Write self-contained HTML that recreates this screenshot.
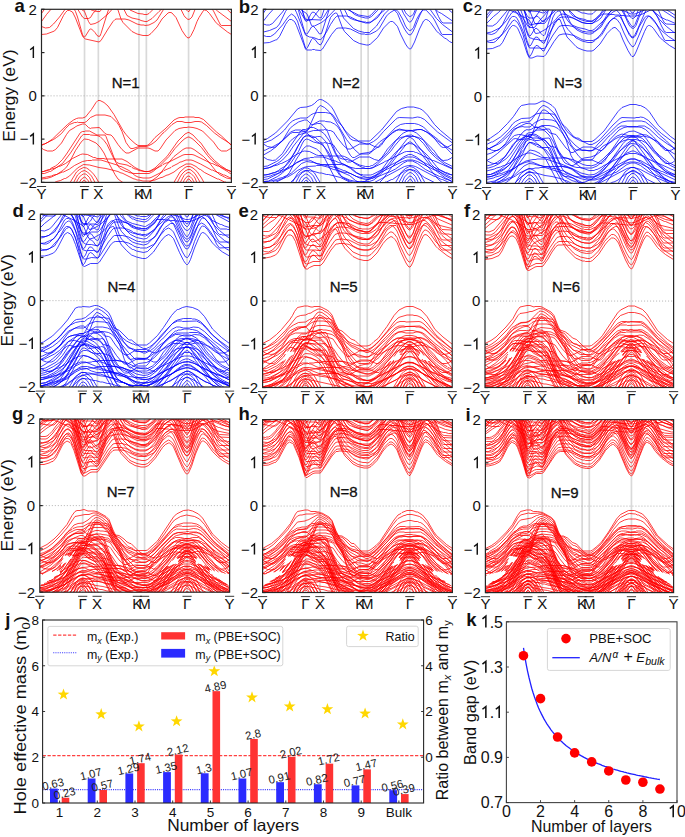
<!DOCTYPE html><html><head><meta charset="utf-8"><style>html,body{margin:0;padding:0;background:#fff;overflow:hidden;}svg{display:block;}</style></head><body><svg width="685" height="837" viewBox="0 0 685 837" font-family='"Liberation Sans", sans-serif' fill="#111">
<rect width="685" height="837" fill="#fff"/>
<clipPath id="clipa"><rect x="41.50" y="9.30" width="189.90" height="173.10"/></clipPath>
<line x1="84.53" y1="9.30" x2="84.53" y2="182.40" stroke="#d9d9d9" stroke-width="1.7"/>
<line x1="98.34" y1="9.30" x2="98.34" y2="182.40" stroke="#d9d9d9" stroke-width="1.7"/>
<line x1="138.96" y1="9.30" x2="138.96" y2="182.40" stroke="#d9d9d9" stroke-width="1.7"/>
<line x1="146.36" y1="9.30" x2="146.36" y2="182.40" stroke="#d9d9d9" stroke-width="1.7"/>
<line x1="188.58" y1="9.30" x2="188.58" y2="182.40" stroke="#d9d9d9" stroke-width="1.7"/>
<line x1="41.50" y1="95.85" x2="231.40" y2="95.85" stroke="#b0b0b0" stroke-width="0.9" stroke-dasharray="1.1,1.9"/>
<g clip-path="url(#clipa)"><path transform="scale(0.5)" fill="none" stroke="#ff0000" stroke-width="1.5" stroke-linejoin="round" d="M83 291l12-6 10-7 30-29 12-9 6-3 4-1 8 0 6-2 12-15 9-14 4-4 4 0 8 4 8 7 12 17 18 32 6 8 8 9 10 9 6 4 18 0 2-1 4-3 10-12 20-17 18-18 8-4 4-1 8 0 2-1 18 0 2 1 8 0 9 4 26 25 10 8 20 19M83 290l4-2 2 0 18-9 6-4 10-8 8-10 8-8 10-4 4 0 2-1 2 1 12 0 4-2 8-8 11-5 18 0 12 3 12 12 4 6 6 12 8 22 8 11 2 1 4 0 12-4 14 0 4-1 8-4 8-6 14-16 2-1 16-16 10-6 10 0 6 2 12 0 8-2 8 0 5 1 10 7 16 15 12 9 16 10 6 5M83 296l4 3 8 3 10 0 6-3 12-13 10-17 6-8 12-7 2-2 12-4 4 0 2 1 6 6 4 2 2-1 15-1 2 1 10 11 4 2 8 1 4 4 10 15 8 10 8 7 6 0 18-10 20 0 4 1 10 5 6 0 4-4 12-18 18-19 8-4 10-2 6 0 2-1 10 1 8 2 11 5 22 22 10 14 6 4 10 0 10-6M83 343l4 0 10-4 2 0 2-2 10-5 4-3 10-10 8-11 28-43 4-2 4 0 2-1 8 0 15 8 16 0 2 3 16 42 4 8 2 2 4 2 16 3 6 3 2 0 2 2 6 3 2 0 6 3 10 2 8 0 4-1 10-6 24-23 22-31 14-14 6-3 2 0 8 5 12 13 3 2 16 23 12 13 12 10 12 8 10 4M83 347l6 0 10-4 2 0 24-16 16-21 22-34 4-3 12 0 2 1 13 1 6 2 8 8 6 8 14 29 8 14 4 5 12 6 2 0 4 2 10 2 30 0 8-4 12-10 20-20 12-16 14-15 6-5 6-3 2 0 6 3 6 5 13 13 12 16 8 9 20 16 12 7 2 2 4 2 2 0M83 358l10-1 10-3 12-6 12-8 6-6 4-6 14-27 10-15 4-5 4-3 8 1 15 7 8 8 8 12 8 17 14 26 6 9 8 6 14 7 8 2 14 0 4-2 2 0 18-10 10-7 6-6 14-19 14-16 18-14 6-3 10 0 6 3 19 14 8 8 16 20 8 8 14 7 10 2M83 344l16-4 4-2 8-2 6-3 2 0 12-6 14-10 16-8 4-1 10 1 12 6 3 0 4 2 14 0 2 1 34 0 10 5 16 12 10 5 10 3 8 0 4-1 22-11 2-2 6-3 2 0 32-16 4-1 14 0 4 1 35 17 2 0 10 5 2 0 26 12M83 356l20-4 4-2 6-1 12-5 2 0 12-6 10-7 16-8 10-2 8 0 2-1 17 0 32 10 6 3 2 0 16 8 12 10 6 3 10 2 12 0 4-1 24-12 2-2 14-6 2-2 12-6 4-3 2 0 10-4 10 0 4 1 15 7 22 12 2 0 10 5 2 0 10 5 2 0 10 5 4 1M83 369l14-1 12-3 4-2 8-2 8-4 2 0 8-5 16-16 12-7 12 1 19 5 14 2 24 6 6 3 2 0 24 12 2 0 4 2 4 0 8 2 14 0 10-2 12-5 2 0 10-5 2 0 12-6 10-8 14-8 10 0 10 5 6 5 3 1 8 6 26 13 2 0 12 6 2 0 8 4 4 1M133 377l20-33 6-5 8-4 6 1 6 4 8 8 5 7 12 21M342 375l18-31 10-9 4-2 6 0 6 3 8 7 9 13 12 22M141 377l14-27 8-7 6-2 6 3 8 8 15 27M348 378l12-24 4-6 6-6 6-3 4 0 2 1 8 7 17 29M147 379l8-19 4-6 4-4 4-2 4 0 2 1 6 6 8 18 3 4M356 376l6-14 6-11 4-4 4-2 2 0 4 2 6 6 2 3 6 15 5 8M155 375l4-11 4-6 6-4 2 1 6 7 6 17M362 378l6-17 4-6 4-3 4 1 4 4 4 7 4 12M159 378l2-8 2-4 4-5 2 0 2 1 4 6 4 14M366 383l4-16 6-9 2 0 4 4 2 4 4 14M83 69l10-1 16-6 6-7 12-24 4-6 4-4 4 0 6 3 6 12 14 36 2 3 4 3 27 6 4-3 14-23 10-15 4-4 2-1 18 0 8 2 16 8 8 2 6 0 2 1 8-1 10-5 6-5 18-29 4-3M354 6l8 13 6 12 2 3 6 5 4-1 4-4 6-15 8-13M415 7l4 4 8 11 14 28 2 1 20 0M83 53l8 3 8-1 8-7 12-14 16-22 4-2 2 0 2 1 4 5 4 7 4 11 10 35 2 4 2 1 2-2 8-13 2-1 2 0 7 7 4 6 4 2 2-1 2-5 14-45 4-8 6-5 4-1 6 12 6 18 4 7 18 18 10 5 12 3 10 0 2-1 4-3 12-13 10-16 12-12 2-1 4 0 2 1 8 9 12 26 6 9 4 5 4 1 4-5 6-12 6-16 4-8 9-14 2-1 4 1 6 6 12 17 6 6 18 14 8 5M83 43l10-14 18-21M149 8l16 26 4 3 8 0 4-2 6-10 3-2 14-17M240 7l6 8 8 16 10 5 14 3 4 2 8 2 4 0 10-6 14-14 18-16M368 8l6 2 6 0 6-2M419 7l16 15 28 21M83 27l14-20M141 8l22 11 6 4 8 20 4 6 9-2 8-4 18-15 14-16 4-2 6 0 4 2 2 0 12 6 2 2 16 7 10 1 2 1 6 0 4-2 16-16 2-1 26 1 2 1 16 1 2 1 22 0 17-6M443 8l20 19M163 6l4 9 6 3 8 1 4 2 9 2 6 0 10-15M161 1l4 14 2 4 2 1 2-1 6-11 2-2M185 6l11 13 4-1 4-11M262 7l2 2 12 6 14 3 4 0 6-3 8-8M364 7l8 12 4 4 2 0 8-13 2-5"/></g>
<rect x="41.50" y="9.30" width="189.90" height="173.10" fill="none" stroke="#262626" stroke-width="1.2"/>
<line x1="41.50" y1="9.30" x2="44.50" y2="9.30" stroke="#262626" stroke-width="1.2"/>
<text x="36.90" y="14.60" font-size="15" text-anchor="end">2</text>
<line x1="41.50" y1="52.58" x2="44.50" y2="52.58" stroke="#262626" stroke-width="1.2"/>
<path d="M30.15,49.77 L33.35,47.27 L33.35,57.88" fill="none" stroke="#111" stroke-width="1.45" stroke-linejoin="miter"/>
<line x1="41.50" y1="95.85" x2="44.50" y2="95.85" stroke="#262626" stroke-width="1.2"/>
<text x="36.90" y="101.15" font-size="15" text-anchor="end">0</text>
<line x1="41.50" y1="139.12" x2="44.50" y2="139.12" stroke="#262626" stroke-width="1.2"/>
<path d="M30.15,136.33 L33.35,133.83 L33.35,144.43" fill="none" stroke="#111" stroke-width="1.45" stroke-linejoin="miter"/>
<text x="28.56" y="144.43" font-size="15" text-anchor="end">−</text>
<line x1="41.50" y1="182.40" x2="44.50" y2="182.40" stroke="#262626" stroke-width="1.2"/>
<text x="36.90" y="187.70" font-size="15" text-anchor="end">−2</text>
<text x="41.50" y="198.80" font-size="15" text-anchor="middle">Y</text>
<line x1="36.90" y1="186.50" x2="46.10" y2="186.50" stroke="#222" stroke-width="0.9"/>
<text x="84.53" y="198.80" font-size="15" text-anchor="middle">Γ</text>
<line x1="79.93" y1="186.50" x2="89.13" y2="186.50" stroke="#222" stroke-width="0.9"/>
<text x="98.34" y="198.80" font-size="15" text-anchor="middle">X</text>
<line x1="93.74" y1="186.50" x2="102.94" y2="186.50" stroke="#222" stroke-width="0.9"/>
<text x="138.96" y="198.80" font-size="15" text-anchor="middle">K</text>
<line x1="134.36" y1="186.50" x2="143.56" y2="186.50" stroke="#222" stroke-width="0.9"/>
<text x="146.36" y="198.80" font-size="15" text-anchor="middle">M</text>
<line x1="141.76" y1="186.50" x2="150.96" y2="186.50" stroke="#222" stroke-width="0.9"/>
<text x="188.58" y="198.80" font-size="15" text-anchor="middle">Γ</text>
<line x1="183.98" y1="186.50" x2="193.18" y2="186.50" stroke="#222" stroke-width="0.9"/>
<text x="231.40" y="198.80" font-size="15" text-anchor="middle">Y</text>
<line x1="226.80" y1="186.50" x2="236.00" y2="186.50" stroke="#222" stroke-width="0.9"/>
<text x="111.70" y="87.80" font-size="15" stroke="#111" stroke-width="0.3">N=1</text>
<text x="14.50" y="12.00" font-size="18.5" font-weight="bold">a</text>
<clipPath id="clipb"><rect x="263.30" y="9.30" width="189.30" height="173.30"/></clipPath>
<line x1="306.93" y1="9.30" x2="306.93" y2="182.60" stroke="#d9d9d9" stroke-width="1.7"/>
<line x1="320.90" y1="9.30" x2="320.90" y2="182.60" stroke="#d9d9d9" stroke-width="1.7"/>
<line x1="361.15" y1="9.30" x2="361.15" y2="182.60" stroke="#d9d9d9" stroke-width="1.7"/>
<line x1="368.13" y1="9.30" x2="368.13" y2="182.60" stroke="#d9d9d9" stroke-width="1.7"/>
<line x1="410.48" y1="9.30" x2="410.48" y2="182.60" stroke="#d9d9d9" stroke-width="1.7"/>
<line x1="263.30" y1="95.95" x2="452.60" y2="95.95" stroke="#b0b0b0" stroke-width="0.9" stroke-dasharray="1.1,1.9"/>
<g clip-path="url(#clipb)"><path transform="scale(0.5)" fill="none" stroke="#0000ff" stroke-width="1.5" stroke-linejoin="round" d="M527 280l2 0 6-3 16-11 24-24 20-24 6-3 12-1 10-3 6-4 6-6 4-2 2 0 4 1 10 6 8 8 4 6 12 24 10 16 12 12 16 10 22 0 2-1 22-21 30-37 10-6 12-3 12 0 12 3 6 3 10 10 14 19 12 12 24 20M527 310l14-8 8-6 32-29 4-2 12 0 2-1 12-1 2-1 4-5 18-40 2-3 4-3 8 4 10 9 8 11 26 44 16 20 10 9 18 0 4-2 10-14 8-8 10-7 6-3 10-8 8-5 4-1 28 1 2-1 14-1 4 1 16 8 10 7 6 5 28 29M527 286l16-6 16-11 10-9 10-13 6-5 6-3 10-3 12 0 4-2 4-4 6-3 8-2 16 0 10 2 4 2 8 11 12 13 8 14 8 11 6 3 8 1 4 2 14 4 4 0 10-5 8-6 12-14 24-24 4-3 4-1 26 1 10-2 6 1 8 4 26 25 30 22M527 301l4-1 8-4 2 0 16-9 8-6 16-17 10-4 10 0 6 2 6 0 2-1 10-11 4-3 10-5 10 0 2 1 10 1 8 4 6 5 6 9 6 12 8 27 6 10 4 4 4 0 14-8 14-2 8-3 12-9 6-7 22-21 4-3 10-4 16 4 10 0 10-3 8 0 10 5 22 18 30 19M527 288l8 5 10 2 6-1 14-13 14-23 6-6 12-8 12-4 4 0 2 1 8 8 4 0 8-2 6 0 2 1 10 11 4 2 4 0 6 3 8 12 12 15 8 7 6 0 18-10 20 0 10 5 8 2 6-5 12-18 16-17 10-6 10-2 18 0 8 2 10 5 16 16 2 3 2 1 8 11 8 9 4 1 8-1 8-4 2-2M527 314l8 5 10 2 6-1 14-13 14-23 6-6 12-8 12-4 4 0 2 1 8 8 4 0 8-2 6 0 2 1 10 11 4 2 4 0 6 3 8 12 12 15 8 7 6 0 18-10 20 0 10 5 8 2 6-5 12-18 16-17 10-6 10-2 18 0 8 2 10 5 16 16 2 3 2 1 8 11 8 9 4 1 8-1 8-4 2-2M527 333l8-1 18-9 6-4 12-13 30-43 4-4 6 0 10-4 6 0 10 5 10 0 2-1 4 1 2 3 16 42 6 10 8 3 10 1 4 2 2 0 18 9 12 3 8 0 4-2 2 0 10-7 20-19 20-28 8-8 4-3 10-5 6 0 10 5 10 9 20 28 6 6 20 16 16 8M527 359l8-1 18-9 6-4 8-8 24-34 10-20 6-9 6-2 4 0 6 2 10 9 6 3 8 0 2-1 4 1 2 3 16 42 6 10 8 3 10 1 4 2 2 0 18 9 12 3 8 0 4-2 2 0 10-7 20-19 10-13 12-18 18-23 4-2 2 0 6 4 6 9 10 12 20 29 6 6 20 16 16 8M527 337l10-1 18-9 10-7 12-13 10-15 20-25 6-3 4 0 10-3 10 0 4 1 8 6 10 14 12 26 12 19 16 7 12 3 28 0 8-3 8-6 26-25 8-11 12-14 12-7 10-1 14 7 10 10 12 16 12 12 20 15 14 7M527 363l10-1 18-9 10-7 12-13 20-30 8-17 4-6 4-2 4 1 10 5 12 3 6 3 8 9 6 9 12 26 12 19 16 7 12 3 28 0 8-3 8-6 24-23 34-43 2-2 4-2 2 0 6 4 32 41 12 12 20 15 14 7M527 350l10-1 10-4 2 0 8-4 2-2 12-7 6-6 4-6 14-27 12-18 6-5 8 1 10 4 14 13 6 10 22 43 6 9 8 6 14 7 8 2 14 0 4-2 2 0 18-10 10-7 6-6 14-19 14-16 16-13 8-4 4-1 6 1 6 3 18 14 8 8 16 20 8 8 14 7 10 2M527 371l8 0 8-2 20-10 10-7 6-7 14-27 14-21 6-5 6 0 14 6 6 5 6 7 4 6 26 50 2 3 8 7M743 377l12-8 10-10 18-24 10-10 14-11 10-5 6 0 10 5 14 11 12 12 16 20 8 7 14 6 8 1M527 338l16-4 4-2 8-2 6-3 2 0 12-6 16-11 14-7 4-1 10 1 14 7 4 1 10 0 2 1 36 0 4 1 8 4 16 12 12 6 2 0 4 2 10 0 4-1 24-12 2-2 2 0 36-18 4-1 14 0 4 2 2 0 32 16 2 0 38 17M527 355l14-3 4-2 14-4 20-10 14-10 10-5 4-1 10 0 4 1 14 7 4 0 2 1 42 0 2 1 4 0 12 7 10 8 16 8 8 2 8-1 4-2 2 0 10-5 2-2 44-22 10-3 10 0 10 3 34 17 2 0 32 15 2 0M527 350l4 0 20-5 4-2 14-4 16-8 8-6 16-8 10-1 2-1 6 0 2-1 16 0 8 2 12 5 6 1 6 3 10 3 14 7 12 10 8 4 4 0 2 1 14 0 4-1 66-34 4-1 10 0 4 1 36 19 2 0 12 6 2 0 10 5 2 0 8 4 4 1M527 368l6-2 4 0 8-2 4-2 6-1 4-2 8-2 6-3 2 0 12-7 8-6 12-6 8-2 16-1 2-1 10 0 12 3 12 5 6 1 26 11 12 10 10 5 10 1 2 1 10-1 4-2 2 0 60-32 8-2 6 0 8 2 38 20 2 0 12 6 2 0 20 9M527 363l10 0 16-4 4-2 8-2 6-3 2 0 10-6 20-19 10-4 14 2 18 5 4 0 26 6 12 5 2 0 24 12 14 3 18 0 14-4 16-7 2 0 14-7 16-12 8-4 10 0 10 5 16 12 28 14 2 0 12 6 2 0 8 4 2 0M553 376l10-3 6-3 2 0 10-5 20-19 8-5 10 0 2 1 4 0 14 4 4 0 10 3 4 0 24 6 24 12 2 0 8 4 10 2 14 1 2-1 10-1 4-2 8-2 8-4 2 0 10-5 2 0 24-17 8-3 10 1 6 3 16 12 34 17 2 0 8 4M577 378l18-31 6-6 8-5 6 0 6 3 8 7 18 30M785 376l18-32 8-7 8-4 2 0 6 2 8 6 4 5 18 32M585 377l14-26 6-6 6-3 4 0 6 4 6 6 14 27M791 378l16-30 4-4 8-5 2 0 6 3 6 5 4 6 12 24M591 379l10-22 4-5 6-4 2 0 4 2 6 6 10 22M799 377l10-23 8-8 4-1 4 2 6 6 12 26M599 376l4-12 6-8 4-1 2 1 6 7 6 16M805 379l6-18 8-9 4 1 6 7 6 17M603 378l2-7 4-8 2-2 2 0 2 1 4 7 4 14M809 383l4-15 4-7 4-3 6 8 4 14M527 64l12-3 14-6 6-7 12-25 4-6 4-4 4 0 6 4 4 8 18 45 8 4 8 1 10 4 4 0 4-3 8-12 8-15 8-12 4-4 2-1 18 0 8 2 16 8 8 2 6 0 2 1 8-1 12-7 4-4 16-27M801 5l10 20 2 3 6 5 4-1 4-4 6-15 4-7M863 6l6 9 8 18 6 11 4 2 18 0M527 86l12-1 12-5 2 0 6-7 12-24 4-6 4-4 4 0 6 4 4 8 18 47 2 2 10 0 2-1 4 0 2 1 10 1 4-3 18-29 10-12 4-1 14 0 10 2 18 9 4 1 6 0 2 1 10-1 12-6 6-6 14-24 6-6 10-6 4 0 4 4 8 14 6 14 4 6 4 3 4-1 4-5 6-16 8-14 4-4 2-1 4 0 2 1 12 13 4 6 14 28 2 1 20 0M527 48l6 2 6 0 6-3 20-23 12-17M589 6l4 6 4 9 12 42 2 4 2 1 2-1 8-13 2-1 2 0 4 4 8 11 4-1 16-50 2-5 4-5M675 5l12 31 20 21 10 5 12 3 10 0 14-13 16-24 10-10 2-1 4 0 2 1 8 9 6 15 8 16 4 6 4 5 4 1 4-5 4-8 10-25 8-16 2-2 4-1 6 4 14 20 12 12 20 15M527 71l6 2 8 0 8-5 16-18 12-17 6-5 6 4 6 10 16 54 2 1 2-2 8-16 2-2 4 1 8 10 4 2 4-6 16-49 6-7 4-2 2 0 2 3 10 27 4 7 18 18 12 6 14 3 4 0 4-2 14-13 12-19 12-12 2-1 4 0 2 1 8 9 6 15 10 20 4 6 4 4 2 0 2-2 6-12 10-26 8-16 4-3 2 0 4 2 4 4 12 17 4 4 12 10 4 2 6 5 6 3M527 42l10-13 20-22M589 6l6 8 14 24 2 2 12 0 10-14 16-19M679 6l8 9 8 16 4 5 10 4 14 3 8 3 8 0 4-2 16-16 6-4 12-12 6-4M803 8l6 3 12 3 8-2 8-4M857 7l8 6 12 11 6 3 22 15M527 26l8-12 6-7M575 8l10 3 18 9 10 7 2 3 8 21 2 1 4 0 14-7 4-3 6-5 22-23 8 0 4 1 30 15 18 3 4-1 4-3 12-13 4-2 20 0 2 1 8 0 10 2 24 1 10-2 18-8M883 8l8 5 14 13M609 5l4 6 16 4 8 3 6 0 8-12M543 8l6 0 2 1 4-1M599 5l10 29 2 3 4 3 4 0 2-1 20 1 2-1 4-4 18-29M733 8l4 0M607 2l4 12 2 1 6-8M633 7l4 5 4 3 2-2 4-11M717 8l10 3 10 1 4-2 4-4M811 7l4 6 4 4 2 0 6-10M601 8l8 29 2 5 2 1 4-5 4-9 4-5 4 1 10 11 4-1 10-31M687 6l6 8 16 15 10 4 12 3 6 0 6-3 12-12 10-15M797 4l10 23 10 16 2 1 2 0 4-5 14-34M891 8l6 2 8 1"/></g>
<rect x="263.30" y="9.30" width="189.30" height="173.30" fill="none" stroke="#262626" stroke-width="1.2"/>
<line x1="263.30" y1="9.30" x2="266.30" y2="9.30" stroke="#262626" stroke-width="1.2"/>
<text x="258.70" y="14.60" font-size="15" text-anchor="end">2</text>
<line x1="263.30" y1="52.62" x2="266.30" y2="52.62" stroke="#262626" stroke-width="1.2"/>
<path d="M251.95,49.82 L255.15,47.32 L255.15,57.92" fill="none" stroke="#111" stroke-width="1.45" stroke-linejoin="miter"/>
<line x1="263.30" y1="95.95" x2="266.30" y2="95.95" stroke="#262626" stroke-width="1.2"/>
<text x="258.70" y="101.25" font-size="15" text-anchor="end">0</text>
<line x1="263.30" y1="139.28" x2="266.30" y2="139.28" stroke="#262626" stroke-width="1.2"/>
<path d="M251.95,136.48 L255.15,133.98 L255.15,144.58" fill="none" stroke="#111" stroke-width="1.45" stroke-linejoin="miter"/>
<text x="250.36" y="144.58" font-size="15" text-anchor="end">−</text>
<line x1="263.30" y1="182.60" x2="266.30" y2="182.60" stroke="#262626" stroke-width="1.2"/>
<text x="258.70" y="187.90" font-size="15" text-anchor="end">−2</text>
<text x="263.30" y="199.00" font-size="15" text-anchor="middle">Y</text>
<line x1="258.70" y1="186.70" x2="267.90" y2="186.70" stroke="#222" stroke-width="0.9"/>
<text x="306.93" y="199.00" font-size="15" text-anchor="middle">Γ</text>
<line x1="302.33" y1="186.70" x2="311.53" y2="186.70" stroke="#222" stroke-width="0.9"/>
<text x="320.90" y="199.00" font-size="15" text-anchor="middle">X</text>
<line x1="316.30" y1="186.70" x2="325.50" y2="186.70" stroke="#222" stroke-width="0.9"/>
<text x="361.15" y="199.00" font-size="15" text-anchor="middle">K</text>
<line x1="356.55" y1="186.70" x2="365.75" y2="186.70" stroke="#222" stroke-width="0.9"/>
<text x="368.13" y="199.00" font-size="15" text-anchor="middle">M</text>
<line x1="363.53" y1="186.70" x2="372.73" y2="186.70" stroke="#222" stroke-width="0.9"/>
<text x="410.48" y="199.00" font-size="15" text-anchor="middle">Γ</text>
<line x1="405.88" y1="186.70" x2="415.08" y2="186.70" stroke="#222" stroke-width="0.9"/>
<text x="452.60" y="199.00" font-size="15" text-anchor="middle">Y</text>
<line x1="448.00" y1="186.70" x2="457.20" y2="186.70" stroke="#222" stroke-width="0.9"/>
<text x="331.90" y="88.20" font-size="15" stroke="#111" stroke-width="0.3">N=2</text>
<text x="238.70" y="13.40" font-size="18.5" font-weight="bold">b</text>
<clipPath id="clipc"><rect x="486.60" y="10.00" width="188.80" height="173.40"/></clipPath>
<line x1="529.27" y1="10.00" x2="529.27" y2="183.40" stroke="#d9d9d9" stroke-width="1.7"/>
<line x1="543.62" y1="10.00" x2="543.62" y2="183.40" stroke="#d9d9d9" stroke-width="1.7"/>
<line x1="583.64" y1="10.00" x2="583.64" y2="183.40" stroke="#d9d9d9" stroke-width="1.7"/>
<line x1="590.82" y1="10.00" x2="590.82" y2="183.40" stroke="#d9d9d9" stroke-width="1.7"/>
<line x1="633.11" y1="10.00" x2="633.11" y2="183.40" stroke="#d9d9d9" stroke-width="1.7"/>
<line x1="486.60" y1="96.70" x2="675.40" y2="96.70" stroke="#b0b0b0" stroke-width="0.9" stroke-dasharray="1.1,1.9"/>
<g clip-path="url(#clipc)"><path transform="scale(0.5)" fill="none" stroke="#0000ff" stroke-width="1.5" stroke-linejoin="round" d="M973 279l2 0 6-3 16-11 18-18 12-14 12-18 4-4 15-3 12 0 4-1 10-5 2 0 4 1 8 4 6 4 6 6 10 22 8 15 6 9 12 11 18 9 20 0 6-4 18-17 28-39 8-8 16-6 12 0 6 2 3 0 10 5 8 8 18 27 24 22 10 7M973 300l18-10 14-12 20-21 12-9 6-3 15-2 4-2 18-25 6-5 2 0 8 4 14 13 16 31 10 16 14 15 14 11 20 0 2-1 10-12 40-39 8-5 10-2 29 0 8 2 14 11 14 15 14 12 18 18M973 321l8-4 14-10 32-29 4-1 8 2 7 0 2-1 6 0 6-2 4-7 16-41 4-7 2-1 4 0 6 4 10 10 6 8 20 36 6 9 20 26 8 7 16 0 4-2 10-15 8-9 4-3 14-7 8-6 8-4 10-1 2 1 20 1 2-1 6 0 9-2 12 3 16 8 4 3 18 17 14 18M973 288l2 0 8-4 2 0 16-10 16-15 8-11 6-5 12-6 17-1 12-8 10-2 18 1 2 1 4 0 4 2 10 15 4 4 4 2 6 6 12 15 6 4 4 0 2 1 8 6 12 6 6 0 8-4 8-6 26-29 14-13 4-2 26 1 2-1 6 0 3-1 6 1 10 6 16 17 10 9 28 21M973 299l4-2 2 0 18-9 6-4 16-15 8-10 8-4 4-1 7-1 2 1 12 0 10-9 12-6 4 0 2-1 2 1 14 1 8 3 8 10 8 8 4 6 10 22 4 6 6 5 18 0 8 2 4 0 6-2 14-10 16-18 2-1 14-14 8-5 10 0 6 2 14 0 6-2 11 0 10 6 18 17 18 13 10 6 6 5M973 309l10-3 16-8 6-4 10-8 8-10 6-5 8-2 4 0 15 4 4 0 6-6 4-6 10-8 4-2 14 0 10 2 8 4 6 6 4 5 6 11 10 32 6 10 4 4 4-1 6-5 6-3 14-2 10-4 8-6 30-29 4-3 10-4 20 5 4 0 15-4 10 1 10 6 18 15 30 18M973 294l2 2 8 4 4 1 8 0 4-2 12-12 14-23 6-6 12-7 9-4 4 0 2-1 4 2 8 7 6 0 2-1 10-1 12 13 12 3 20 27 10 9 4 0 20-11 18 0 16 7 4 0 6-6 10-16 18-19 10-5 10-2 14 0 2 1 4 0 5 1 8 4 16 15 10 11 6 9 8 7 8 0 4-1 4-2 4-4M973 320l2 2 8 4 4 1 8 0 4-2 12-12 14-23 6-6 12-7 9-4 4 0 2-1 4 2 8 7 6 0 10-2 4 2 10 11 12 3 20 27 10 9 4 0 20-11 18 0 16 7 4 0 6-6 10-16 18-19 10-5 10-2 14 0 6 2 5 0 8 4 16 15 10 11 6 9 8 7 8 0 4-1 4-2 4-4M973 332l12-3 10-5 14-10 14-18 20-29 3-2 2-3 6-3 2 1 6-1 6-4 4-1 2 0 8 4 4 1 4 0 2-1 6 0 2 1 18 46 6 9 24 6 18 9 8 2 6 0 2 1 10-3 14-11 16-16 16-23 10-11 10-5 10-1 17 7 8 9 16 23 10 10 20 15 12 6M973 350l8-1 18-9 6-4 8-8 6-8 24-37 7-9 4-4 10-1 2-1 6 1 12 8 14-1 2 2 16 41 4 8 4 5 4 2 16 3 18 9 16 4 10-1 6-3 8-6 22-22 22-31 12-12 6-3 4 0 8 6 2 3 11 10 18 26 6 7 18 15 6 4 14 7M973 368l8-1 10-4 2-2 12-7 8-8 26-38 4-9 3-4 6-12 6-4 4 0 6 2 8 8 8 6 14 0 2 1 18 46 6 9 6 2 4 0 12 3 18 9 12 3 10 0 10-5 18-16 8-8 6-8 32-46 4-3 4 0 4 4 15 20 22 32 20 18 12 8 8 4 2 0M973 336l4 0 10-3 10-5 16-11 8-9 16-23 15-16 4-3 8-1 10-5 12 0 4 2 8 8 8 12 10 22 12 20 2 2 16 7 8 2 6 0 2 1 22 0 10-4 12-10 20-20 14-18 8-8 12-5 8 0 8 2 9 4 6 6 12 16 8 9 18 15 12 8 10 5M973 354l10-1 16-8 12-8 8-8 22-32 5-6 6-10 6-6 4 0 2 1 10 0 16 4 6 6 8 11 14 29 8 14 6 6 16 6 10 2 28 0 10-5 28-26 16-21 12-13 10-8 6 0 6 4 4 4 3 1 4 4 22 28 8 8 18 14 18 10M973 373l8-1 6-3 2 0 12-7 14-10 6-7 16-24 9-15 6-13 6-8 2 0 12 6 2 2 10 3 8 4 12 15 12 26 12 20 2 2 8 4 2 0 10 4 12 1 2 1 20 0 8-3 18-15 16-16 34-45 6-4 6 5 6 9 3 2 24 32 12 12 18 14 16 9M973 349l8 0 10-3 16-8 12-8 8-11 14-27 13-18 4-4 8 0 4 2 2 0 10 6 8 8 6 9 14 28 14 25 4 4 6 4 12 6 2 0 4 2 4 0 2 1 8 0 4-1 14-6 2-2 12-7 12-11 16-22 10-11 16-13 10-5 10 1 13 8 18 16 14 18 14 13 12 5 8 1M973 365l16-3 20-10 10-7 8-11 16-30 5-5 8-12 4-2 4 0 10 4 2 0 6 4 6 6 10 15 8 17 18 32 8 7 16 8M1174 378l14-7 12-8 10-10 24-31 20-16 10-4 4 0 10 5 9 6 12 10 24 29 6 5 10 5 12 3M987 378l16-7 2-2 12-7 6-6 16-30 15-21 6-5 10 2 10 5 12 12 26 50 6 9M1200 378l8-7 20-27 10-10 12-10 6-4 6-2 8 0 13 7 12 10 10 10 14 18 8 8 14 7M973 342l16-4 4-2 8-2 6-3 2 0 12-6 14-10 17-8 4-1 6 0 22 9 10 0 2 1 36 0 4 1 10 6 16 12 16 6 10 0 4-2 2 0 10-5 2-2 46-23 2 0 4-2 14 0 13 5 2 0 6 4 16 8 2 0 40 18M973 359l14-3 4-2 8-2 6-3 2 0 16-8 14-10 13-6 8-2 2 1 4 0 22 9 44 0 4 1 10 5 16 12 16 7 4 0 2 1 10-2 18-9 2-2 20-9 2-2 16-8 10-3 10 0 11 3 34 17 2 0 32 15 2 0M973 354l4 0 16-4 4-2 6-1 12-5 2 0 12-6 8-6 15-8 14-3 6 0 2-1 18 0 26 9 2 0 24 10 18 14 12 3 14 0 4-2 2 0 62-33 4-1 10 0 8 3 3 0 28 16 2 0 12 6 2 0 10 5 2 0 10 5 4 1M973 372l6-2 4 0 8-2 4-2 6-1 12-5 2 0 16-8 8-6 17-8 12-1 2-1 8 0 2-1 10 0 32 10 6 3 2 0 18 9 12 10 6 3 12 1 2 1 4 0 8-2 62-33 8-2 6 0 13 4 34 18 2 0 34 15M973 367l10 0 16-4 4-2 8-2 8-4 2 0 8-5 19-18 10-5 10 1 10 3 4 0 10 3 4 0 10 3 4 0 8 2 4 2 6 1 26 13 2 0 4 2 14 3 16 0 18-5 10-5 2 0 10-5 2 0 22-16 8-3 8 0 11 5 16 12 26 13 2 0 14 7 2 0 10 4M1007 377l10-3 10-5 16-16 13-8 10 0 2 1 4 0 18 5 14 2 20 5 6 3 2 0 24 12 10 3 10 1M1188 377l4 0 8-2 14-6 2 0 10-5 2 0 8-4 14-11 12-6 10 1 9 4 14 11 34 17 4 1M1023 379l18-31 9-7 8-4 2 0 8 4 8 7 18 31M1230 378l14-25 6-9 10-8 2-1 6 0 8 4 9 8 18 32M1031 378l12-23 9-9 6-3 2 0 4 2 8 7 14 26M1236 381l16-31 4-4 8-5 4 0 4 2 9 8 14 27M1037 380l6-14 5-8 8-8 6 0 8 8 10 22M1244 379l12-25 6-6 2-1 4 0 6 5 7 10 8 18M1043 382l7-17 2-3 6-5 4 1 6 7 6 17M1250 382l6-18 4-6 4-4 2 0 4 2 4 5 9 22M1050 378l4-11 4-4 2 0 2 2 4 6 2 7M1256 378l4-12 2-3 4-3 2 1 4 6 4 13M973 66l10-2 16-8 6-7 12-25 4-6 6-4 6 3 2 2 11 25 10 27 2 3 2 2 2 0 4 2 10 1 4 2 8 1 2-1 6-9 14-25 8-11 6-2 12 0 10 2 18 9 10 2 10 0 12-6 6-5 16-27M1246 6l10 21 4 6 4 4 4-1 4-4 6-16 5-7M1309 8l6 8 10 23 4 7 4 2 18 1M973 82l4 0 8-2 14-6 6-7 16-31 4-3 4 0 4 2 4 7 9 20 8 24 4 9 2 1 20 0 2 1 6 0 4-3 14-24 12-17 6-2 12 0 10 2 20 10 4 0 2 1 12 0 4-1 6-3 8-6 18-30 8-7 6-3 4 0 2 1 8 13 10 22 4 5 4 2 2-1 4-5 6-16 7-12 6-8 4-2 6 3 10 12 4 6 8 18 6 11 4 2 18 0M973 98l12-1 12-5 2 0 6-7 12-24 4-6 4-4 2 0 4 1 4 4 2 4 9 21 8 25 4 9 2 1 4 0 10-4 14 1 4-4 16-26 10-13 8-2 8 0 14 3 18 9 4 0 2 1 14 0 12-6 6-6 16-27 10-8 4-2 4 0 4 4 10 19 6 14 6 7 4-1 4-5 6-16 11-18 4-4 4 0 2 1 12 13 4 6 14 28 2 1 20 0M973 51l4 1 8 0 8-5 20-24 10-15M1035 8l6 11 5 13 8 30 4 10 2 0 2-2 6-10 4-4 6 5 4 6 4 4 2 0 2-2 14-46 4-10 4-5M1122 9l10 27 4 6 8 9 10 9 10 5 12 3 6 0 6-3 14-15 10-17 6-7 6-6 4-2 2 0 2 1 8 9 8 20 6 12 8 12 2 2 2 0 4-5 4-8 19-43 2-3 2-1 2 0 4 2 16 23 14 14 14 11 4 2M973 67l10 2 8-3 22-25 10-15 6-4 4 2 8 13 5 13 8 31 4 11 2 0 2-2 6-12 2-3 2-1 4 1 6 8 6 4 4-8 14-45 4-7 4-4 2-1 4 0 12 31 4 6 16 17 12 6 12 3 8 0 2-1 4-3 12-13 12-19 6-7 6-5 4 0 4 2 6 8 8 19 8 16 6 9 4 3 4-5 21-49 6-8 4 1 6 6 10 15 6 7 14 12 14 9M973 83l6 2 8 0 4-2 10-10 12-14 12-17 4-2 6 5 6 11 5 13 10 39 2 4 2 1 4-7 4-10 4-5 2 0 4 2 8 9 2 0 4-8 4-14 12-34 6-6 2-1 4 0 14 35 18 19 4 3 10 4 8 2 10 0 4-2 12-12 14-21 10-10 4-2 2 0 2 1 8 9 6 15 10 21 6 10 2 2 2 0 2-1 4-8 17-41 4-8 2-3 2-1 2 0 4 2 4 4 12 17 6 6 14 11 12 7M973 37l10-13 14-15M1039 7l4 7 7 9 4 8 4 5 10 0 2-1 10-14 12-14M1132 9l8 16 6 7 10 4 14 3 4 2 10 1 8-5 30-29M1311 8l6 6 8 6 26 17M973 47l14-14 10-8 10-11 8-5M1021 9l6 4 10 10 6 10 7 9 4 8 4 5 10 0 2-1 10-14 10-11 10-13 2-2 6-3 4 0 6 3 6 5 10 12 6 13 4 6 12 5 14 3 8 3 6 0 4-2 32-30 6-5 10-5 10 2 16 7 8 0 21-9 6-1 8 3 16 13 12 6 2 0 16 7M973 21l8-12M1035 9l17 8 8 6 8 20 2 4 2 1 6-1 16-10 16-15 8-10 4-2M1128 9l4 1 32 16 4 0 8 2 8 0 2-1 16-16 4-2M1220 10l10 0 2 1 16 1 2 1 22 0 13-4M1337 8l14 13M973 31l12-14 6-4 6 0 4 2 16 4 20 9 2 2 13 6 6 4 4 6 8 20 2 1 6-1 14-8 18-17 8-10 6-3 8 1 32 16 10 2 10 0 2-1 16-16 4-2 12 0 2 1 8 0 2 1 8 0 2 1 8 0 2 1 22 0 11-3 22-11 8-2 8 0 8 2 10 5 12 8M1052 5l6 15 4 2 14 1 10 3 4-1 10-16M973 11l4 2 8 2 16 0 6-6M1043 9l3 6 10 29 2 4 4 2 10-3 16 0 2-1 8-11 16-26M1156 10l6 3 8 2 12 1 4-1 12-6M1264 9l2 1 2-1M1052 6l2 8 4 10 2 0 2-2 8-13M1074 8l4 4 4 6 4 4 2 0 2-3 4-12M1150 8l2 2 14 7 10 2 8 0 2-1 4-3 6-7M1252 7l4 8 8 11 2 0 2-2 8-16M1043 2l3 8 10 39 2 4 2 0 2-2 6-14 4-5 4 1 8 9 4 2 4-8 10-33M1130 7l2 5 4 6 16 16 8 5 14 4 10 0 4-2 12-12 14-21M1240 6l14 32 8 13 4 3 4-5 17-41M1321 9l8 4 2 0 10 4 10 1"/></g>
<rect x="486.60" y="10.00" width="188.80" height="173.40" fill="none" stroke="#262626" stroke-width="1.2"/>
<line x1="486.60" y1="10.00" x2="489.60" y2="10.00" stroke="#262626" stroke-width="1.2"/>
<text x="482.00" y="15.30" font-size="15" text-anchor="end">2</text>
<line x1="486.60" y1="53.35" x2="489.60" y2="53.35" stroke="#262626" stroke-width="1.2"/>
<path d="M475.25,50.55 L478.45,48.05 L478.45,58.65" fill="none" stroke="#111" stroke-width="1.45" stroke-linejoin="miter"/>
<line x1="486.60" y1="96.70" x2="489.60" y2="96.70" stroke="#262626" stroke-width="1.2"/>
<text x="482.00" y="102.00" font-size="15" text-anchor="end">0</text>
<line x1="486.60" y1="140.05" x2="489.60" y2="140.05" stroke="#262626" stroke-width="1.2"/>
<path d="M475.25,137.25 L478.45,134.75 L478.45,145.35" fill="none" stroke="#111" stroke-width="1.45" stroke-linejoin="miter"/>
<text x="473.66" y="145.35" font-size="15" text-anchor="end">−</text>
<line x1="486.60" y1="183.40" x2="489.60" y2="183.40" stroke="#262626" stroke-width="1.2"/>
<text x="482.00" y="188.70" font-size="15" text-anchor="end">−2</text>
<text x="486.60" y="199.80" font-size="15" text-anchor="middle">Y</text>
<line x1="482.00" y1="187.50" x2="491.20" y2="187.50" stroke="#222" stroke-width="0.9"/>
<text x="529.27" y="199.80" font-size="15" text-anchor="middle">Γ</text>
<line x1="524.67" y1="187.50" x2="533.87" y2="187.50" stroke="#222" stroke-width="0.9"/>
<text x="543.62" y="199.80" font-size="15" text-anchor="middle">X</text>
<line x1="539.02" y1="187.50" x2="548.22" y2="187.50" stroke="#222" stroke-width="0.9"/>
<text x="583.64" y="199.80" font-size="15" text-anchor="middle">K</text>
<line x1="579.04" y1="187.50" x2="588.24" y2="187.50" stroke="#222" stroke-width="0.9"/>
<text x="590.82" y="199.80" font-size="15" text-anchor="middle">M</text>
<line x1="586.22" y1="187.50" x2="595.42" y2="187.50" stroke="#222" stroke-width="0.9"/>
<text x="633.11" y="199.80" font-size="15" text-anchor="middle">Γ</text>
<line x1="628.51" y1="187.50" x2="637.71" y2="187.50" stroke="#222" stroke-width="0.9"/>
<text x="675.40" y="199.80" font-size="15" text-anchor="middle">Y</text>
<line x1="670.80" y1="187.50" x2="680.00" y2="187.50" stroke="#222" stroke-width="0.9"/>
<text x="554.10" y="88.00" font-size="15" stroke="#111" stroke-width="0.3">N=3</text>
<text x="462.80" y="11.80" font-size="18.5" font-weight="bold">c</text>
<clipPath id="clipd"><rect x="40.40" y="214.30" width="189.20" height="172.70"/></clipPath>
<line x1="82.44" y1="214.30" x2="82.44" y2="387.00" stroke="#d9d9d9" stroke-width="1.7"/>
<line x1="97.46" y1="214.30" x2="97.46" y2="387.00" stroke="#d9d9d9" stroke-width="1.7"/>
<line x1="137.10" y1="214.30" x2="137.10" y2="387.00" stroke="#d9d9d9" stroke-width="1.7"/>
<line x1="144.10" y1="214.30" x2="144.10" y2="387.00" stroke="#d9d9d9" stroke-width="1.7"/>
<line x1="187.03" y1="214.30" x2="187.03" y2="387.00" stroke="#d9d9d9" stroke-width="1.7"/>
<line x1="40.40" y1="300.65" x2="229.60" y2="300.65" stroke="#b0b0b0" stroke-width="0.9" stroke-dasharray="1.1,1.9"/>
<g clip-path="url(#clipd)"><path transform="scale(0.5)" fill="none" stroke="#0000ff" stroke-width="1.5" stroke-linejoin="round" d="M81 686l6-2 18-12 18-18 12-14 16-24 6-2 6 0 2-1 14 1 10-3 4 0 4 1 10 5 10 8 4 7 6 15 6 12 10 15 10 8 12 6 2 0 4 2 22 0 6-4 16-15 12-16 16-24 8-9 4-3 2 0 8-4 8-2 12 2 12 5 12 13 16 25 18 17 16 12M81 701l16-9 16-13 36-38 4-2 10-1 8-3 20-17 6 0 6 3 8 6 6 6 6 11 4 10 14 24 14 14 16 11 22 0 4-3 24-25 20-24 8-8 6-3 12-3 16 0 2 1 4 0 4 1 8 4 12 12 10 13 36 33M81 719l8-4 12-8 16-14 18-18 6-3 16-4 10-1 4-5 16-30 6-7 2 0 8 4 14 13 10 20 14 24 16 19 12 12 4 2 18 0 4-2 10-13 12-12 10-7 16-14 10-5 24 0 2-1 16 0 10 4 16 12 18 16 10 10 10 12M81 734l12-7 12-9 28-25 4-2 4 0 10 3 2-1 14-2 4-7 6-18 10-25 4-7 4-3 10 6 12 13 16 29 12 19 22 29 6 5 18 0 2-1 4-4 8-13 10-10 32-17 12 0 10 2 10 0 12-3 8 0 10 3 6 3 2 0 10 6 18 17 14 18M81 696l8-2 10-5 14-10 8-7 12-16 8-6 10-5 10-2 8 0 6-5 4-2 10-1 2-1 16 1 10 2 4 5 8 14 10 5 18 18 2 1 4 0 16 13 8 4 6 0 6-3 8-6 8-8 6-8 24-25 10-5 8 0 2 1 28-1 8 4 4 3 20 21 16 13 18 13M81 704l4-2 2 0 18-9 12-9 20-22 14-6 16 0 4-2 6-6 14-5 18 1 2 1 4 0 4 2 8 12 14 13 6 11 10 13 10 2 8 4 2 0 10 4 4 0 10-5 8-6 14-16 2-1 12-13 8-7 8-4 6 0 8 2 12 0 8-2 10 1 12 8 18 18 32 23M81 713l4-1 8-4 2 0 14-8 12-9 14-16 6-3 8-2 10 1 2 1 6 0 4-2 8-9 12-7 14 0 10 2 6 3 16 18 4 7 8 21 8 12 4 2 12-3 16 1 4-1 8-4 8-6 10-11 20-19 12-7 6 0 12 3 10 0 10-3 10 1 10 6 14 13 8 6 12 7 16 11M81 720l8-2 20-10 10-7 12-13 6-5 8-2 4 0 14 4 4 0 2-1 12-14 6-5 8-3 4 1 8 0 10 2 6 3 8 8 8 12 10 32 8 14 4 2 16-9 16-2 6-3 10-7 14-15 14-12 12-7 8 0 12 4 10 0 12-4 6 0 4 2 2 0 8 5 4 4 16 12 10 5 2 2 16 9M81 699l2 2 8 4 4 1 8 0 4-2 14-14 8-14 8-11 10-7 10-5 4-1 6 0 10 8 20-1 12 13 8 1 4 2 10 15 8 10 8 8 4 2 6-1 16-10 20 0 12 6 6 1 4-2 14-21 18-18 4-3 2 0 4-2 4 0 8-2 10 0 2 1 4 0 8 2 4 2 10 8 16 17 8 11 8 7 8 0 4-1 4-2 4-4M81 717l4 4 8 3 10 0 4-2 4-3 10-11 10-17 6-8 12-8 6-3 8-2 4 0 2 1 6 6 4 2 2-1 14-1 2 1 10 11 12 3 4 4 10 15 10 12 6 5 6 0 20-11 16 0 4 1 12 6 6 0 4-4 10-16 20-21 8-4 8-2 6 0 2-1 12 1 12 3 6 4 22 22 10 14 6 4 10 0 6-3 4-4M81 736l10 6 4 0 2 1 8-1 14-13 14-23 6-6 6-4 14-7 4-1 4 0 2 1 4 5 4 3 18-2 2 1 10 11 14 5 10 15 10 12 8 7 6 0 18-10 20 0 10 5 8 2 6-5 12-18 16-17 8-5 12-3 16 0 2 1 4 0 4 1 8 4 16 15 10 11 8 11 6 5 10-1 8-4 2-2M81 738l10-2 22-12 12-13 12-18 12-16 8-9 2-1 8 0 12-6 6 1 6 3 10 0 2-1 4 1 2 3 14 37 4 9 4 6 10 3 4 0 8 2 20 10 8 2 10 1 4-1 10-5 24-22 20-28 6-6 4-3 8-3 12 0 4 1 10 5 8 9 10 15 8 10 10 9 16 12 14 7M81 751l10-2 14-7 10-7 10-11 30-44 4-4 4-2 6 0 4-2 8 0 10 6 10 0 2-1 4 1 2 3 14 37 4 9 4 6 10 3 4 0 8 2 20 10 14 3 8-1 10-5 28-27 16-23 6-7 10-8 6-3 6 0 6 3 10 8 6 7 12 18 10 12 18 15 6 4 14 7M81 767l10-2 14-7 10-7 10-11 20-29 14-25 2-2 6-2 8 1 18 11 8 0 2-1 4 1 2 3 14 37 4 9 4 6 10 3 4 0 8 2 20 10 14 3 8-1 10-5 6-5 22-22 18-26 16-19 2-2 4-2 2 0 4 2 14 16 18 26 10 12 18 15 6 4 14 7M81 780l10-2 14-7 10-7 6-6 26-38 10-22 4-6 6-3 2 0 8 4 12 12 4 2 8 0 2-1 4 1 2 3 6 17 12 29 4 6 10 3 4 0 8 2 18 9 2 0 4 2 4 0 8 2 6-1 10-5 28-27 36-52 2-2 4-1 4 3 32 47 8 10 10 9 16 12 14 7M81 742l4 0 8-2 14-7 12-8 12-13 14-20 16-17 4-2 4 0 12-6 4-1 10 1 8 6 10 14 10 22 12 20 4 4 14 6 14 3 26 0 4-1 12-8 14-14 2-1 8-8 14-18 10-10 14-4 4 0 12 3 6 3 8 8 12 16 10 10 18 14 18 10M81 755l4 0 8-2 14-7 12-8 12-13 12-18 20-26 2-1 8 0 10-2 12 2 4 2 4 4 10 14 10 22 12 20 4 4 6 3 2 0 10 4 10 1 2 1 24 0 4-2 2 0 12-9 22-21 18-23 6-6 4-3 12-6 2 0 16 9 6 6 16 21 10 10 18 14 18 10M81 771l4 0 8-2 14-7 12-8 12-13 22-33 6-12 4-6 2-1 10 1 4 2 14 3 6 3 8 9 6 9 10 22 12 20 4 4 6 3 2 0 10 4 10 2 26 0 4-2 2 0 10-7 24-23 16-21 20-22 4-2 2 0 4 2 6 6 8 9 20 26 10 10 18 14 18 10M81 784l4 0 8-2 12-6 2-2 12-7 8-8 18-26 6-10 10-22 4-5 4 0 6 3 8 6 10 3 6 3 8 9 6 9 10 22 12 20 4 4 6 3 2 0 10 4 4 0 8 2 24 0 12-6 28-26 36-48 2-2 4-1 6 5 10 15 18 24 14 15 18 14 18 10M81 756l10-1 10-3 12-6 12-8 6-6 4-6 18-33 10-14 6-3 8 2 12 6 8 8 8 12 10 21 12 22 6 9 8 6 14 7 8 2 14 0 4-2 2 0 18-10 10-7 6-6 14-19 14-16 18-14 8-3 10 1 12 8 18 16 10 13 14 15 14 7 10 2M81 767l10-1 12-5 2 0 20-12 6-6 4-6 14-27 10-15 4-5 4-3 8 1 14 7 10 10 6 10 20 39 8 13 10 7 16 7 4 1 12 0 10-3 26-16 10-11 16-22 20-18 12-7 10 0 6 3 18 14 8 8 16 20 6 6 4 3 10 5 12 3M81 780l6 0 14-4 12-6 2-2 12-7 8-11 16-30 12-17 4-2 6 0 4 1 10 5 10 9 6 9 24 46 6 9 6 5M297 785l10-6 10-9 18-24 8-9 16-13 6-4 6-2 6 0 12 6 10 9 6 4 10 11 10 13 10 10 14 7 10 2M105 785l20-12 6-6 4-6 14-27 10-15 4-5 4-3 10 2 12 6 8 8 8 12 8 17 16 29M313 785l8-9 18-24 12-11 12-9 6-3 8 0 4 1 12 8 4 4 6 4 8 8 16 20 8 8 6 3M81 747l10-2 4-2 6-1 12-5 2 0 16-8 16-11 10-5 10-2 8 2 14 7 4 0 2 1 44 0 4 1 12 7 10 8 14 7 2 0 4 2 10 0 10-3 6-4 50-25 8-2 10 0 10 3 34 17 2 0 12 6 2 0 14 7 2 0 4 2M81 760l32-10 6-3 2 0 12-7 16-11 12-5 10 0 22 9 40 0 2 1 10 1 10 6 16 12 10 4 8 2 8-1 4-2 2 0 10-5 2-2 44-22 2 0 4-2 12-1 12 3 36 18 2 0 12 6 2 0 18 9M81 772l12-3 4-2 14-4 6-3 2 0 8-4 24-16 12-4 10 1 10 5 10 3 30 0 2 1 16 0 12 6 16 12 6 3 2 0 10 4 6 0 8-2 16-8 2-2 24-11 2-2 10-5 16-5 6 0 16 5 22 12 2 0 10 5 2 0 30 14M81 759l4 0 20-5 4-2 14-4 18-9 8-6 14-7 20-2 2-1 12 0 2 1 4 0 12 5 6 1 4 2 8 2 22 10 12 10 8 4 4 0 2 1 14 0 10-3 6-3 2-2 50-26 8-2 6 0 8 2 36 19 2 0 12 6 2 0 10 5 2 0 8 4 2 0M81 772l22-5 4-2 14-4 6-3 2 0 20-12 2-2 10-5 14-2 2-1 10 0 2-1 8 0 8 2 4 2 26 8 18 8 18 14 8 2 6 0 2 1 10-1 4-2 2 0 60-32 12-2 12 3 38 20 2 0 32 14M81 784l26-6 4-2 8-2 16-7 2-2 22-13 2 0 4-2 12-1 2-1 22 0 16 6 12 3 6 3 2 0 20 10 4 4 12 8 4 0 8 2 8 0 8-2 60-32 2 0 4-2 14 0 4 2 2 0 10 5 2 2 28 14 2 0 10 5 2 0 18 8M81 772l10 0 2-1 4 0 8-3 6-1 6-3 10-3 8-4 22-21 6-3 12 0 18 5 4 0 6 2 4 0 10 3 8 1 4 2 6 1 32 15 8 2 4 0 2 1 18 0 12-3 16-7 2 0 18-9 16-12 8-3 10 1 12 7 10 8 32 16 2 0 10 5 2 0 8 4 2 0M85 784l8 0 12-3 4-2 8-2 6-3 2 0 10-5 4-3 16-16 8-5 10 0 2 1 4 0 18 5 14 2 20 5 4 2 2 0 22 11 2 0 8 4 10 2 14 1 2-1 10-1 4-2 8-2 8-4 2 0 10-5 4-1 18-13 12-6 6 0 8 3 24 17 4 2 2 0 22 11 2 0 20 9M127 785l10-5 22-21 6-2 12 1 10 3 4 0 10 3 4 0 10 3 4 0 8 2 4 2 6 1 26 13M315 785l28-12 16-12 10-5 4-1 6 1 12 6 16 12 16 8 2 0 6 3M131 787l18-31 6-6 8-5 6 0 6 3 8 7 18 30M339 784l18-31 8-7 8-4 4 0 4 2 10 8 20 35M139 786l10-20 4-6 6-6 6-3 4 0 4 2 8 8 14 27M345 787l16-30 6-6 6-3 2 0 6 3 6 5 4 6 12 24M145 788l10-22 6-7 4-2 4 0 6 5 6 10 6 15M353 785l10-22 8-8 4-1 4 2 8 9 10 23M153 784l4-11 4-6 2-2 4-1 4 2 4 6 6 16M359 787l6-17 8-9 4 1 4 4 4 7 4 12M157 787l2-8 2-4 4-5 2 0 2 1 4 6 4 15M363 792l4-16 4-6 4-3 6 8 4 14M81 476l6-1 8-4 2 0 12-7 6-9 10-21 6-9 2-1 4 0 4 2 4 6 8 20 10 29 2 3 6 4 4 1 8 0 12 3 4-3 10-16 8-15 6-9 4-4 2-1 16 0 10 2 18 9 4 1 4 0 2 1 8 0 4-1 14-9 8-12 10-18M355 417l10 21 4 6 4 3 4-1 4-4 6-17 4-7M417 417l6 9 12 27 6 5 12 0 2 1 4 0M81 487l8-1 18-8 6-7 16-31 4-3 4 0 4 2 4 6 20 54 8 3 2-1 12 0 8 2 4-3 16-27 8-12 4-4 4-1 14 0 12 3 8 4 2 2 2 0 6 3 6 0 2 1 8 0 4-1 12-7 4-4 12-21 8-11 10-7 6 0 6 8 12 26 6 8 4 1 2-1 4-5 6-16 6-12 4-6 4-3M405 418l6 4 10 13 14 30 4 4 4 0 2 1 14 0M81 501l4 0 12-3 12-6 6-9 14-27 4-3 4 0 4 2 4 6 20 55 2 2 6 0 10-3 12 1 4-3 18-29 10-12 2-1 16 0 12 3 16 8 4 1 4 0 2 1 8 0 4-1 14-8 4-5 16-27 12-9 6 0 2 2 4 6 14 30 2 3 4 3 2 0 4-3 4-7 4-13 6-12 4-6 6-4 6 3 10 12 4 6 10 22 6 8 20 0M81 512l8 0 8-2 10-4 4-4 4-6 14-27 6-4 6 3 4 6 6 15 14 42 4 2 12-6 14 0 4-3 22-34 6-6 4-1 14 0 12 3 8 4 2 2 8 3 4 0 2 1 12 0 14-7 4-4 18-29 12-9 6 0 2 2 4 6 8 16 4 11 6 9 2 1 4-1 4-6 6-17 6-12 4-6 6-4 6 3 10 12 6 9 8 18 6 8 20-1M81 461l8 1 10-4 6-6 16-20 10-15M143 417l8 16 12 45 2 4 2 1 2-1 10-15 4 1 8 11 4 2 2-1 16-50 4-9 4-4M229 417l10 27 4 7 18 18 12 6 14 3 6-1 4-3 12-13 14-22 10-10 4-2 4 2 6 6 14 32 10 16 4 1 4-5 4-8 10-27 8-17 2-3 4-1 2 1 8 9 10 16 12 12 12 10 8 5M81 472l2 1 10 0 6-3 8-8 14-17 10-15 2-2 4-2 2 0 4 4 8 16 10 39 4 11 2 1 2-1 6-12 4-5 4 1 4 4 4 6 4 2 4-6 6-21 10-29 6-7 4-2 2 0 2 2 10 27 4 7 14 15 8 6 8 3 14 3 8-2 16-17 10-17 8-9 8-5 4 2 6 6 16 36 8 13 4 1 2-2 6-12 14-36 4-8 2-3 2-1 4 1 6 6 12 18 10 10 12 10 10 6M81 486l6 2 6 0 6-3 10-10 6-8 6-6 10-15 2-2 4-2 2 0 4 4 8 16 12 47 2 5 2 1 4-5 4-10 4-6 4 0 10 11 4-1 18-54 4-5 4-3 4-1 2 3 10 27 4 7 14 15 8 6 2 0 6 3 14 3 8-2 14-14 12-19 8-9 2-2 6-3 4 2 6 6 18 40 6 10 4 1 2-2 6-12 6-18 8-19 4-8 2-3 2-1 4 1 6 6 8 12 12 13 18 14 6 3M81 497l4 2 8 1 8-4 20-22 10-15 2-2 4-2 2 0 4 4 8 16 12 48 2 5 2 1 2-2 8-18 2-3 2-1 4 2 6 7 4 2 2-1 16-49 4-7 4-4 4-2 2 0 2 3 10 27 4 7 10 11 10 9 10 4 12 3 6 0 4-2 12-11 14-21 6-7 4-4 6-3 4 2 6 6 12 28 8 16 4 6 2 2 2 0 2-2 4-8 8-23 8-19 4-8 2-3 2-1 4 1 6 6 10 14 10 10 10 8 14 8M81 444l26-27M147 418l10 15 6 11 4 3 8 0 6-5 4-7 16-19M237 417l4 4 6 13 6 8 12 5 24 6 2 0 10-6 14-14 18-16M365 418l2 0 4 2 6 0 6-2M417 417l16 13 26 14M81 455l8-8 18-14 12-12 4-2 4 0 6 3 12 11 12 19 4 8 2 3 4 3 8 0 2-1 4-4 4-7 10-11 10-13 6-6 4-2 6 0 4 2 8 7 8 9 6 13 6 8 12 5 24 6 2 0 6-3 36-33 4-3 8-3 10 2 16 7 6 0 4-1 16-8 10-1 8 4 10 8 16 8 2 0 6 3 10 3M81 429l8-11M139 417l14 7 2 2 12 7 8 20 4 6 8-2 12-7 6-5 22-23 4-2 10 1 16 8 2 2 14 6 4 0 8 2 6 0 4-2 16-16 2-1 16 0 2 1 8 0 2 1 8 0 2 1 8 0 2 1 18 0 8-2 10-4M445 417l14 12M81 439l12-13 4-3 4-1 26 8 26 13 2 2 12 7 8 20 4 6 8-2 12-7 6-5 22-23 4-2 10 1 18 9 2 2 6 3 2 0 4 2 4 0 8 2 6 0 4-2 16-16 2-1 16 0 2 1 8 0 2 1 8 0 2 1 8 0 2 1 18 0 8-2 24-12 10-3 10 0 8 2 14 7 6 4M161 418l4 9 2 2 8 2 8 0 12 3 4-3 8-13M153 413l10 30 4 6 8 0 2-1 12 0 2 1 4 0 2-1 10-14 10-17M81 428l4 2 8 2 16 0 4-3 8-12M147 416l2 4 14 43 4 6 4 0 8-4 4-1 12 0 2-1 4-4 18-29 8-9 4-1 14 0 12 3 6 4 12 5 4 0 2 1 12 0 14-7 4-4 4-6M363 413l4 9 6 7 4-1 6-10M439 418l6 0M159 412l4 15 2 5 2 1 10-15M183 417l6 8 6 5 4-6 2-7M261 418l12 6 8 2 6 0 2 1 4-1 10-9M361 416l10 16 2 2 2 0 4-6 6-13M155 416l8 31 2 5 2 1 2-2 8-16 2-2 2 0 4 2 6 8 4 2 2-1 10-31M243 417l14 15 8 6 2 0 6 3 16 3 6-2 14-14 8-13M353 416l12 26 4 7 4 4 2 0 2-2 6-12 8-23M451 418l8 1M81 420l10 5 4 0 8-2 12-6M149 414l2 5 12 48 2 5 2 1 2-2 8-18 2-3 2-1 2 1 10 10 4-1 14-43M235 415l6 16 16 18 6 5 4 2 18 5 6 0 8-5 12-13 10-16 8-9M343 416l6 8 12 29 8 15 4 5 2 0 4-6 20-51M419 417l8 8 10 5 2 0 10 4 10 1"/></g>
<rect x="40.40" y="214.30" width="189.20" height="172.70" fill="none" stroke="#262626" stroke-width="1.2"/>
<line x1="40.40" y1="214.30" x2="43.40" y2="214.30" stroke="#262626" stroke-width="1.2"/>
<text x="35.80" y="219.60" font-size="15" text-anchor="end">2</text>
<line x1="40.40" y1="257.48" x2="43.40" y2="257.48" stroke="#262626" stroke-width="1.2"/>
<path d="M29.05,254.68 L32.25,252.18 L32.25,262.78" fill="none" stroke="#111" stroke-width="1.45" stroke-linejoin="miter"/>
<line x1="40.40" y1="300.65" x2="43.40" y2="300.65" stroke="#262626" stroke-width="1.2"/>
<text x="35.80" y="305.95" font-size="15" text-anchor="end">0</text>
<line x1="40.40" y1="343.82" x2="43.40" y2="343.82" stroke="#262626" stroke-width="1.2"/>
<path d="M29.05,341.02 L32.25,338.52 L32.25,349.12" fill="none" stroke="#111" stroke-width="1.45" stroke-linejoin="miter"/>
<text x="27.46" y="349.12" font-size="15" text-anchor="end">−</text>
<line x1="40.40" y1="387.00" x2="43.40" y2="387.00" stroke="#262626" stroke-width="1.2"/>
<text x="35.80" y="392.30" font-size="15" text-anchor="end">−2</text>
<text x="40.40" y="403.40" font-size="15" text-anchor="middle">Y</text>
<line x1="35.80" y1="391.10" x2="45.00" y2="391.10" stroke="#222" stroke-width="0.9"/>
<text x="82.44" y="403.40" font-size="15" text-anchor="middle">Γ</text>
<line x1="77.84" y1="391.10" x2="87.04" y2="391.10" stroke="#222" stroke-width="0.9"/>
<text x="97.46" y="403.40" font-size="15" text-anchor="middle">X</text>
<line x1="92.86" y1="391.10" x2="102.06" y2="391.10" stroke="#222" stroke-width="0.9"/>
<text x="137.10" y="403.40" font-size="15" text-anchor="middle">K</text>
<line x1="132.50" y1="391.10" x2="141.70" y2="391.10" stroke="#222" stroke-width="0.9"/>
<text x="144.10" y="403.40" font-size="15" text-anchor="middle">M</text>
<line x1="139.50" y1="391.10" x2="148.70" y2="391.10" stroke="#222" stroke-width="0.9"/>
<text x="187.03" y="403.40" font-size="15" text-anchor="middle">Γ</text>
<line x1="182.43" y1="391.10" x2="191.63" y2="391.10" stroke="#222" stroke-width="0.9"/>
<text x="229.60" y="403.40" font-size="15" text-anchor="middle">Y</text>
<line x1="225.00" y1="391.10" x2="234.20" y2="391.10" stroke="#222" stroke-width="0.9"/>
<text x="107.50" y="292.00" font-size="15" stroke="#111" stroke-width="0.3">N=4</text>
<text x="12.60" y="216.90" font-size="18.5" font-weight="bold">d</text>
<clipPath id="clipe"><rect x="262.60" y="214.60" width="189.60" height="172.90"/></clipPath>
<line x1="305.45" y1="214.60" x2="305.45" y2="387.50" stroke="#d9d9d9" stroke-width="1.7"/>
<line x1="319.86" y1="214.60" x2="319.86" y2="387.50" stroke="#d9d9d9" stroke-width="1.7"/>
<line x1="360.05" y1="214.60" x2="360.05" y2="387.50" stroke="#d9d9d9" stroke-width="1.7"/>
<line x1="367.26" y1="214.60" x2="367.26" y2="387.50" stroke="#d9d9d9" stroke-width="1.7"/>
<line x1="409.73" y1="214.60" x2="409.73" y2="387.50" stroke="#d9d9d9" stroke-width="1.7"/>
<line x1="262.60" y1="301.05" x2="452.20" y2="301.05" stroke="#b0b0b0" stroke-width="0.9" stroke-dasharray="1.1,1.9"/>
<g clip-path="url(#clipe)"><path transform="scale(0.5)" fill="none" stroke="#ff0000" stroke-width="1.5" stroke-linejoin="round" d="M525 687l14-7 14-11 10-10 16-19 6-9 4-8 6-8 14-3 6 0 7 2 4 0 2-1 10 0 4 1 12 6 4 3 6 7 6 15 10 20 6 9 12 10 14 6 8 2 14 0 4-1 4-2 6-6 8-6 18-24 14-22 10-11 12-6 4-1 12 0 16 7 12 13 16 26 16 15 18 14M525 698l10-5 14-10 22-22 22-27 8-3 10-1 6-3 5-1 4-3 10-5 4 0 6 2 2 2 6 3 8 7 4 7 4 11 8 16 10 15 14 12 16 8 18 0 4-2 20-19 14-17 14-19 8-8 4-2 14-4 12 0 2 1 4 0 4 1 8 4 10 10 18 24 32 28M525 712l12-6 10-7 34-33 8-6 8-4 14-2 11-12 12-16 4-2 6 1 10 7 8 8 6 11 6 14 12 20 16 17 12 10 4 2 18 0 4-2 8-10 20-20 2-1 20-21 6-4 8-2 6 0 2-1 18 0 2 1 6 0 8 3 8 6 50 49M525 727l14-8 8-6 30-28 10-4 8 0 2-1 14-2 2-2 17-35 4-7 4-4 2 0 8 4 12 11 6 9 8 17 14 23 22 26 8 7 18 0 2-1 4-4 8-12 10-10 14-9 12-10 8-4 4-1 34 0 2-1 6 0 8 2 18 11 12 10 16 16 10 13M525 738l24-16 30-27 6 0 6 3 8 0 2-1 10-1 2-3 19-49 6-9 4 0 4 2 10 9 8 10 10 20 14 23 24 32 6 5 18 0 2-1 4-4 8-13 8-9 32-17 10-1 10 2 18 0 6-2 8-1 2 1 4 0 4 2 8 2 10 5 4 3 18 18 12 16M525 698l4-1 18-9 8-6 12-11 8-11 6-6 6-4 10-5 14-1 8-5 9-3 22 0 10 2 4 2 10 18 10 4 18 16 8 3 8 8 12 9 4 1 10-4 8-6 30-33 12-11 6-2 10 0 2 1 26-1 4 1 6 4 24 25 32 25M525 703l10-3 8-4 12-8 14-13 10-13 16-8 18-1 9-7 4-2 8-2 14 0 2 1 10 1 4 2 10 16 12 8 8 12 6 7 6 3 2 0 24 13 4 0 10-5 8-6 12-14 24-24 8-4 10 0 2 1 30-1 10 6 26 25 28 20M525 711l4-2 2 0 20-10 14-11 8-10 8-8 10-4 22 0 11-10 8-4 4-1 14 0 10 2 4 2 8 10 10 9 4 6 8 17 4 6 6 6 14 1 14 4 6-1 8-4 8-6 32-33 10-6 8 0 8 2 14 0 6-2 8 0 4 1 6 4 20 18 12 9 16 10 6 5M525 718l10-4 2 0 18-10 8-6 16-17 10-4 8 0 8 2 6 0 4-2 2-3 11-10 10-5 6 0 2 1 6 0 10 2 2 1 16 16 6 10 8 23 6 10 4 4 4 0 8-3 4 0 2-1 16 0 6-3 10-7 8-9 22-21 10-6 10 0 10 3 10 0 10-3 8 0 10 5 20 17 32 20M525 723l8-2 22-11 12-9 12-13 6-3 10 0 12 4 4 0 2-1 17-18 6-4 14 0 14 3 6 4 6 6 8 12 10 32 4 8 6 8 2 0 14-8 8-2 10-1 8-4 12-9 2-3 20-19 8-6 8-3 4 0 16 5 6 0 8-2 4-2 10 0 10 5 20 16 30 17M525 702l2 2 8 4 4 0 2 1 8-1 14-13 16-25 4-4 6-4 14-7 4 0 2-1 4 1 6 7 3 1 6 0 2-1 10-1 2 1 10 11 14 5 10 15 10 12 6 6 4 2 2 0 16-8 4-3 20 0 12 6 6 1 6-5 12-18 16-17 8-5 14-3 14 0 12 3 6 3 14 13 12 13 6 9 8 7 10-1 8-4 2-2M525 720l2 2 8 4 4 1 8 0 4-2 14-14 8-14 8-11 10-7 10-5 4-1 6 0 8 7 3 1 18-1 4 2 6 8 4 3 10 2 4 4 8 12 14 17 6 3 6-1 4-3 14-7 16 0 4 1 12 6 4 0 4-2 16-23 16-16 4-3 2 0 4-2 4 0 8-2 10 0 2 1 4 0 8 2 4 2 4 3 22 22 8 11 8 7 8 0 4-1 4-2 4-4M525 739l8 5 4 1 10 0 6-3 6-6 6-7 6-10M585 702l10-7 12-4 4 0 2 1 6 6 5 2 2-1 14-1 2 1 10 11 4 2 8 1 4 4 10 15 8 10 8 7 6 0 18-10 20 0 4 1 10 5 6 0 4-4 12-18 18-19 8-4 10-2 6 0 2-1 10 1 8 2 10 5 22 22 10 14 6 4 10 0 10-6M525 738l8-1 20-10 14-13 4-6M575 703l12-18 4-4 4-6 8-7 8 0 13-6 8 1 6 3 4-1 10 0 2 3 16 42 4 8 2 2 4 2 8 1 14 4 6 3 2 2 10 4 4 0 6 2 8 0 8-3 18-15 12-12 16-23 8-9 8-4 4-1 12 0 8 2 8 5 8 10 10 15 12 13 18 14 6 3 2 2 8 3M525 748l10-2 14-7 10-7 8-9M581 703l18-25 6-5 8 0 6-3 7 0 8 4 4 1 12-1 2 1 2 3 6 17 12 29 4 6 10 3 4 0 8 2 18 9 20 4 4-1 8-4 8-6 22-22 16-23 6-7 12-8 10-1 10 5 12 11 16 23 14 14 16 12 14 7M525 761l12-3 10-5 12-8 12-14 14-21M589 705l8-14 4-6 4-4 17-2 16 9 12-1 2 1 2 3 6 17 12 29 6 7 20 4 18 9 18 4 6-1 8-4 8-6 22-22 4-6M788 713l8-11 18-18 2-1 6 0 4 3 16 16 6 9M856 722l4 6 18 17 12 9 14 7M525 774l12-3 10-5 2-2 6-3 8-7 8-10 20-30 12-23 6-4 6 0 7 2 8 7 8 5 6 0 2-1 4 0 2 1 2 3 6 17 12 29 6 7 20 4 18 9 12 3 4 0 2 1 2-1 4 0 8-4 8-6 22-22 14-20M800 710l12-16 6-4 2 0 4 2 14 18M844 718l16 23 12 12 20 15 12 6M525 783l8-1 18-9 6-4 8-8 20-28 6-10 10-22 4-6 4-3 4 0 9 4 10 11 6 3 14 0 2 3 16 42 4 8 2 2 8 3 10 1 4 2 2 0 18 9 12 3 8 0 8-3 8-6 10-10 2-1 10-10 6-8 32-47 2-2 4-1 6 5 14 22 22 31 14 13 12 9 16 8M525 742l10-1 18-9 14-10M581 704l8-12 16-16 4-2 4 0 15-7 6-1 8 2 12 13 16 32 8 14 4 5 12 6 10 3 4 0 2 1 30 0 8-4 14-12 18-18 14-18 6-6 6-3 14-2 16 4 8 7 14 18 12 12 20 15 8 4 2 2 4 1M525 752l4 0 8-2 20-11 8-6 6-6 10-14M587 704l20-24 8-1 11-3 12 0 6 3 8 9 6 9 8 18 10 18 4 6 4 4 6 3 2 0 10 4 4 0 8 2 24 0 12-6 20-19 2-1 6-6 18-23 6-6 12-6 4-1 8 2 12 7 22 27 8 8 18 14 18 10M525 765l4 0 8-2 12-6 16-11 10-11 30-45 4-4 8 0 2 1 15 1 10 4 8 9 6 9 10 22 12 20 4 4 6 3 2 0 10 4 4 0 8 2 24 0 12-6 6-5 22-21 10-13M800 705l14-12 4-2 2 0 8 5 8 7 4 5M850 720l10 13 6 6 20 16 18 10M525 778l4 0 8-2 12-6 16-11 6-6 22-32 10-20 6-8 4 0 11 5 14 4 6 3 8 9 6 9 10 22 12 20 4 4 12 5 18 4 24 0 12-6 26-24 36-45 4-4 4-1 8 7 32 41 6 6 16 13 12 8 10 5M535 786l18-9 14-10 6-7 18-27 16-33 4-2 21 12 10 3 8 8 6 8 14 29 12 19 10 5 12 3M742 786l10-6 28-27 20-26 12-18 4-4 4-2 4 3 14 21 20 26 18 17 14 10 10 5M525 757l2-1 6 0 8-2 20-10 10-7 6-7 16-30 12-18 6-5 8 1 11 4 14 13 4 6 14 28 14 25 6 6 6 3 2 2 12 5 8 2 10 0 4-1 20-10 14-10 22-28M798 705l8-6 8-4 6-1 4 1 8 4 8 7M858 722l10 13 10 11 12 7 14 4M525 764l8 0 8-2 20-10 10-7 6-7 16-30 12-18 6-5 8 1 7 2 6 3 12 12 4 6 26 50 8 9 12 7 16 5 10 0 4-1 18-9 2-2 6-3 14-13 14-19 10-11M802 710l12-7 6-1 4 1 8 4 6 5M848 720l10 10 18 22 6 5 14 6 8 1M525 775l8 0 10-3 16-8 12-8 10-14 10-20 14-21 6-5 6 0 7 2 8 4 8 7 8 11 12 24 16 29 6 6 14 7M732 786l10-5 12-8 10-10 16-22 12-12 12-10 12-6 6 0 10 5 8 6 12 10 18 22 14 13 12 5 8 1M531 786l14-4 14-7 12-8 8-11 16-30 12-17 4-2 11 1 10 5 10 9 6 9 12 24 12 22 6 9M750 786l6-4 6-6 18-24 8-9 16-13 6-4 6-2 10 1 8 5 20 17 16 20 10 10 14 7 6 1M553 786l12-7 8-6 6-9 18-33 10-14 6-3 6 2 3 0 12 6 8 8 10 16 8 17 14 25M760 786l24-31 6-6 18-14 8-3 10 1 12 8 18 16 16 20 10 9M525 749l10-2 4-2 20-6 16-8 14-10 14-7 4 0 2-1 10 2 17 7 6 0 2 1 40 0 4 1 8 4 16 12 12 6 2 0 4 2 10 0 4-1 62-31 8-2 10 0 8 2 34 17 2 0 12 6 2 0 22 10M525 761l14-3 4-2 14-4 20-10 14-10 10-5 4-1 10 0 4 2 3 0 12 6 4 1 44 0 2 1 4 0 12 7 10 8 16 8 8 2 8-1 4-2 2 0 8-4 2-2 46-23 10-3 10 0 10 3 34 17 2 0 32 15 2 0M525 774l8-2 4-2 6-1 20-8 2 0 12-7 16-11 12-5 10 0 23 9 38 0 2 1 8 0 4 2 2 0 22 16 18 7 6 0 8-2 14-7 2-2 40-20 2 0 6-3 12-1 14 4 16 8 6 4 2 0 12 6 2 0 12 6 2 0 16 8M525 761l4 0 20-5 4-2 14-4 16-8 8-6 16-8 10-1 2-1 9 0 2-1 14 0 32 11 2 0 22 10 12 10 8 4 4 0 2 1 14 0 4-1 6-3 2 0 2-2 56-29 4-1 10 0 4 1 38 20 2 0 10 5 2 0 10 5 2 0 8 4 4 1M525 774l6-2 4 0 8-2 4-2 6-1 4-2 8-2 8-4 2 0 18-12 12-6 8-2 17-1 2-1 10 0 30 9 26 11 12 10 10 5 4 1 8 0 2 1 8-1 4-2 2 0 60-32 8-2 6 0 8 2 38 20 2 0 34 15M527 785l4 0 16-4 4-2 6-1 6-3 8-2 8-4 16-11 10-5 10-2 25-2 10 2 4 2 20 6 6 3 2 0 10 5 4 1 10 7 8 7 4 2 4 0 8 2M738 786l8-2 60-32 12-3 8 1 4 2 2 0 10 5 2 2 28 14 2 0 10 5 2 0 18 8M525 774l10 0 20-5 6-3 10-3 8-4 16-16 6-5 6-3 12 0 55 12 14 6 2 0 22 11 8 2 4 0 2 1 18 0 20-6 10-5 2 0 16-8 14-11 10-4 10 1 12 7 10 8 30 15 2 0 12 6 2 0 8 4 2 0M537 785l4 0 8-2 4-2 8-2 6-3 2 0 10-5 22-21 6-3 17 1 14 4 14 2 28 7 22 11 2 0 8 4 12 3 8 0 4 1 2-1 6 0 18-5 30-14 10-8 8-5 2 0 4-2 6 0 10 4 16 12 34 17 2 0 18 8M575 785l8-5 20-19 6-2 8 0 59 13 4 2 2 0 24 12M762 786l26-11 16-12 10-5 4-1 6 1 12 6 16 12 22 10M573 786l22-37 6-5 10-4 11 5 6 6 22 37M579 786l14-24 10-9 4-2 6 0 11 6 4 4 16 27M780 787l22-38 6-6 8-5 6 0 6 3 8 7 22 38M786 787l16-28 8-7 8-4 6 1 10 7 4 5 14 25M579 788l8-13 6-13 6-9 6-5 6-2 6 3 9 8 16 30M585 789l12-23 6-6 6-3 4 0 2 1 9 7 4 6 8 16M788 786l8-14 6-13 4-6 6-6 6-3 4 0 6 4 4 4 4 6 16 31M794 786l12-23 8-7 4-2 2 0 6 3 6 5 4 6 10 20M587 787l12-25 6-7 4-2 4 0 2 1 7 7 12 25M593 786l6-14 4-5 4-3 4-1 4 2 7 6 8 17M794 789l14-30 6-7 4-2 2 0 4 2 6 6 2 3 6 15 6 11M800 788l8-19 10-9 2 0 4 2 6 6 8 18M595 786l6-17 4-6 6-4 4 3 7 10 6 17M597 791l4-12 6-8 2-1 4 1 4 4 5 7 2 6M802 788l8-22 4-6 4-3 4 1 6 7 8 21M806 787l4-11 8-9 4 1 6 7 4 10M599 791l4-16 6-9 4 1 4 6 5 14M603 786l4-8 2-2 2 0 2 1 2 3 4 9M808 788l4-16 4-7 2-2 2 0 4 4 2 4 6 21M810 790l4-11 2-3 4-3 6 8 2 6M525 478l10-3 16-8 4-4 14-28 6-9 2-1 4 0 4 2 6 11 18 49 10 4 11 0 4 2 8 0 4-5 14-25 10-15 4-2 14-1 6 2 4 0 20 10 4 0 2 1 14 0 8-4 10-8 16-28M800 418l10 22 6 8 4 1 6-5 6-17 6-11M862 419l6 8 8 19 6 11 2 2 18 1 2 1M525 486l6-1 6-3 2 0 12-6 6-7 14-28 4-5 4-2 6 3 4 6 6 15 10 30 4 9 4 3 19 0 2 1 8 0 12-18 8-15 10-13 4 0 2-1 10 0 2 1 4 0 4 1 18 9 8 2 14 0 8-4 6-4 4-4 18-30 8-7M794 418l4 6 12 26 4 6 4 4 2 0 6-7 6-16 6-12 6-8M854 418l12 15 16 33 4 2 12 0 2 1 4 0M525 497l4 0 10-3 14-7 6-9 10-21 4-6 6-4 4 1 4 4 2 4 6 15 10 31 4 9 4 3 4 0 9-3 16 1 4-5 14-24 10-14 8-3 10 0 10 2 20 10 4 0 2 1 14 0 12-6 4-3 4-5 14-25 6-6 10-6 2 0 4 3 4 6 14 30 2 3 4 3 4-1 4-5 6-17 10-18 4-4 4 0 8 7 10 14 8 18 6 11 4 2 18 0M525 509l14-3 12-5 6-7 12-24 4-6 4-4 2 0 4 1 4 4 2 4 6 15 10 32 4 10 4 2 2 0 11-5 14 0 6-5 10-17 14-20 4-2 12-1 2 1 10 1 20 10 12 1 2 1 10-2 10-6 4-4 16-27 6-6 10-6 4 1 6 8 8 16 4 11 6 9 2 1 4-1 4-5 6-18 10-18 4-4 4 0 8 7 8 10 16 32 2 1 20 0M525 517l16-3 10-4 4-4 4-6 12-24 4-5 2-1 4 0 4 2 6 11 16 49 4 6 4 0 4-3 9-4 12 0 2-1 4-4 16-26 10-12 4 0 2-1 10 0 2 1 4 0 4 1 18 9 8 2 14 0 8-3 6-4 6-6 16-27 12-9 6 0 2 2 10 18 8 19 4 6 2 1 4-1 4-5 6-18 4-9 8-12 4-2 6 3 10 12 4 6 12 25 4 4 18 0 2-1M525 462l2 1 10 0 4-2 10-10 24-32M587 419l8 16 12 45 2 5 2 1 8-12 5-5 4 1 10 12 2 1 2-2 2-4 14-46 2-5 6-7M674 419l4 9 6 18 6 9 16 16 10 5 12 3 8 0 4-2 14-15 14-22 10-10 2-1 4 0 6 5 4 6 8 20 8 16 8 11 2-1 4-5 18-45 4-8 2-3 2-1 6 3 2 2 14 21 16 16 16 12M525 470l6 2 4 0 6-2 10-10 14-17 10-15 4-4 4 0 6 7 6 13 10 39 4 12 2 1 2-2 6-11 5-5 4 1 6 7 6 5 4-6 14-46 4-8 4-4 4-2 2 0 4 7 8 22 4 7 16 17 12 7 12 3 8 0 4-2 16-17 8-14 8-10 4-4 6-3 2 0 4 3 6 8 8 21 8 16 6 9 2 2 2 0 6-10 18-46 4-6 4-1 8 7 12 18 12 12 12 10 8 5M525 482l4 1 10 0 6-4 22-26 8-12 4-4 4 0 6 7 6 13 10 40 4 12 2 1 2-2 6-12 3-4 4-3 2 1 6 7 6 5 2-2 2-5 16-49 6-7 4-2 2 0 4 7 8 22 6 10 16 16 10 5 12 3 8 0 6-3 12-13 16-24 10-9 4 0 4 3 6 8 10 25 10 19 4 5 4-3 6-12 6-18 10-24 4-6 2-1 2 0 4 2 14 20 6 7 14 12 14 9M525 493l6 2 8 0 6-4 18-20 12-17 6-5 6 5 6 11 2 5 12 48 2 5 2 1 4-5 4-10 5-7 2-1 4 2 8 9 4-1 16-49 4-7 4-4 4-2 2 0 4 7 8 23 6 9 16 16 16 7 14 1 6-3 14-15 14-21 10-9 4 0 4 3 6 8 6 16 12 25 4 6 2 2 2 0 2-2 4-8 8-23 10-24 4-6 2-1 2 0 6 4 14 20 4 4 8 7 20 14M525 501l4 2 8 1 8-4 20-22 10-15 2-2 4-2 2 0 6 8 6 13 12 49 2 5 2 1 4-6 4-11 5-7 4-1 10 10 4-1 18-53 2-3 6-5 4 0 4 7 8 22 6 10 16 16 10 5 12 3 8 0 6-3 12-12 12-19 8-9 8-5 4 2 4 4 4 6 8 20 10 21 4 6 2 2 2 0 2-2 4-8 10-29 6-14 4-8 2-3 2-1 4 1 6 6 12 17 4 4 18 14 10 6M525 442l22-23M593 419l14 23 4 3 8 0 3-1 4-4 4-7 14-16M684 417l2 2 6 13 6 8 12 5 14 3 8 3 4 0 10-6 14-14 14-12M866 418l4 4 10 7 24 13M525 450l34-32M581 418l6 5 22 35 13 0 10-14 22-26M672 418l12 12 12 22 12 6 18 4 4 2 8 0 2-1 18-17 8-6 10-10 8-6 4-1 8 0 18 8 10 0 20-9 4-1 4 1 10 5 14 11 28 12M525 457l12-10 12-8 14-13 4-2 4 0 6 3 12 12 18 30 4 3 8 0 3-1 4-4 4-7 20-24 6-6 6-3 8 3 8 7 8 9 8 16 4 5 12 5 24 6 8-3 6-5 8-9 8-6 10-10 6-5 8-4 6 0 16 7 8 2 4 0 4-1 18-9 10 0 6 3 10 8 10 5 24 6M525 427l6-8M589 418l8 4 2 2 12 7 8 20 5 6 6-1 14-8 16-14 8-10 6-5M682 418l4 1 26 14 2 0 4 2 4 0 8 2 6 0 4-2 16-16 2-1M778 419l16 1 2 1 8 0 2 1 18 0 8-2 4-2M894 418l10 9M525 434l10-12 4-3M557 419l6 1 16 7 2 0 28 16 4 5 6 16 5 6 4 0 14-7 14-12 14-16 6-4 4 0 10 4 2 0 4 3 20 10 10 2 10 0 6-3 12-13 6-3 20 1 2 1 8 0 10 2 22 1 12-3 24-12 2 0 4-2 12 0 4 2 2 0 12 6 10 7M525 442l10-11 8-5 6 1 6 3 10 3 34 17 12 8 8 20 5 6 8-2 12-7 6-5 22-23 4-2 10 1 18 9 2 2 12 5 4 0 8 2 6 0 4-2 12-13 6-4 16 0 2 1 10 0 2 1 16 1 2 1 18 0 8-2 30-15 4-1 12 0 8 2 6 3 2 0 8 4 2 2M603 415l4 12 4 6 4 1 13 0 6 2 8 0 4-5 8-14M597 416l10 31 4 6 8 0 5-2 12 0 2 1 4-1 10-14 12-20M728 419l8 0M525 431l4 2 10 2 14 0 6-6 8-13M591 419l2 4 14 44 4 6 4 0 13-6 12 0 2-1 4-4 20-32 8-7 16 0 12 3 6 3 2 2 10 4 4 0 2 1 10 0 4-1 10-5 4-3 8-12M808 417l2 5 6 9 4 1 2-1 4-5 4-12M880 418l4 3 8 0 6-2M603 415l4 16 2 4 2 1 2-1 6-11 5-5 4 1 6 8 6 5 2-2 6-18M702 417l4 4 12 6 8 2 10 0 6-3 8-9M804 415l8 15 4 6 2 1 2 0 2-2 8-17M597 411l10 40 2 5 2 1 2-2 6-13 5-6 2 0 4 2 6 8 4 2 4-6 8-26M686 417l2 3 18 18 12 6 14 3 6-1 4-3 10-10 10-15M796 413l6 16 10 20 6 8 2 0 2-2 4-8 12-32M888 418l4 2 8 2 4 0M525 422l2 2 10 4 12-3 14-7M593 417l2 5 12 49 2 5 2 1 2-2 6-14 5-8 4 0 10 10 4-1 16-49M680 418l6 16 16 18 10 7 14 4 8 1 6-2 8-7 6-7 10-16 14-15M786 417l4 4 4 6 10 25 12 23 2 1 2 0 2-2 4-8 8-23 10-24M862 418l10 10 10 5 18 5 4 0"/></g>
<rect x="262.60" y="214.60" width="189.60" height="172.90" fill="none" stroke="#262626" stroke-width="1.2"/>
<line x1="262.60" y1="214.60" x2="265.60" y2="214.60" stroke="#262626" stroke-width="1.2"/>
<text x="258.00" y="219.90" font-size="15" text-anchor="end">2</text>
<line x1="262.60" y1="257.82" x2="265.60" y2="257.82" stroke="#262626" stroke-width="1.2"/>
<path d="M251.25,255.03 L254.45,252.53 L254.45,263.12" fill="none" stroke="#111" stroke-width="1.45" stroke-linejoin="miter"/>
<line x1="262.60" y1="301.05" x2="265.60" y2="301.05" stroke="#262626" stroke-width="1.2"/>
<text x="258.00" y="306.35" font-size="15" text-anchor="end">0</text>
<line x1="262.60" y1="344.27" x2="265.60" y2="344.27" stroke="#262626" stroke-width="1.2"/>
<path d="M251.25,341.47 L254.45,338.97 L254.45,349.57" fill="none" stroke="#111" stroke-width="1.45" stroke-linejoin="miter"/>
<text x="249.66" y="349.57" font-size="15" text-anchor="end">−</text>
<line x1="262.60" y1="387.50" x2="265.60" y2="387.50" stroke="#262626" stroke-width="1.2"/>
<text x="258.00" y="392.80" font-size="15" text-anchor="end">−2</text>
<text x="262.60" y="403.90" font-size="15" text-anchor="middle">Y</text>
<line x1="258.00" y1="391.60" x2="267.20" y2="391.60" stroke="#222" stroke-width="0.9"/>
<text x="305.45" y="403.90" font-size="15" text-anchor="middle">Γ</text>
<line x1="300.85" y1="391.60" x2="310.05" y2="391.60" stroke="#222" stroke-width="0.9"/>
<text x="319.86" y="403.90" font-size="15" text-anchor="middle">X</text>
<line x1="315.26" y1="391.60" x2="324.46" y2="391.60" stroke="#222" stroke-width="0.9"/>
<text x="360.05" y="403.90" font-size="15" text-anchor="middle">K</text>
<line x1="355.45" y1="391.60" x2="364.65" y2="391.60" stroke="#222" stroke-width="0.9"/>
<text x="367.26" y="403.90" font-size="15" text-anchor="middle">M</text>
<line x1="362.66" y1="391.60" x2="371.86" y2="391.60" stroke="#222" stroke-width="0.9"/>
<text x="409.73" y="403.90" font-size="15" text-anchor="middle">Γ</text>
<line x1="405.13" y1="391.60" x2="414.33" y2="391.60" stroke="#222" stroke-width="0.9"/>
<text x="452.20" y="403.90" font-size="15" text-anchor="middle">Y</text>
<line x1="447.60" y1="391.60" x2="456.80" y2="391.60" stroke="#222" stroke-width="0.9"/>
<text x="329.70" y="292.30" font-size="15" stroke="#111" stroke-width="0.3">N=5</text>
<text x="238.40" y="216.50" font-size="18.5" font-weight="bold">e</text>
<clipPath id="clipf"><rect x="485.00" y="214.60" width="188.60" height="172.90"/></clipPath>
<line x1="527.62" y1="214.60" x2="527.62" y2="387.50" stroke="#d9d9d9" stroke-width="1.7"/>
<line x1="541.96" y1="214.60" x2="541.96" y2="387.50" stroke="#d9d9d9" stroke-width="1.7"/>
<line x1="581.94" y1="214.60" x2="581.94" y2="387.50" stroke="#d9d9d9" stroke-width="1.7"/>
<line x1="589.11" y1="214.60" x2="589.11" y2="387.50" stroke="#d9d9d9" stroke-width="1.7"/>
<line x1="631.35" y1="214.60" x2="631.35" y2="387.50" stroke="#d9d9d9" stroke-width="1.7"/>
<line x1="485.00" y1="301.05" x2="673.60" y2="301.05" stroke="#b0b0b0" stroke-width="0.9" stroke-dasharray="1.1,1.9"/>
<g clip-path="url(#clipf)"><path transform="scale(0.5)" fill="none" stroke="#ff0000" stroke-width="1.5" stroke-linejoin="round" d="M970 687l12-6 10-7 20-20 14-17 8-15 6-8 14-3 6 0 8 3 2-1 10 0 4 1 18 10 6 7 8 21 6 12 9 12 10 8 14 6 8 2 16 0 4-1 4-3 12-10 6-7 30-45 6-6 16-8 12 0 16 7 8 8 22 34 20 18 12 8M970 695l12-6 10-7 22-22 12-14 10-15 4-4 14-2 6-2 4 0 14-6 8 1 6 3 10 7 4 4 4 8 6 16 10 18 17 16 18 9 20 0 2-1 22-21 16-21 10-15 10-10 16-6 12 0 12 3 8 5 8 9 16 23 22 21 12 9M970 707l8-4 18-13 40-41 6-3 10-1 8-4 18-18 2-1 6 1 4 2 14 11 4 6 6 15 12 22 7 8 12 11 12 9 4 2 20 0 2-1 28-29 16-19 10-10 8-4 8-2 6 0 2-1 20 2 8 4 10 9 14 17 34 32M970 720l14-8 8-6 32-31 12-6 20-4 4-5 6-12 14-20 4 0 8 4 12 11 4 6 8 18 10 17 17 20 12 12 8 5 16 0 4-2 4-4 8-11 10-10 14-11 12-12 8-5 4-1 8 0 2-1 30 0 4 2 2 0 14 10 20 18 16 16 8 10M970 731l10-5 10-7 34-31 2-1 8 0 4 1 2-1 10-1 6-2 4-7 6-16 12-25 4-3 2 0 6 3 14 13 4 6 8 17 10 17 29 36 4 4 4 2 18 0 4-4 12-17 6-6 12-7 12-9 12-6 30 1 10-2 10 1 20 10 8 6 20 20 10 13M970 740l20-13 26-23M1020 700l4-3 6 0 8 4 4 0 14-3 4-9 8-25 8-20 2-4 4-4 2 0 6 3 14 14 4 6 6 13 12 20 31 42 6 4 18 0 4-4 10-16 8-8 22-11 4-3 10-3 10 1 2 1 6 0 2 1 8 0 12-3 12 0 4 2 6 1 6 3 2 0 6 4 16 15 10 12 6 9M970 698l2 0 8-4 2 0 16-10 14-13 12-16 6-3 2-2 10-5 14-1 4-2 6-5 4 0 2-1 20 0 14 3 4 6 4 9 4 5 13 5 8 6 6 6 8 3 14 14 10 6 6-1 12-8 40-43 8-4 10 0 2 1 26-1 4 1 6 4 26 27 30 23M970 702l10-3 8-4 14-10 10-9 8-11 6-6 14-7 4 0 2-1 10 0 4-2 4-4 4-2 8-2 18 0 12 3 4 5 6 11 4 4 2 0 7 3 8 10 10 10 2 1 4 0 14 11 10 5 6-1 12-8 10-10 8-10 2-1 18-19 8-5 12 0 2 1 28-1 10 6 24 24 30 22M970 708l10-3 16-9 16-13 8-11 4-4 12-6 4-1 12 0 2 1 6-3 6-6 8-4 4-1 16 0 12 3 10 14 6 5 7 4 6 11 8 12 4 4 8 1 8 4 2 0 8 4 4 1 8-2 14-10 10-12 22-22 4-3 8-3 10 1 8 2 14-2 2-1 8 1 10 6 22 21 30 21M970 715l4-2 2 0 20-10 6-4 6-5 8-8 6-8 4-3 8-3 14 0 2 1 6 0 2-1 8-9 6-4 10-4 20 2 6 3 8 10 13 12 10 23 6 9 4 3 14-1 8 2 10 0 10-5 8-6 12-14 18-17 10-6 8 0 10 3 10 0 12-3 8 1 12 8 14 13 8 6 12 7 14 10M970 721l14-6 2 0 14-8 8-6 16-17 6-3 12 0 6 2 8 0 2-1 12-13 12-7 20 2 8 4 8 8 11 13 8 24 4 8 6 9 2 1 2 0 12-5 12 0 2-1 4 0 10-5 8-6 6-7 22-21 4-3 10-4 16 4 12 0 8-3 8 0 4 1 4 2 12 9 10 9 12 7 2 2 8 4 10 7M970 725l12-5 2 0 12-6 14-10 14-15 4-2 8-1 20 5 18-20 8-4 8 0 2 1 6 0 8 2 4 2 6 5 13 17 10 32 6 11 4 3 2 0 14-8 10-2 6 0 8-4 10-7 8-9 16-15 8-6 6-3 8 0 4 2 12 3 4 0 8-2 4-2 4 0 2-1 8 2 8 5 16 13 30 17 2 2M970 700l4 4 8 3 10 0 4-2 14-14 8-14 8-11 10-7 10-5 4-1 6 0 2 1 6 7 10 0 2-1 8 0 2 1 10 11 4 2 4 0 6 3 14 20 9 10 6 4 4 0 14-7 6-4 16 0 4 1 12 6 6 0 4-3 14-21 10-11 8-7 6-3 8-2 6 0 2-1 6 0 2 1 10 1 8 3 12 10 14 15 12 16 4 2 10 0 6-3 4-4M970 713l6 5 6 2 10 0 4-2 14-14 8-14 8-11 10-7 10-5 4-1 6 0 2 1 6 7 10 0 2-1 8 0 2 1 10 11 4 2 4 0 6 3 14 20 9 10 6 4 4 0 14-7 6-4 16 0 4 1 10 5 8 1 4-3 14-21 14-15 10-6 8-2 6 0 2-1 14 1 8 2 4 2 12 10 14 15 12 16 4 2 8 0 4-1 4-2 4-4M970 729l4 4 4 2 4 1 10 0 4-2 14-14 4-7M1020 703l4-6 6-5 6-4 10-5 4-1 6 0 2 1 6 7 20-1 2 1 10 11 4 2 4 0 6 3 10 15 13 15 6 4 4 0 14-7 6-4 16 0 4 1 12 6 6 0 4-3 14-21 10-11 8-7 6-3 8-2 14-1 2 1 14 2 8 5 6 5 16 17 12 16 4 2 10 0 6-3 4-4M970 742l6 5 2 0 4 2 10 0 4-2 14-14 10-17M1034 703l2-2 10-5 4-1 6 0 2 1 6 7 20-1 2 1 10 11 4 2 4 0 6 3 14 20 9 10 6 4 4 0 14-7 6-4 16 0 4 1 10 5 8 1 4-3 14-21 14-15 6-4M1243 704l8-2 14-1 2 1 6 0 10 3M1293 712l18 19 12 16 4 2 8 0 8-3 4-4M970 738l10-2 14-7 10-7 12-14M1020 702l10-15 14-17 4-2 8 0 10-6 6 0 8 3 10 0 4-1 4 6 16 41 6 9 4 2 15 2 20 10 16 4 6 0 10-4 10-8 20-20 16-23 8-8 10-4 12 0 2 1 4 0 8 4 6 6 16 23 14 14 16 12 14 7M970 745l8-1 18-9 6-4 10-11M1024 703l18-25 4-4 4-2 6 0 8-4 8 0 8 4 12 0 2-1 4 6 14 37 6 12 6 3 17 3 20 10 14 3 6 0 10-4 8-6 22-22 16-23 6-7 4-3 10-5 10 0 12 6 8 8 10 15 12 15 22 18 16 8M970 755l6 0 4-2 2 0 8-4 12-8 10-10 12-17M1032 702l14-21 4-3 4 0 8-2 6 0 14 7 12-1 2 1 2 4 6 18 10 24 6 9 6 2 17 3 20 10 10 2 10 0 10-5 4-3 22-21 16-23 10-12 8-7 8-4 2 0 4 1 8 6 10 10 16 23 12 13 22 17 10 5 2 0M970 767l8-1 18-9 6-4 8-8 28-41 8-15 6-5 4 0 2-1 6 1 6 3 6 5 4 2 12 0 2-1 4 6 14 37 6 12 6 3 17 3 18 9 10 3 12 1 10-4 8-6 22-22 10-14M1243 704l16-17 4-1 4 2 16 18M1293 720l14 19 10 9 14 11 16 8M970 777l8-1 12-5 12-8 10-10 24-36 12-24 2-2 6-2 8 2 12 11 6 3 4-1 8 0 2 1 18 46 6 9 6 2 17 3 18 9 12 3 10 0 10-5 4-3 22-21 20-28M1245 712l12-17 2-2 4-1 6 4 12 17M1285 718l16 24 12 13 16 13 6 3 2 2 8 4 2 0M970 785l12-3 10-5 14-10 12-15 12-18 6-10 12-26 6-5 4 0 6 3 10 11 8 5 4 0 2-1 6 0 2 1 18 46 6 9 25 6 18 9 8 2 6 0 2 1 8-2 8-5 24-23 28-39 10-16 4-4 2 0 4 2 16 25 22 31 10 10 14 11 18 10M970 742l4 0 8-2 14-7 12-8 4-4M1026 703l6-9 10-11 8-7 4-2 4 0 12-7 10-1 4 1 4 3 8 9 4 6 14 29 12 18 13 6 12 3 4 0 2 1 26 0 8-4 8-6 14-14 2-1 6-6 22-27 6-3 10-1 2-1 2 1 12 1 6 3 8 8 14 18 8 8 18 14 18 10M970 749l10-1 16-8 12-8 8-8 6-8M1030 704l20-24 4-2 8-1 10-4 10 1 6 3 8 9 4 6 10 22 12 21 4 4 5 3 2 0 6 3 10 3 4 0 2 1 28 0 10-5 20-18 8-8 22-27 8-5 12-3 10 3 6 3 10 10 12 16 10 10 22 17 14 7M970 760l8-1 4-2 2 0 8-4 18-12 8-9 30-43 6-5 6 0 2-1 16 0 8 3 12 13 14 29 12 20 2 2 9 4 2 0 10 4 4 0 8 2 22 0 4-1 10-6 10-9 18-18 2-3M1241 703l6-6 14-8 4 0 4 2 14 11M1299 722l8 10 8 7 16 12 16 9M970 771l10-1 16-8 12-8 12-13 20-30 8-15 2-3 4-3 6 0 24 6 4 3 4 4 8 11 10 22 12 21 4 4 5 3 2 0 12 5 10 2 28 0 10-5 28-26 16-21M1245 710l14-14 4-1 4 2 14 14M1287 718l16 21 8 8 18 14 18 10M970 782l8-1 6-3 2 0 14-8 12-9 6-7 20-30 10-21 4-6 4-2 18 9 6 1 6 3 8 8 6 8 12 26 12 20 2 2 9 4 2 0 10 4 12 1 2 1 18 0 10-3 16-13 18-18 32-42 4-4 2-1 4 0 8 9 28 37 12 12 18 14 16 9M984 786l10-5 12-8 8-7 22-32 14-30 4-5 2 0 6 3 6 5 12 6 2 0 4 2 8 8 8 12 10 22 12 20 2 2 17 7M1189 786l14-11 22-22 24-32 8-13 6-4 4 3 14 21 24 31 20 17 16 10M970 756l8 0 10-3 16-8 12-8 8-11 14-27 14-20 4-2 8 1 10 4 12 11 6 9 24 47 4 6 4 4 5 2 2 2 12 6 2 0 4 2 4 0 2 1 8 0 4-1 4-2 2 0 16-9 10-7 8-8 16-22M1243 704l6-5 8-4 8-1 12 6 6 5M1303 724l10 13 14 13 12 5 8 1M970 762l8 0 10-3 16-8 12-8 8-11 14-27 14-20 4-2 8 1 10 4 12 11 6 9 24 47 4 6 4 4 5 2 2 2 12 6 2 0 4 2 4 0 2 1 8 0 4-1 14-6 2-2 12-7 12-11 22-29M1245 709l4-4 8-4 8-1 12 6 4 4M1295 721l18 22 10 10 8 5 2 0 6 3 8 1M970 771l6 0 14-4 12-6 12-8 8-9 14-27 14-21 4-4 8 0 14 6 10 10 6 9 22 43 8 12 2 2 9 4 6 4 2 0 10 4M1167 785l2 0 18-9 12-8 6-6 22-29 8-8 14-11 10-5 6 0 8 3 18 14 8 8 16 20 8 8 14 7 10 2M970 781l16-3 20-10 10-7 8-11 16-30 10-14 4-4 2-1 4 0 4 1 12 6 4 3 8 9 6 10 10 21 12 22 4 6 4 4 5 3M1185 786l12-7 10-10 18-24 12-12 14-11 10-4 6 1 8 4 14 11 12 12 16 20 8 7 10 5 12 3M988 786l16-8 14-10 6-9 14-27 10-15 4-5 4-2 4 0 14 5 12 11 6 9 14 28 14 25M1199 786l8-8 16-22 10-11 16-13 10-5 6 0 12 6 10 9 6 4 6 6 14 18 10 10 4 3 4 2 2 0M1000 786l18-12 6-9 14-27 10-15 4-5 4-2 4 0 14 5 12 11 6 9 24 46M1205 786l18-24 10-11 16-13 10-5 6 0 12 6 10 9 6 4 6 6 14 18 10 10M970 748l16-4 4-2 8-2 6-3 2 0 12-6 14-10 16-8 4-1 6 0 22 9 12 0 2 1 35 0 4 1 6 3 20 15 16 6 8 0 10-3 8-4 2-2 38-19M1247 716l8-3 14 0 10 4M1283 718l6 4 16 8 2 0 40 18M970 757l8-2 4-2 6-1 20-8 2 0 12-7 14-10 10-5 4-1 8 0 4 1 12 6 2 0 4 2 38 0 2 1 11 0 10 5 14 11 12 6 10 3 10-1 24-12 2-2 4-2 2 0 32-16 8-2 6 0 12 3 36 18 2 0 14 7 2 0 16 8M970 767l14-3 4-2 8-2 6-3 2 0 16-8 14-10 12-6 8-2 2 1 4 0 22 9 44 0 5 1 10 5 16 12 16 7 12 0 4-1 16-8 2-2 16-8 2 0 4-3 18-9 10-3 10 0 8 2 34 17 2 0 32 15 4 1M970 776l16-4 12-5 8-2 10-5 24-16 12-4 6 0 22 9 12 0 2 1 35 0 4 1 6 3 14 11 6 3 2 2 2 0 8 4 4 1 8 0 10-3 6-3 2-2 48-24 2 0 4-2 14 0 10 4 2 0 24 13 2 0 40 18M970 760l20-4 4-2 20-6 12-6 8-6 14-8 14-3 6 0 2-1 18 0 32 11 2 0 21 9 16 13 12 3 12 0 10-3 60-32 4-1 10 0 10 3 28 16 2 0 12 6 2 0 10 5 2 0 14 6M970 769l22-5 4-2 14-4 6-3 2 0 12-7 8-6 12-6 10-2 6 0 2-1 10 0 2-1 10 1 4 2 26 8 6 3 3 0 16 8 12 10 6 3 10 1 2 1 12-1 24-12 2-2 14-6 2-2 18-10 2 0 6-3 6 0 2-1 10 2 40 21 2 0 12 6 2 0 18 8M970 779l14-2 4-2 6-1 4-2 14-4 16-8 8-6 16-8 4 0 8-2 8 0 2-1 12 0 8 2 4 2 20 6 6 3 5 1 16 8 12 10 6 3 4 0 2 1 16 0 4-1 62-33 8-2 6 0 8 2 36 19 2 0 12 6 2 0 10 5 2 0 8 4 2 0M982 786l32-10 12-6 8-6 14-8 14-3 6 0 2-1 18 0 32 11 2 0 9 4 2 0 10 5 12 10 6 3M1191 785l2 0 8-4 2-2 50-26 4-1 10 0 10 3 28 16 2 0 34 15M970 773l8 0 18-4 12-5 2 0 8-4 2 0 6-4 18-18 6-4 4-1 16 2 18 5 4 0 10 3 4 0 12 3 11 4 20 10 16 5 4 0 2 1 16 0 12-3 16-7 2 0 18-9 16-12 8-3 8 0 12 6 14 11 24 12 2 0 14 7 2 0 8 4 4 1M970 782l12-1 16-4 12-5 2 0 12-6 22-21 6-3 14 1 14 4 14 2 28 7 4 2 5 1 24 12 2 0 4 2 12 1 2 1 8 0 18-4 20-9 2 0 10-5 16-12 8-4 4-1 4 0 4 2 2 0 10 6 16 12 6 3 2 0 22 11 2 0 18 8M1002 786l20-8 20-19 10-6 10 0 2 1 4 0 14 4 4 0 10 3 4 0 20 5 4 2 5 1 24 12 10 3 14 1M1181 785l12-1 4-2 8-2 6-3 2 0 12-6 2 0 4-2 16-12 12-6 6 0 4 1 8 4 16 12 30 15 2 0 6 3M1022 786l4-2 18-18 4-3 6-2 16 2 18 5 4 0 26 6 11 4 16 8M1211 786l6-3 2 0 16-8 16-12 8-3 8 0 12 6 16 12 16 8M1016 789l22-38 8-7 8-4 2 0 8 4 8 7 20 34M1024 786l16-27 12-8 6 0 12 8 16 27M1223 789l18-33 6-9 6-5 8-4 4 0 8 4 8 8 20 36M1229 788l16-28 6-6 10-6 4 0 6 3 8 7 16 27M1024 788l18-33 4-4 6-4 6 0 6 4 4 4 18 33M1030 788l12-23 10-8 4 0 6 3 6 5 12 23M1231 787l6-10 12-24 8-7 4-2 4 0 4 2 8 8 18 34M1237 787l12-23 8-8 4-2 2 0 4 1 10 9 12 24M1032 787l12-26 8-8 6 0 8 8 12 26M1036 790l8-19 6-6 4-2 2 0 4 2 4 4 4 6 6 15M1239 786l14-29 6-6 2-1 4 0 6 5 4 6 12 26M1243 789l6-15 4-7 4-4 6-3 4 2 6 6 4 7 6 15M1038 790l8-22 2-3 6-5 4 1 6 7 8 22M1042 789l4-11 6-7 4-1 2 1 6 7 4 12M1245 789l8-22 4-6 4-4 2 0 4 2 4 5 8 22M1249 789l4-12 4-6 6-4 6 5 4 6 4 12M1044 789l4-15 2-4 4-4 2 0 6 8 4 16M1046 791l2-7 6-8 2 0 2 2 4 7 2 6M1251 789l6-20 2-3 4-3 2 1 4 6 6 21M1253 792l2-8 4-8 4-3 2 1 4 6 2 6M970 478l6-1 20-10 6-7 12-25 4-6 4-4 2 0 6 3 4 7 6 15 10 30 4 9 8 3 12 0 6 2 4 0 4-3 20-35 6-8 6-2 13 0 10 2 20 10 4 0 2 1 12 0 10-5 8-7 18-30M1243 418l12 26 4 5 4 2 2-1 4-5 6-16 6-12M1305 419l4 5 6 12 6 15 4 6 4 3 18 1M970 485l10-3 16-8 6-7 12-25 4-6 6-4 6 3 4 7 6 15 12 36 2 3 2 2 4 1 12-1 6 2 6 0 4-3 8-13 6-12 12-17 4-2 17 0 8 2 18 9 10 2 8 0 4-1 12-7 4-4 6-9 6-12 6-9 6-6M1239 418l10 19 6 14 6 7 4-1 4-4 6-17 10-18M1299 418l10 13 16 33 2 2 4 0 2 1 14 0M970 494l14-4 12-6 6-7 10-21 6-10 4-3 4 0 6 5 4 9 14 42 4 9 4 2 4 0 6-2 10 0 2 1 4 0 2-1 10-15 8-15 6-9 6-6 4 0 2-1 15 1 8 2 14 8 8 2 6 0 2 1 8-1 12-7 6-6 16-28 8-7 6-3 4 0 4 4 16 34 6 7 4-1 6-8 4-13 4-9 6-10 6-5 6 3 12 15 16 33 4 2 18 0M970 504l16-4 12-6 4-6 12-24 4-6 4-4 2 0 6 3 4 7 6 15 8 26 6 16 2 1 4 0 10-4 14 0 4-3 12-20 14-20 6-2 13 0 12 3 18 9 4 0 2 1 12 0 4-1 10-6 6-6 14-25 12-11 6-2 4 2 4 6 8 16 6 15 4 6 4 2 2-1 4-5 2-4 4-14 6-12 6-9 4-2 2 0 2 1 10 11 6 9 10 22 6 8 20 0M970 513l12-2 16-7 6-9 10-21 4-6 4-3 4 0 6 5 4 9 16 49 2 4 2 1 4 0 12-6 12 0 4-3 12-20 10-15 4-4 4-2 17 0 8 2 18 9 10 2 10 0 4-2 2 0 2-2 6-3 6-6 16-27 8-7 6-3 4 0 4 4 8 15 8 20 4 6 4 2 2-1 4-6 8-22 6-11 2-3 6-5 6 3 10 12 4 6 14 28 4 2 16 0 2-1M970 519l14-2 14-6 6-9 8-17 6-10 4-3 4 0 6 5 6 14 14 45 2 4 4 1 12-7 4-1 10 0 2-1 10-14 8-14 8-11 4-3 8 0 5-1 2 1 10 1 20 10 10 1 2 1 10-1 12-6 6-6 16-27 8-7 6-3 4 0 6 8 8 16 6 15 6 8 4-1 4-5 2-4 4-14 10-19 4-4 4 0 4 2 10 12 6 9 10 22 4 4 20 0M970 463l8 1 10-4 20-24 12-17M1030 417l8 14 14 51 2 4 4-1 6-11 2-3 2-1 4 1 8 11 4 1 2-2 16-51 2-5 6-6M1116 417l10 26 7 11 14 15 4 3 10 5 12 3 6 0 6-3 12-13 12-20 4-5 8-8 4-2 2 0 2 1 8 9 6 16 10 21 6 9 4 3 2-2 6-12 8-22 10-23 2-3 4-1 6 4 16 24 18 17 12 8M970 469l2 1 10 0 8-5 22-27 6-10 6-6 4 0 6 8 4 8 12 45 4 11 2 0 2-2 6-11 4-5 2 0 10 12 4 1 2-2 16-51 4-7 4-4 4-2 2 1 10 26 7 11 18 18 14 6 14 2 8-5 10-11 18-27 6-6 4-2 2 0 6 5 4 6 8 20 8 16 6 10 2 2 2 0 2-1 6-12 8-23 8-19 4-7 2-1 2 0 4 2 18 26 4 4 16 14 10 7M970 478l6 2 10-2 10-10 14-17 10-15 6-4 6 5 6 12 12 45 4 12 2 0 2-2 6-13 4-5 4 1 10 11 2 0 2-2 16-51 4-7 2-2 6-3 2 1 2 3 8 23 9 13 14 14 4 3 10 4 8 2 10 0 2-1 4-3 10-11 14-22 6-7 6-5 4 0 4 2 6 8 16 37 6 10 2 2 2 0 2-1 6-12 14-38 4-8 4-5 4 1 6 6 12 18 12 12 20 15M970 488l6 2 6 0 6-3 20-22 10-15 6-6 4 0 6 8 4 8 14 54 2 4 2 0 2-2 8-17 2-2 4 0 10 11 2 0 4-8 12-39 4-10 6-6 2-1 4 0 10 26 7 11 16 17 14 7 10 2 10-1 6-5 8-9 16-24 8-8 4-2 2 0 2 1 8 9 8 21 8 17 6 10 4 3 2-2 4-8 10-28 8-19 4-7 2-1 2 0 6 4 14 20 10 10 14 11 8 5M970 497l4 2 10 0 4-2 20-22 12-17 4-4 2 0 4 2 8 15 14 54 2 5 2 0 12-24 2 0 4 2 2 3 6 5 2 0 2-2 16-49 4-7 2-2 6-3 2 1 10 26 7 11 14 15 4 3 10 5 14 3 4 0 6-3 12-12 12-19 6-7 8-7 4 0 4 2 6 8 8 20 12 25 2 3 4 3 2-2 4-8 16-43 4-8 4-5 4 1 6 6 12 17 6 6 12 10 14 9M970 503l6 3 10-1 10-9 14-16 10-15 6-4 6 5 6 12 14 55 2 5 2 0 12-25 4 0 10 9 2 0 2-2 16-49 2-4 6-6 4-1 2 1 6 13 4 13 7 11 18 18 14 6 4 0 2 1 10 0 4-2 12-12 14-21 6-7 6-5 4 0 4 2 6 8 14 34 8 15 4 3 2-2 6-13 8-24 8-19 6-9 4 1 6 6 12 17 4 4 12 10 16 10M970 442l24-25M1036 417l16 26 4 3 8 0 2-1 8-12 14-16M1126 417l3 2 2 3 8 16 2 2 10 5 14 3 4 2 8 2 2 0 8-4 14-14 8-6 10-10M1309 419l10 8 28 15M970 450l34-32M1024 417l10 10 12 19 4 8 4 5 10 0 2-1 10-14 22-25M1114 418l15 14 8 16 4 6 12 5 14 3 8 3 6 0 4-2 38-35 8-4 8 0 16 7 4 1 8 0 4-2 2 0 14-7 6-1 10 4 14 11 12 6 2 0 16 7M970 457l8-7 20-14 8-8 6-3 4 0 6 3 10 10 18 29 4 5 12 0 8-12 10-11 10-13 6-6 4-2 8 2 17 16 10 19 2 2 10 5 14 3 8 3 8 0 6-3 16-16 6-4 12-12 10-6 10 1 16 7 6 1 2-1 4 0 18-9 6-1 4 1 8 4 14 10 28 7M970 427l6-9M1032 418l18 10 6 5 8 20 4 5 4-1 14-7 4-3 10-10 2-1 10-12 6-5 8 0 7 2 26 14 8 2 12 1 6-3 12-13 6-3 16 0 2 1 8 0 10 2 28 1 8-2 6-3M1337 418l10 9M970 434l10-12 4-3M1000 418l4 2 8 2 10 5 2 0 30 17 4 6 8 20 2 1 6-1 14-8 8-7 20-21 4-2 9 1 32 16 10 2 10 0 2-1 16-16 4-2 10 0 2 1 10 0 10 2 24 1 4 1 14-3 26-13 8-2 14 2 12 6 10 7M970 441l10-10 6-4 6 0 14 6 2 0 10 5 2 0 22 12 12 8 4 6 6 16 4 5 4-1 14-7 16-14 8-10 8-7 8 0 7 2 26 14 20 3 6-3 8-9 8-7 18 0 2 1 8 0 2 1 8 0 2 1 8 0 2 1 16 0 8-2 32-16 4 0 2-1 6 0 10 2 18 8M1048 416l6 15 4 2 4 0 2 1 6-1 14 3 4-4 10-17M1044 417l6 19 4 9 4 2 4 0 8-2 4 0 2 1 8 0 2-1 4-5 14-24M970 424l8 2 16 1 4-1 6-6 2-4M1038 415l14 44 4 5 4 0 8-4 4 0 2-1 2 1 8 0 2-1 10-15 6-11 10-14M1147 419l14 7 10 2 10 0 12-6 6-5M1257 419l6 5 6-7M970 435l16 4 10 0 6-4 12-19M1034 419l4 9 14 45 2 4 4 1 14-7 12 0 2-1 24-37 4-4 4-2 17 0 8 2 18 9 10 2 10 0 4-2 2 0 10-6 10-15M1249 414l6 15 4 6 2 2 2 0 2-1 4-5 2-4 4-14M1319 417l4 5 4 3 8 0 10-5 2-2M1048 416l4 15 2 4 2 0 2-2 10-15 2 0 4 4 4 6 4 4 2 0 2-3 4-12M1147 417l4 4 8 4 12 3 10 0 6-4 6-7M1249 417l4 8 6 9 4 3 2-2 8-17M1044 414l8 31 2 4 2 1 2-2 6-13 4-5 4 1 6 8 6 4 4-8 6-21M1135 417l16 16 14 6 14 2 6-3 6-6 12-16M1243 416l4 10 10 19 4 5 2 0 2-1 6-12 8-23M976 418l2 1 8 0 2-1M1040 415l10 41 4 11 2 0 2-2 6-14 4-6 4 1 10 10 2 0 4-8 10-32M1126 419l7 11 18 18 14 6 10 1 2 1 8-3 10-10 18-26M1237 417l10 25 10 20 2 3 4 3 2-2 4-8 16-43M1313 417l4 4 14 6 10 3 6 0M970 426l2 2 6 3 8 0 8-2 14-7 4-4M1036 417l4 11 12 49 2 4 2 1 12-25 4 0 10 10 2 0 4-8 14-44M1122 419l4 12 7 11 18 18 10 5 14 3 4 0 6-3 12-12 14-21 6-7 6-5 4 0 4 2 6 8 16 38 6 11 2 2 2 0 4-5 4-9 8-24 8-20 4-7M1301 418l16 15 14 6 16 3"/></g>
<rect x="485.00" y="214.60" width="188.60" height="172.90" fill="none" stroke="#262626" stroke-width="1.2"/>
<line x1="485.00" y1="214.60" x2="488.00" y2="214.60" stroke="#262626" stroke-width="1.2"/>
<text x="480.40" y="219.90" font-size="15" text-anchor="end">2</text>
<line x1="485.00" y1="257.82" x2="488.00" y2="257.82" stroke="#262626" stroke-width="1.2"/>
<path d="M473.65,255.03 L476.85,252.53 L476.85,263.12" fill="none" stroke="#111" stroke-width="1.45" stroke-linejoin="miter"/>
<line x1="485.00" y1="301.05" x2="488.00" y2="301.05" stroke="#262626" stroke-width="1.2"/>
<text x="480.40" y="306.35" font-size="15" text-anchor="end">0</text>
<line x1="485.00" y1="344.27" x2="488.00" y2="344.27" stroke="#262626" stroke-width="1.2"/>
<path d="M473.65,341.47 L476.85,338.97 L476.85,349.57" fill="none" stroke="#111" stroke-width="1.45" stroke-linejoin="miter"/>
<text x="472.06" y="349.57" font-size="15" text-anchor="end">−</text>
<line x1="485.00" y1="387.50" x2="488.00" y2="387.50" stroke="#262626" stroke-width="1.2"/>
<text x="480.40" y="392.80" font-size="15" text-anchor="end">−2</text>
<text x="485.00" y="403.90" font-size="15" text-anchor="middle">Y</text>
<line x1="480.40" y1="391.60" x2="489.60" y2="391.60" stroke="#222" stroke-width="0.9"/>
<text x="527.62" y="403.90" font-size="15" text-anchor="middle">Γ</text>
<line x1="523.02" y1="391.60" x2="532.22" y2="391.60" stroke="#222" stroke-width="0.9"/>
<text x="541.96" y="403.90" font-size="15" text-anchor="middle">X</text>
<line x1="537.36" y1="391.60" x2="546.56" y2="391.60" stroke="#222" stroke-width="0.9"/>
<text x="581.94" y="403.90" font-size="15" text-anchor="middle">K</text>
<line x1="577.34" y1="391.60" x2="586.54" y2="391.60" stroke="#222" stroke-width="0.9"/>
<text x="589.11" y="403.90" font-size="15" text-anchor="middle">M</text>
<line x1="584.51" y1="391.60" x2="593.71" y2="391.60" stroke="#222" stroke-width="0.9"/>
<text x="631.35" y="403.90" font-size="15" text-anchor="middle">Γ</text>
<line x1="626.75" y1="391.60" x2="635.95" y2="391.60" stroke="#222" stroke-width="0.9"/>
<text x="673.60" y="403.90" font-size="15" text-anchor="middle">Y</text>
<line x1="669.00" y1="391.60" x2="678.20" y2="391.60" stroke="#222" stroke-width="0.9"/>
<text x="552.10" y="292.30" font-size="15" stroke="#111" stroke-width="0.3">N=6</text>
<text x="463.90" y="217.00" font-size="18.5" font-weight="bold">f</text>
<clipPath id="clipg"><rect x="39.80" y="419.00" width="189.80" height="173.20"/></clipPath>
<line x1="82.69" y1="419.00" x2="82.69" y2="592.20" stroke="#d9d9d9" stroke-width="1.7"/>
<line x1="97.12" y1="419.00" x2="97.12" y2="592.20" stroke="#d9d9d9" stroke-width="1.7"/>
<line x1="137.36" y1="419.00" x2="137.36" y2="592.20" stroke="#d9d9d9" stroke-width="1.7"/>
<line x1="144.57" y1="419.00" x2="144.57" y2="592.20" stroke="#d9d9d9" stroke-width="1.7"/>
<line x1="187.08" y1="419.00" x2="187.08" y2="592.20" stroke="#d9d9d9" stroke-width="1.7"/>
<line x1="39.80" y1="505.60" x2="229.60" y2="505.60" stroke="#b0b0b0" stroke-width="0.9" stroke-dasharray="1.1,1.9"/>
<g clip-path="url(#clipg)"><path transform="scale(0.5)" fill="none" stroke="#ff0000" stroke-width="1.5" stroke-linejoin="round" d="M80 1096l14-7 14-11 8-8 18-21 10-18 6-8 4-2 6 0 8-2 8 3 12 0 8 2 16 9 6 6 8 21 8 16 6 9 10 8 8 4 2 0 10 4 22 0 3-1 20-18 32-48 6-6 14-7 10-1 8 2 12 6 8 8 20 32 18 17 16 12M80 1102l14-7 12-9 16-16 12-14 16-23 20-4 8 0 8-3 8 0 12 6 6 4 4 4 4 7 6 16 6 12 10 15 6 4 4 4 20 9 18 0 5-2 4-3 14-13 16-21 14-21 6-7 12-7 12-3 16 3 10 5 10 11 16 24 20 19 14 11M80 1112l10-5 14-10 24-24 20-23 8-3 10-1 10-6 8-7 6-3 4 0 10 5 12 10 4 7 4 11 8 16 8 13 16 14 16 9 18 0 5-2 22-22 12-14 12-16 8-8 4-3 14-4 16 0 10 2 6 3 8 7 18 23 34 31M80 1123l10-5 14-10 12-12 2-1 16-17 12-9 4-2 14-2 4-2 16-22 4-4 4-2 6 1 10 7 8 8 4 7 6 15 12 21 20 21 10 8 4 2 18 0 5-2 8-10 44-44 10-4 14-1 2-1 4 0 2 1 14 0 4 2 2 0 6 4 54 53M80 1134l10-5 14-10 32-30 10-3 20-3 2-2 16-32 4-6 4-3 4 0 4 2 12 10 6 8 8 18 16 26 12 14 16 16 2 1 18 0 2-1 5-4 14-18 16-12 16-14 8-4 6 0 2-1 38 0 4 2 2 0 2 2 6 3 20 16 20 20 8 10M80 1144l22-14 32-29 2-1 18 1 12-3 4-6 4-12 10-24 4-8 2-3 2-1 4 0 4 2 14 13 4 6 8 17 8 14 10 15 20 25 8 7 18 0 2-1 5-4 10-15 8-8 10-5 14-10 8-4 10-1 2 1 14 0 2 1 2-1 8 0 8-2 4 0 10 3 14 7 6 4 22 22 10 13M84 1148l18-12 24-21M130 1111l6-4 2 0 8 4 4 1 2-1 14-2 4-8 8-25 8-20 4-8 4-2 6 3 6 5 10 11 10 20 10 17 26 36 10 11 18 0 2-1 3-2 10-16 8-9 34-17 8 0 8 2 14 1 16-4 6 0 12 3 14 6 22 21 12 16M80 1108l4-2 2 0 14-7 6-4 14-12 12-16 4-4 8-4 2-2 8-3 12-1 12-7 6 0 2-1 12 0 2 1 6 0 10 2 4 5 6 13 4 4 8 1 10 7 6 6 6 3 2 0 16 16 8 5 6 0 3-1 12-8 26-29 14-14 10-4 6 0 2 1 28-1 8 4 6 5 24 25 28 22M80 1111l4-1 18-9 6-4 16-15 8-11 6-5 12-6 4-1 12 0 12-8 10-2 12 0 2 1 6 0 8 2 4 5 8 14 10 4 4 3 14 15 10 4 6 6 8 6 6 3 9-1 14-10 28-31 10-9 6-3 24 1 10-2 8 1 6 3 4 3 16 17 10 9 28 21M80 1116l4-2 2 0 18-9 8-6 10-9 12-15 14-7 4-1 14 0 4-2 6-6 12-4 16 0 10 2 4 2 8 13 4 4 8 4 10 15 8 9 8 2 6 4 16 8 4 0 5-2 6-3 8-6 12-14 22-22 4-3 8-3 10 1 2 1 12 0 8-2 10 1 8 5 24 23 30 22M80 1121l8-2 16-8 12-9 10-10 8-10 8-4 8-2 16 1 4-2 6-7 12-6 4-1 6 0 2 1 6 0 10 2 4 4 8 11 6 4 4 4 4 6 6 13 8 11 6 2 10 1 10 4 10 0 7-3 12-9 10-12 22-21 8-4 10 0 8 2 10 0 6-2 12 0 10 6 18 17 8 6 26 17M80 1127l10-4 2 0 18-10 8-6 8-8 6-8 4-3 10-3 8 0 6 2 6 0 2-1 8-9 8-6 8-3 10 0 2 1 10 1 4 2 20 21 10 25 8 12 4 2 10-2 20 1 7-2 14-10 12-14 2-1 12-12 12-8 10 0 10 3 10 0 10-3 8 0 8 4 24 20 30 19M80 1132l4-1 8-4 2 0 10-5 12-8 6-5 10-12 4-3 8-2 6 0 10 3 8 0 6-8 8-8 8-5 16 0 6 2 4 0 10 8 8 9 4 6 4 9 6 19 4 8 6 8 4 0 10-5 4-1 12 0 4-1 9-4 6-4 32-31 6-4 6-2 4 0 8 2 4 2 12 0 10-3 10 0 8 4 22 18 8 4 2 2 8 4 12 8M80 1135l10-3 18-9 10-7 12-13 6-5 4-1 10 0 12 4 4 0 2-1 4-4 4-6 8-8 4-3 6-2 12 1 10 2 8 5 6 6 8 11 10 32 6 12 4 4 4 0 14-8 16-2 9-4 8-6 28-27 6-4 8-3 14 3 4 2 10 0 4-2 8-2 8 0 10 5 22 17 10 5 2 2 16 9M80 1109l2 2 8 4 4 1 8 0 4-2 12-12 16-25 4-4 6-4 14-7 4 0 2-1 4 1 4 5 4 3 6 0 2-1 10-1 2 1 10 11 14 5 10 15 4 4 4 6 8 8 4 2 2 0 16-8 4-3 20 0 13 6 6 1 4-2 14-21 14-15 6-5 4-2 14-3 14 0 12 3 6 3 12 11 14 15 6 9 8 7 8 0 4-1 8-6M80 1118l4 4 8 3 10 0 6-3 12-13 10-17 6-8 12-8 12-5 6 0 10 8 18-1 2 1 10 11 12 3 4 4 10 15 8 10 8 7 6 0 20-11 14 0 9 2 10 5 6 0 4-4 12-18 18-19 8-4 8-2 6 0 2-1 6 0 18 4 6 4 22 22 10 14 6 4 10 0 6-3 4-4M80 1131l4 4 8 3 10 0 6-3 12-13 10-17 6-8 12-8 12-5 6 0 10 8 18-1 2 1 10 11 12 3 4 4 10 15 8 10 8 7 6 0 20-11 14 0 2 1 5 0 12 6 6 0 4-4 12-18 18-19 8-4 8-2 6 0 2-1 6 0 18 4 6 4 22 22 10 14 6 4 10 0 6-3 4-4M80 1144l6 5M114 1142l8-10M136 1110l12-8 12-5 6 0 10 8 18-1 2 1 10 11 12 3 4 4 10 15 10 12 6 5 6 0 20-11 16 0 5 1 12 6 6 0 4-4 10-16 20-21 8-4 8-2 6 0 2-1 12 1 14 4 4 3 22 22 6 8M455 1148l4-4M98 1161l4 0 4-2 8-8M120 1144l12-19M146 1113l12-6 4 0 2-1 4 1 4 5 4 3 6 0 2-1 10-1 2 1 10 11 14 5 10 15 4 4 4 6 8 8 4 2 2 0 16-8 4-3 20 0 13 6 6 1 4-2 14-21 6-6M355 1116l12-3 14 0 12 3M413 1133l6 6M431 1154l6 6 4 1M80 1147l8-1 18-9 6-4 8-8 6-8M130 1111l12-17 14-16 2-1 4 0 2 1 4-1 10-6 6 0 6 3 10 0 4-1 2 1 2 3 16 42 6 10 4 2 14 2 4 2 2 0 18 9 12 3 8 0 7-2 6-4 20-18 8-9 14-20 8-9 8-4 4-1 10 0 10 2 8 5 6 7 16 23 6 6 20 16 16 8M104 1143l10-6 10-12M134 1111l18-25 4-4 4-2 2 1 6-1 10-5 2 0 8 4 4 1 12-1 2 1 2 3 6 17 12 29 6 7 20 4 18 9 20 4 5-1 8-4 8-6 22-22 20-28 4-3 10-5 8-1 8 2 8 4 8 8 16 23 12 12 14 11 4 2M118 1141l10-13M138 1114l14-21 6-7 20-4 12 6 10 0 4-1 2 1 2 3 16 42 6 10 4 2 14 2 4 2 2 0 18 9 12 3 8 0 5-1 4-2 8-6 12-12 2-1 14-16 12-18 10-10 12-7 6 0 8 4 12 11 20 28 12 11M82 1171l2-1 4 0 18-9 6-4 12-13 18-26M146 1112l10-17 6-4 4-1 12 0 4 3 10 5 8 0 4-1 2 1 2 3 16 42 6 10 8 3 10 1 4 2 2 0 18 9 12 3 8 0 7-2 6-4 24-22 8-11M345 1121l8-11 14-14 6-3 2 0 6 3 14 14 6 8M409 1130l10 13M437 1158l6 5 10 5M80 1181l10-2 16-8 6-4 12-13 20-29 12-23 4-4 8-3 2 1 4 0 4 2 8 7 6 3 8 0 2-1 4 1 2 3 14 37 4 9 4 6 4 2 14 2 4 2 2 0 18 9 8 2 12 1 13-6 4-3 20-19 18-25M355 1117l10-12 8-7 4 1 8 8 4 6 4 4M401 1128l10 15 12 14 20 16 16 8M80 1189l4 0 10-3 14-8 8-6 12-15 16-24 14-28 6-5 6 0 4 2 16 14 16 0 2 3 16 42 4 8 2 2 6 3 14 2 18 9 14 4 13 0 12-7 24-23 22-31M357 1123l10-15 6-5 4 1 4 4 10 15M395 1128l18 26 12 13 16 13 6 3 2 2 8 4 2 0M80 1195l8-1 18-9 6-4 8-8 26-38 12-26 2-3 6-3 2 0 6 3 14 14 4 2 8 0 2-1 4 1 2 3 16 42 6 10 8 3 10 1 4 2 2 0 18 9 12 3 8 0 7-2 10-7 14-14 2-1 14-17 30-45 2-2 4-1 4 3 12 19 26 37 6 6 20 16 16 8M104 1143l10-6 8-7M136 1112l8-11 18-17 8-1 2-2 10-5 8-1 6 2 4 3 6 7 6 9 12 26 12 19 10 5 18 5 28 0 5-1 4-2 8-6 10-10 2-1 14-14 12-16 8-8 10-4 14 0 10 2 4 2 6 6 14 18 12 12 20 15 6 3M118 1139l8-7 4-6M140 1112l6-8 14-15 4-2 6-1 8-4 4-1 10 0 6 3 6 6 6 8 12 26 8 14 4 6 4 4 6 3 2 0 10 4 4 0 8 2 24 0 13-6 6-5 20-19 14-18 10-11 10-5 4-1 8 0 10 3 8 5 20 25 6 6 16 13M120 1146l8-8 14-20M146 1112l12-16 6-5 6 0 8-2 12 0 4 1 6 4 12 16 12 26 12 19 10 5 18 5 31 0 6-3 18-15 16-16 8-11 12-14 10-7 8-3 2 0 14 7 10 10 14 18 10 10M80 1175l10-1 18-9 10-7 12-13 30-45 6-4 20 2 8 2 6 4 12 16 12 26 12 19 10 5 18 5 28 0 5-1 4-2 8-6 10-10 2-1 14-14 8-11M355 1116l8-8 8-6 6 0 8 6 8 8M405 1131l8 10 12 12 20 15 14 7M80 1185l10-1 16-8 12-8 12-13 20-30 8-16 6-7 6 0 6 3 16 4 6 3 8 9 6 9 10 22 12 20 4 4 8 4 20 5 26 0 5-1 4-2 8-6 24-23 20-25M357 1123l10-12 6-4 2 0 4 2 12 14M395 1128l18 23 10 10 18 14 18 10M80 1194l8-1 14-6 2-2 12-7 8-7 10-13 14-22 12-25 2-3 4-2 4 1 4 3 14 7 8 2 8 8 6 8 14 29 10 17 4 4 16 6 8 2 6 0 2 1 20 0 5-1 8-4 10-8 22-22 32-42 4-4 4-1 4 2 28 38 12 14 24 19 16 9M96 1195l18-10 12-11 18-26 8-15 8-18 2-3 4-3 6 3 6 5 12 6 2 0 4 2 6 5 10 14 12 26 12 19 10 5 4 1M301 1196l8-6 26-25 22-29 12-18 4-3 4 1 4 4 8 13 24 32 12 12 6 4 4 4 4 2 6 5 6 3M94 1163l2 0 10-4 2-2 16-9 6-6 4-6 14-27 12-18 6-5 8 1 10 4 14 13 4 6 22 43 8 13 10 7 16 7 4 1 12 0 10-3 6-3 2-2 7-3 16-12 20-26M353 1115l8-7 8-4 4-1 6 1 8 4 8 7M415 1134l4 5M82 1170l6 0 10-3 18-9 10-7 6-7 14-27 14-21 6-5 6 0 4 2 2 0 8 4 8 7 8 11 26 50 8 9 20 10 8 2 14-1 19-9 12-8 10-10 10-14 10-12M355 1118l4-4 12-6 6 0 10 5 6 5M409 1132l10 11M423 1148l2 3 14 13 16 6M80 1177l8 0 10-3 18-9 10-7 6-7 14-27 14-21 6-5 6 0 4 2 2 0 8 4 8 7 8 11 26 50 8 9 20 10 8 2 14-1 19-9 12-8 10-10 18-24 14-13M357 1123l2-2 12-6 6 0 10 5 4 3M397 1128l10 8 18 22 12 12 14 6 8 1M80 1186l8-1 16-5 20-12 6-6 4-6 14-27 12-18 4-4 2-1 4 0 14 5 14 13 4 6 22 43 8 13 2 2 14 8M288 1196l4-3 7-3 14-10 24-31 10-10 14-11 8-4 4-1 6 1 8 4 16 13 10 10 16 20 8 7 10 5 12 3M80 1194l6 0 14-4 12-6 12-8 6-6 4-6 14-27 10-15 6-7 4-1 2 1 4 0 14 7 8 8 8 12 8 17 14 26 8 11M303 1195l8-5 6-6 14-19 14-16 18-14 6-3 10 0 6 3 18 14 8 8 10 13 14 15 14 7 10 2M104 1195l16-9 10-9 4-6 14-27 10-15 4-5 4-3 8 1 14 7 8 8 8 12 8 17 16 29M313 1195l8-9 18-24 12-11 12-9 6-3 10 0 6 3 8 6 4 4 6 4 8 8 10 13 14 15 6 3M112 1195l12-7 6-6 4-6 14-27 12-18 4-4 2-1 4 0 14 5 14 13 4 6 24 46M317 1195l20-26 10-10 14-11 8-4 6-1 4 1 8 4 16 13 10 10 16 20 6 5M120 1144l6-3 2-2 26-16 2 0 4-2 10 0 10 5 2 0 10 4 32 0 2 1 14 0 12 6 10 8 12 7 2 0 10 4 6 0 9-2 16-8 2-2 22-10 2-2 6-3M359 1125l4-2 8-2 6 0 14 4M397 1128l6 3 2 2 10 5 4 1M108 1155l22-10 14-10 14-7 4-1 10 1 14 7 4 1 10 0 2 1 36 0 4 1 8 4 16 12 18 8 11 0 4-1 62-31 2 0 4-2 14 0 4 2 2 0 32 16M80 1172l12-3 4-2 14-4 6-3 2 0 8-4 24-16 10-4 10 0 10 5 2 0 10 4 32 0 2 1 14 0 12 6 16 12 6 3 2 0 10 4 6 0 9-2 16-8 2-2 22-10 2-2 14-7 14-4 6 0 14 4 24 13 2 0 40 18M80 1180l14-3 4-2 14-4 20-10 14-10 10-5 4-1 10 0 4 1 14 7 4 0 2 1 42 0 2 1 4 0 12 7 10 8 16 8 8 2 9-1 4-2 2 0 8-4 2-2 46-23 10-3 10 0 10 3 34 17 2 0 32 15 2 0M80 1187l12-3 4-2 14-4 6-3 2 0 8-4 24-16 10-4 10 0 10 5 2 0 10 4 32 0 2 1 14 0 12 6 16 12 6 3 2 0 10 4 6 0 9-2 16-8 2-2 22-10 2-2 14-7 14-4 6 0 14 4 24 13 2 0 12 6 2 0 12 6 2 0 14 7M88 1167l18-4 4-2 8-2 6-3 2 0 8-4 2-2 22-13 2 0 4-2 12-1 2-1 22 0 16 6 6 1 6 3 8 2 20 10 4 4 12 8 10 1 2 1 8 0 9-2 48-25 2-2 16-7 14 0 4 2 2 0 10 5 2 2 12 6 4 3 2 0 12 6 2 0 10 5 4 1M80 1175l4 0 20-5 4-2 8-2 6-3 2 0 14-7 8-6 16-8 10-1 2-1 6 0 2-1 16 0 8 2 12 5 6 1 6 3 10 3 14 7 12 10 8 4 4 0 2 1 15 0 4-1 66-34 4-1 10 0 4 1 36 19 2 0 12 6 2 0 10 5 2 0 8 4 4 1M80 1184l26-6 4-2 8-2 16-7 2-2 22-13 2 0 4-2 12-1 2-1 22 0 16 6 6 1 6 3 8 2 20 10 4 4 12 8 10 1 2 1 8 0 9-2 60-32 2 0 4-2 14 0 16 7 2 2 12 6 2 2 2 0 14 7 2 0 10 5 2 0 16 7M80 1193l6-2 4 0 8-2 4-2 6-1 4-2 8-2 8-4 2 0 18-12 12-6 8-2 16-1 2-1 10 0 30 9 26 11 12 10 10 5 4 1 8 0 2 1 9-1 4-2 2 0 60-32 8-2 6 0 8 2 38 20 2 0 12 6 2 0 8 4 2 0 10 5M98 1195l20-6 6-3 2 0 8-4 18-12 12-5 12-1 2-1 22 0 10 4 12 3 6 3 8 2 20 10 4 4 10 7M305 1195l44-23 2-2 16-7 14 0 4 2 2 0 24 13 2 2 2 0 14 7 2 0 18 8M80 1182l6 0 2-1 14-2 4-2 14-4 8-4 2 0 6-4 18-18 4-3 6-2 12 1 14 4 4 0 6 2 4 0 10 3 4 0 8 2 4 2 8 2 24 12 2 0 4 2 8 2 6 0 2 1 11 0 14-3 12-5 2 0 12-6 2 0 12-7 10-8 10-5 4-1 6 1 12 6 16 12 18 9 2 0 16 8 2 0 14 6M80 1188l14-1 12-3 4-2 8-2 6-3 2 0 10-6 20-19 10-4 14 2 18 5 4 0 26 6 12 5 2 0 24 12 8 2 4 0 2 1 19 0 14-4 16-7 2 0 14-7 16-12 8-4 10 0 10 5 16 12 28 14 2 0 12 6 2 0 10 4M96 1195l6-1 4-2 14-4 8-4 2 0 6-4 18-18 4-3 6-2 12 1 14 4 4 0 6 2 4 0 10 3 4 0 8 2 4 2 8 2 24 12 2 0 4 2 8 2 6 0 2 1 11 0 14-3 12-5 2 0 12-6 2 0 12-7 10-8 10-5 4-1 6 1 12 6 16 12 18 9 2 0 16 8 2 0 8 4 2 0M122 1195l2 0 10-5 22-21 6-3 10 0 2 1 4 0 14 4 14 2 28 7 24 12 2 0 6 3M309 1195l8-2 20-9 2 0 24-17 8-3 10 1 6 3 16 12 30 15M134 1196l2-1 18-18 4-3 6-2 12 1 14 4 4 0 6 2 4 0 10 3 4 0 8 2 4 2 8 2 14 7M327 1195l16-7 16-12 10-5 6-1 4 1 12 6 16 12 14 7M128 1195l20-34 10-9 4-2 6 0 6 3 8 7 22 37M134 1196l16-27 6-5 8-4 2 0 6 2 10 8 16 27M335 1197l22-39 8-7 8-4 6 1 10 7 4 5 20 36M341 1196l18-30 12-8 6 0 6 3 8 7 16 27M134 1198l18-33 6-6 6-3 4 0 2 1 10 9 12 24 4 6M140 1198l12-23 4-4 8-5 2 0 6 3 6 5 4 6 8 17M343 1196l18-34 8-7 4-2 2 0 6 3 6 5 4 6 8 17 8 14M349 1195l10-20 12-11 6 0 4 2 8 8 12 24M142 1197l12-26 4-5 6-4 2 0 4 2 6 6 12 25M148 1195l6-14 8-8 4-1 4 2 6 6 2 3 6 15M349 1198l6-11 8-19 10-9 2 0 4 2 6 6 14 30M355 1197l6-15 4-6 4-4 4-2 4 0 4 3 6 8 6 14M150 1196l6-18 6-8 4-1 2 1 6 7 8 21M152 1200l4-11 4-6 6-4 6 5 4 7 2 6M357 1197l8-22 8-9 4 1 6 7 8 22M361 1197l4-11 4-6 4-3 4 1 4 4 4 7 2 6M154 1200l4-15 4-8 2-2 4 1 2 3 4 9 2 9M158 1195l4-7 4-3 6 8 2 6M363 1197l4-15 4-7 4-3 6 8 6 21M365 1199l2-7 6-9 4 1 4 7 2 6M80 888l10-4 2 0 12-6 4-3 4-6 14-28 4-5 4-2 6 3 4 6 20 55 6 3 12 0 12 3 2-1 4-5 14-25 10-15 8-3 10 0 10 2 20 10 4 0 2 1 14 0 9-4 8-6 8-12 10-18M353 824l14 30 4 5 2 1 4-1 4-5 6-17 6-11M415 825l8 12 8 19 6 11 2 2 18 1 2 1M80 893l10-3 16-8 4-4 14-28 4-6 4-4 4 0 6 5 2 4 20 55 2 2 4 1 8 0 4-1 6 2 8 0 4-5 14-25 10-15 4-2 12-1 14 3 18 9 10 2 8 0 13-6 8-7 14-25 8-9M351 826l16 34 4 5 4 1 2-1 4-5 6-17 10-18M411 826l10 13 16 33 2 2 20 1M80 900l6-1 6-3 2 0 12-6 6-7 14-28 4-5 4-2 6 3 4 6 20 56 2 2 4 1 8-2 18 1 4-5 12-21 12-18 4-2 14-1 6 2 4 0 20 10 4 1 12 1 7-2 8-4 8-7 18-30 8-7 8-3 4 3 4 6 6 12 6 15 6 9 2 1 4-1 4-5 6-18 10-18 4-4 4 0 6 5 10 13 16 33 4 2 12 0 2 1 4 0M80 909l12-3 16-8 6-9 12-24 4-5 4-2 6 3 4 6 20 57 2 2 6 0 8-3 10 0 4 1 4-3 12-19 4-8 10-14 4-2 18 0 8 2 20 10 6 0 2 1 8 0 5-1 10-6 6-5 16-28 6-6 10-6 4 1 6 8 14 31 6 7 2 0 6-7 8-22 8-14 4-4 4 0 8 7 10 14 12 26 4 5 20 0M80 917l4 0 8-2 14-6 4-4 4-6 10-21 4-6 4-4 2 0 4 1 4 4 2 4 20 58 2 2 4 0 10-5 14 0 4-3 18-29 10-12 4-1 14 0 14 4 12 7 10 2 12 0 11-5 6-4 4-5 14-25 6-6 10-6 4 1 6 8 14 31 4 6 2 1 4-1 4-6 8-22 8-14 4-4 4 0 2 1 10 11 6 9 10 22 6 8 20 0M80 925l14-3 14-6 6-9 14-27 4-3 4 0 4 2 8 16 14 45 4 6 4 0 12-7 12 0 2-1 24-36 4-5 4-2 16 0 2 1 4 0 4 2 2 0 12 7 12 3 10 0 5-1 8-4 8-6 18-30 12-9 6 0 2 2 12 23 6 15 4 6 2 1 4-1 4-6 2-4 4-14 6-12 6-9 4-2 6 3 10 12 4 6 10 22 4 6 4 2 18-1M80 929l8 0 10-3 6-3 2 0 6-7 12-24 4-6 6-4 6 3 2 2 6 14 14 45 4 6 4 0 10-7 4-1 10 0 2-1 24-36 6-6 4-1 14 0 8 2 18 9 8 2 14 0 15-7 4-4 6-9 10-18 6-6 10-6 4 1 6 8 6 12 8 20 4 6 2 1 4-1 4-6 6-18 8-16 6-7 4 0 8 7 8 10 6 11 6 14 6 8 20-1M80 872l2 1 8 0 4-1 4-3 6-6 8-11 8-9 12-17M140 826l2 2 6 11 14 52 2 4 2 1 2-1 6-11 4-5 4 1 10 12 2 1 2-2 2-4 16-51 8-9M226 826l4 7 8 22 6 10 16 16 10 5 12 3 8 0 5-2 14-15 18-27 4-4 6-3 2 0 4 3 4 5 4 8 6 16 12 23 4 4 2 0 2-2 6-12 8-23 10-22 2-3 4-1 8 7 12 19 14 14 8 7 10 7M80 877l2 1 10 0 4-2 10-10 4-6 8-9 14-20 4-2 4 2 8 14 14 52 2 4 2 2 2-2 8-14 4-3 2 1 6 8 6 5 2-2 2-5 16-50 8-9 4-1 4 7 8 23 6 9 16 16 12 6 8 2 10 0 7-3 14-16 6-11 8-11 8-8 2-1 4 0 6 5 4 6 8 21 8 16 6 9 2 2 2 0 2-2 6-12 8-23 8-19 2-4 4-4 6 3 2 2 18 26 18 16 10 7M80 884l6 2 10-2 10-10 14-17 10-15 4-4 4 0 4 4 8 17 10 40 4 12 2 1 2-2 10-18 4 1 6 7 6 5 2-2 2-5 14-45 4-8 4-4 4-2 2 0 4 7 8 23 6 9 16 16 12 6 8 2 10 0 7-3 12-13 10-17 8-10 4-4 6-3 2 0 8 8 18 41 6 9 2 2 2 0 2-2 4-8 10-28 6-14 4-8 2-3 2-1 4 1 6 6 12 18 14 14 10 8 8 5M80 893l6 2 4 0 4-1 6-4 22-26 8-12 4-4 4 0 4 4 6 11 14 54 2 5 2 1 2-2 8-17 4-3 2 1 8 9 4 2 2-2 2-4 16-50 6-7 4-2 2 0 6 12 8 22 20 21 4 3 8 3 16 3 4-1 5-3 12-13 12-19 6-7 4-4 6-3 2 0 4 3 4 5 18 41 6 10 2 2 2 0 8-15 8-24 6-14 4-8 2-3 2-1 4 1 6 6 10 15 8 9 8 7 18 13M80 902l10 2 8-3 20-22 12-17 6-5 6 5 6 11 14 55 2 5 2 1 2-2 8-18 2-3 2-1 4 2 8 9 4-1 18-54 4-5 4-3 4-1 2 3 10 27 4 7 16 17 4 3 12 5 10 2 6 0 5-2 4-3 10-11 16-24 10-9 4 0 4 3 4 5 4 8 6 16 10 21 4 6 2 2 2 0 2-2 4-8 10-29 6-14 4-8 2-3 2-1 2 0 6 4 14 20 8 8 18 14 6 3M80 909l4 2 10 0 4-2 22-24 10-15 2-2 4-2 2 0 6 8 6 13 12 50 2 5 2 1 2-2 6-15 4-7 4-1 10 10 4-1 16-49 4-7 4-4 4-2 2 0 6 12 6 18 4 7 16 17 4 3 12 5 10 2 6 0 5-2 6-5 8-9 12-19 8-9 8-5 4 2 4 4 4 6 6 16 10 22 6 10 2 2 2 0 2-2 6-13 8-24 8-19 4-7 2-1 4 1 6 6 12 17 6 6 18 14 6 3 2 2M80 914l6 2 8 0 4-2 4-3 16-18 12-17 4-4 4 0 4 4 6 11 14 56 2 5 2 1 4-6 6-16 2-3 2-1 4 2 6 6 4 2 2-2 2-4 14-44 4-7 4-4 4-2 2 0 2 3 10 27 4 7 16 17 12 7 12 3 8 0 7-3 14-15 14-21 6-6 6-3 2 0 4 3 4 5 18 42 6 10 2 2 2 0 2-2 6-13 8-25 6-14 4-8 2-3 2-1 2 0 6 4 12 17 10 10 10 8 14 8M80 850l10-12 12-12M148 827l14 23 4 3 10 0 10-14 10-11M238 825l4 6 8 16 10 5 20 5 4 2 11-1 34-31M421 826l8 7 30 17M80 855l30-29M140 826l4 4 4 6 14 24 4 3 8 0 2-1 4-4 4-7 20-24M230 826l10 11 8 16 4 5 12 5 24 6 2 0 7-3 6-5 8-9 8-6 10-10 6-5 8-4M349 827l4 1 12 6 8 2 10-2 14-7M409 827l6 3 12 10 24 12 2 0 6 3M80 861l24-19 14-13 4-2M126 827l6 3 10 9 16 25 4 8 2 2 12 0 10-14 22-26 6-4 4 0 6 3 12 11 4 5 8 16 4 5 10 4 14 3 8 3 8 0 5-2 16-16 6-4 12-12 12-7 10 1 16 7 10 0 4-1 16-8 6-1 10 4 10 8 12 6 2 0 10 4 10 2M80 867l14-11 10-6 12-11 6-3 4 0 6 3 12 12 16 27 2 3 4 3 8 0 4-2 10-15 6-6 10-13 6-6 4-2 6 0 2 1 16 15 4 6 8 16 10 5 14 3 4 2 8 2 4 0 9-4 16-16 18-16 4-3 8-3 12 3 10 5 10 1 4-1 18-9 10 0 8 4 6 5 12 6 24 5M80 834l6-8M146 828l12 6 8 6 2 3 8 20 2 2 4 0 14-7 4-3 10-9 14-16 4-3M238 827l4 2 2 0 24 13 14 3 8 0 5-2 4-3 10-11 4-2M337 828l8 0 2 1 8 0 2 1 14 0 4 1 10-2 4-2M451 827l8 7M80 839l10-12M126 828l2 0 26 13 12 8 10 24 2 2 2 0 4-2 2 0 12-7 6-5 22-23 4-2 10 1 20 10 2 2 10 4 4 0 8 2 6 0 5-2 12-13 6-4 18 0 2 1 8 0 10 2 28 1 8-2 22-11M441 828l8 4 10 7M80 846l12-13 6-3 6 0 6 3 10 3 8 4 2 0 12 6 2 2 20 11 4 5 8 21 2 1 4 0 14-7 4-3 6-5 22-23 10 0 32 16 10 2 6 0 2 1 4-1 5-3 12-13 6-3 4 1 14 0 2 1 8 0 2 1 18 1 2 1 12 0 12-3 28-14 4-1 12 0 4 1 4 2 2 0 12 6 4 3M80 851l8-8 10-6 4 0 12 6 2 0 12 6 2 0 4 3 16 8 2 2 12 7 4 5 6 16 4 6 6-1 10-5 18-15 14-16 4-2 4 0 8 2 26 14 14 3 8 0 5-2 16-16 2-1 14 0 2 1 8 0 2 1 8 0 2 1 8 0 2 1 22 0 4-1 34-17 4 0 2-1 8 0 10 2 16 7M158 823l6 16 6 3 14 0 6 2 6 0 2-2 10-17M156 827l6 18 4 6 4 1 4 0 2-1 18 1 6-5 12-21M84 828l4 0 2 1 14 0 4-1 2-2M150 822l12 37 2 4 4 3 6-1 8-3 4 0 2 1 6 0 2-1 10-14 14-23M268 827l10 3 14 0 7-3M80 838l12 3 14 0 6-4 8-12M146 824l16 49 2 5 4 2 4-1 6-4 4-1 12 0 2-1 12-17 8-14 10-12 4 0 2-1 10 0 2 1 4 0 4 1 18 9 8 2 14 0 13-6 6-5 4-6M363 823l4 9 6 7 2 0 4-4 4-8M80 846l8 3 4 0 2 1 14 0 6-6 12-19M142 825l8 19 12 40 4 6 2 0 12-7 4-1 10 0 2-1 24-36 6-6 4-1 14 0 8 2 18 9 8 2 14 0 15-7 4-4 8-13M361 827l4 11 4 7 4 4 2 0 2-1 4-6 6-18M429 825l4 6 6 5 8 0 4-1 8-6M158 823l4 15 2 5 2 1 2-1 6-11 4-5 4 1 6 8 6 5 2-2 6-18M258 827l10 6 16 4 6 0 5-2 8-8M361 826l4 8 6 9 2 2 2 0 2-2 6-12 2-6M156 825l6 24 2 5 2 1 4-5 6-12 2-2 4 0 10 12 4-1 8-25M250 827l8 9 10 6 10 3 12 1 5-2 8-8 8-10M357 827l8 17 6 9 2 2 2 0 2-2 4-8 8-22M152 823l10 40 2 5 2 1 4-5 4-10 4-6 4 0 10 11 4-1 10-31M238 824l8 12 16 15 12 5 10 2 6 0 5-2 14-14 10-16M351 825l8 20 8 16 6 8 2 0 4-6 14-37M437 827l10 4 8 2 4 0M80 829l6 4 8 1 10-3 8-4M148 823l2 5 12 49 2 5 2 1 2-2 8-18 2-3 2-1 4 2 6 7 4 2 2-1 14-43M234 825l4 11 4 7 16 17 12 7 12 3 8 0 5-2 4-3 10-11 12-19 8-9M345 827l4 6 6 16 14 29 4 5 2 0 4-6 20-53M419 826l8 8 12 6 20 5M80 837l2 2 6 3 10 0 4-2 2 0 14-7 6-6M144 824l6 14 12 50 2 5 2 1 2-2 8-20 2-3 4-1 8 8 4 2 2-2 18-52M230 823l8 22 8 12 16 15 12 5 10 2 6 0 5-2 4-3 12-13 12-19 10-10 2-1 4 0 4 3 6 8 12 30 8 16 4 5 2 0 4-6 12-34 8-19 4-7M409 827l4 2 14 14 16 7 12 3 4 0"/></g>
<rect x="39.80" y="419.00" width="189.80" height="173.20" fill="none" stroke="#262626" stroke-width="1.2"/>
<line x1="39.80" y1="419.00" x2="42.80" y2="419.00" stroke="#262626" stroke-width="1.2"/>
<text x="35.20" y="424.30" font-size="15" text-anchor="end">2</text>
<line x1="39.80" y1="462.30" x2="42.80" y2="462.30" stroke="#262626" stroke-width="1.2"/>
<path d="M28.45,459.50 L31.65,457.00 L31.65,467.60" fill="none" stroke="#111" stroke-width="1.45" stroke-linejoin="miter"/>
<line x1="39.80" y1="505.60" x2="42.80" y2="505.60" stroke="#262626" stroke-width="1.2"/>
<text x="35.20" y="510.90" font-size="15" text-anchor="end">0</text>
<line x1="39.80" y1="548.90" x2="42.80" y2="548.90" stroke="#262626" stroke-width="1.2"/>
<path d="M28.45,546.10 L31.65,543.60 L31.65,554.20" fill="none" stroke="#111" stroke-width="1.45" stroke-linejoin="miter"/>
<text x="26.86" y="554.20" font-size="15" text-anchor="end">−</text>
<line x1="39.80" y1="592.20" x2="42.80" y2="592.20" stroke="#262626" stroke-width="1.2"/>
<text x="35.20" y="597.50" font-size="15" text-anchor="end">−2</text>
<text x="39.80" y="608.60" font-size="15" text-anchor="middle">Y</text>
<line x1="35.20" y1="596.30" x2="44.40" y2="596.30" stroke="#222" stroke-width="0.9"/>
<text x="82.69" y="608.60" font-size="15" text-anchor="middle">Γ</text>
<line x1="78.09" y1="596.30" x2="87.29" y2="596.30" stroke="#222" stroke-width="0.9"/>
<text x="97.12" y="608.60" font-size="15" text-anchor="middle">X</text>
<line x1="92.52" y1="596.30" x2="101.72" y2="596.30" stroke="#222" stroke-width="0.9"/>
<text x="137.36" y="608.60" font-size="15" text-anchor="middle">K</text>
<line x1="132.76" y1="596.30" x2="141.96" y2="596.30" stroke="#222" stroke-width="0.9"/>
<text x="144.57" y="608.60" font-size="15" text-anchor="middle">M</text>
<line x1="139.97" y1="596.30" x2="149.17" y2="596.30" stroke="#222" stroke-width="0.9"/>
<text x="187.08" y="608.60" font-size="15" text-anchor="middle">Γ</text>
<line x1="182.48" y1="596.30" x2="191.68" y2="596.30" stroke="#222" stroke-width="0.9"/>
<text x="229.60" y="608.60" font-size="15" text-anchor="middle">Y</text>
<line x1="225.00" y1="596.30" x2="234.20" y2="596.30" stroke="#222" stroke-width="0.9"/>
<text x="106.70" y="497.00" font-size="15" stroke="#111" stroke-width="0.3">N=7</text>
<text x="11.90" y="420.00" font-size="18.5" font-weight="bold">g</text>
<clipPath id="cliph"><rect x="262.60" y="419.60" width="189.80" height="172.90"/></clipPath>
<line x1="305.49" y1="419.60" x2="305.49" y2="592.50" stroke="#d9d9d9" stroke-width="1.7"/>
<line x1="319.92" y1="419.60" x2="319.92" y2="592.50" stroke="#d9d9d9" stroke-width="1.7"/>
<line x1="360.16" y1="419.60" x2="360.16" y2="592.50" stroke="#d9d9d9" stroke-width="1.7"/>
<line x1="367.37" y1="419.60" x2="367.37" y2="592.50" stroke="#d9d9d9" stroke-width="1.7"/>
<line x1="409.88" y1="419.60" x2="409.88" y2="592.50" stroke="#d9d9d9" stroke-width="1.7"/>
<line x1="262.60" y1="506.05" x2="452.40" y2="506.05" stroke="#b0b0b0" stroke-width="0.9" stroke-dasharray="1.1,1.9"/>
<g clip-path="url(#cliph)"><path transform="scale(0.5)" fill="none" stroke="#ff0000" stroke-width="1.5" stroke-linejoin="round" d="M525 1097l18-10 14-12 12-13 12-15 10-19 4-5 15-3 6 0 6 3 10 0 2 1 4 0 4 2 2 0 14 8 6 7 8 21 8 15 6 9 4 4 6 4 8 4 14 4 18 0 6-3 10-8 8-8 28-43 8-10 6-3 2-2 10-4 10 0 4 1 4 2 3 0 10 6 10 12 12 21 6 8 20 18 12 8M525 1102l12-6 10-7 28-29 16-24 4-4 5-2 4 0 8-2 14 0 6-2 4 0 8 2 16 10 4 5 8 21 12 22 6 6 8 6 18 8 22 0 6-4 10-9 8-9 24-35 8-10 2-2 12-6 2 0 4-2 10 0 8 2 7 2 6 4 10 11 16 25 18 17 16 12M525 1109l2 0 6-3 16-11 20-20 26-31 15-2 4-2 2 0 18-10 6 0 16 9 8 8 6 16 8 16 10 15 12 10 16 9 22 0 22-21 14-17 14-19 8-8 8-4 12-3 6 0 8 2 5 0 4 2 2 0 6 4 10 11 12 17 12 12 24 21M525 1119l12-6 12-9 10-9 30-31 4-3 5-2 10-1 6-2 8-9 14-13 4 0 10 5 10 8 4 5 8 20 14 24 12 12 16 12 4 2 18 0 4-2 10-12 8-7 16-17 8-10 12-12 4-2 20-4 4 1 17 1 8 4 12 11 18 20 2 1 26 25M525 1129l10-5 14-10 34-32 10-5 19-3 6-8 14-23 6-5 2 0 6 3 8 6 8 8 14 29 12 19 24 24 4 3 4 1 16 0 2-1 6-6 10-13 22-19 12-12 10-6 6 0 2-1 35 0 12 6 26 23 26 27M525 1139l14-8 8-6 34-31 19-2 12-3 4-5 6-15 10-20 4-5 4-2 10 6 12 12 6 11 4 10 16 26 18 21 10 10 2 1 18 0 2-1 4-4 10-14 8-8 14-9 12-10 10-5 32 0 2-1 13 0 4 1 10 5 12 8 26 25 10 12M525 1147l24-16 30-27 2-1 4 0 6 2 9 0 12-3 2-2 10-28 8-18 2-4 4-4 4 0 2 1 14 12 6 8 8 17 14 24 26 33 6 5 18 0 2-1 6-7 6-10 8-9 32-19 4-1 34 1 9-2 8 0 4 1 4 2 2 0 16 8 20 19 14 18M531 1148l18-12 22-20M577 1111l4-2 2 0 8 4M595 1114l17-3 4-8 8-26 8-20 6-9 4 0 6 4 12 12 6 9 8 17 14 23 24 32 4 4 4 2 14 0 4-2 4-4 10-16 8-8 6-3 2 0 18-10 2 0 4-2 10 0 8 2 16 0 13-3 8 0 22 7 10 8 12 12 14 19M525 1109l4-2 2 0 14-7 6-4 18-17 4-6 8-9 8-4 2-2 4-2 3 0 6-2 8 0 12-7 6 0 2-1 12 0 2 1 6 0 10 2 4 5 6 13 4 4 8 1 12 8 6 6 2 1 4 0 14 15 6 5 4 2 6 0 10-6 6-5 10-12 28-29 8-4 10 0 2 1 27-1 12 7 26 27 28 22M525 1111l2 0 14-6 16-11 12-12 8-11 8-6 10-5 19-2 6-5 4-2 10-2 10 0 2 1 6 0 10 2 4 5 6 12 4 4 2 1 4 0 4 2 14 14 4 3 4 0 18 16 6 3 6 0 14-9 36-39 4-3 10-4 4 0 2 1 20 0 2-1 9 0 8 4 4 3 20 21 16 13 18 13M525 1115l2 0 8-4 2 0 18-11 14-13 10-13 16-8 5 0 2-1 12 0 8-7 4-2 8-2 14 0 2 1 6 0 8 3 8 14 4 4 4 2 2 0 4 3 4 6 12 14 8 2 14 10 8 4 4 0 10-5 8-6 12-14 24-24 8-4 10 0 2 1 31-1 10 6 18 18 36 27M525 1120l4-1 8-4 2 0 12-7 14-11 14-17 10-5 9-2 14 1 6-4 2-3 4-3 10-4 18 0 6 2 4 0 4 4 6 10 4 4 6 3 4 4 8 15 8 10 12 3 10 5 10 3 4-1 12-7 8-7 8-10 18-18 6-5 6-3 12 0 8 2 6 0 8-2 11 0 4 1 10 7 16 16 34 24M525 1125l10-3 18-10 14-11 6-8 8-8 2 0 6-3 4 0 2-1 3 1 14 1 2-1 10-10 12-6 16 0 6 2 4 0 6 6 4 6 12 11 4 7 6 14 6 9 4 4 18 1 10 3 6-1 8-4 8-6 28-29 6-5 8-4 8 0 12 3 6 0 13-3 10 1 12 8 16 15 32 21M525 1130l10-4 2 0 18-10 8-6 16-17 10-4 11 0 6 2 6 0 4-2 8-10 4-3 10-5 16 1 10 3 20 21 12 30 6 9 4 2 10-3 20 0 8-3 6-5 4-2 8-9 22-21 10-6 10 0 10 3 10 0 11-3 8 0 10 5 20 17 6 3 8 6 18 11M525 1134l4-1 8-4 2 0 12-6 14-10 14-15 6-3 13 0 8 3 6 0 2-1 10-12 6-5 8-4 12 0 10 2 6 3 6 5 8 9 4 6 10 29 8 14 4 2 4-1 4-3 6-2 4 0 2-1 10 0 12-6 8-6 4-5 22-21 12-7 8 0 12 4 10 0 8-3 5 0 2-1 6 1 10 5 20 16 30 18M525 1136l8-2 10-5 2 0 10-6 10-7 14-15 4-2 10-1 17 5 4-1 14-17 10-6 12 0 10 2 12 7 10 12 4 8 8 27 8 15 4 2 14-8 10-2 6 0 12-6 8-6 14-15 14-12 10-5 6 0 8 2 4 2 4 0 2 1 8-1 4-2 9-2 10 2 8 5 16 13 32 18M525 1110l6 5 2 0 4 2 10 0 4-2 14-14 8-14 8-11 10-7 15-6 6 0 10 8 18-1 4 2 8 10 12 3 4 4 8 12 12 15 2 2 6 3 4 0 20-11 16 0 4 1 12 6 4 0 6-4 14-21 16-16 8-4 14-3 10 0 2 1 4 0 9 2 4 2 4 3 22 22 12 16 4 2 8 0 4-1 4-2 4-4M525 1120l10 6 4 0 2 1 8-1 14-13 14-23 6-6 12-7 13-5 4 0 2 1 4 5 4 3 18-2 2 1 10 11 14 5 10 15 10 12 8 7 6 0 18-10 20 0 10 5 8 2 6-5 12-18 16-17 8-5 12-3 16 0 2 1 4 0 5 1 8 4 16 15 10 11 8 11 6 5 10-1 8-4 2-2M525 1133l10 6 4 0 2 1 8-1 14-13 14-23 6-6 12-7 13-5 4 0 2 1 4 5 4 3 18-2 2 1 10 11 14 5 8 12 12 15 8 7 6 0 18-10 20 0 10 5 8 2 6-5 12-18 16-17 8-5 12-3 16 0 2 1 4 0 5 1 8 4 16 15 22 26 4 1 8-1 8-4 2-2M525 1146l4 3M561 1141l8-11M581 1112l6-5 17-8 4-1 4 0 2 1 8 8 4 0 8-2 6 0 2 1 10 11 4 2 4 0 6 3 8 12 12 15 6 6 2 1 6 0 18-10 20 0 10 5 8 2 6-5 12-18 8-9 12-11 6-3 4 0 6-2 16 0 2 1 9 1 12 7 22 23 4 6M901 1149l4-3M541 1162l6 0 4-2 10-10M565 1146l12-20M593 1113l9-4 10-1 10 8 18-1 4 2 6 8 4 3 10 2 4 4 8 12 14 17 6 3 6-1 4-3 14-7 16 0 4 1 12 6 4 0 4-2 12-18 8-9M800 1117l14-3 10 0 15 3M859 1134l6 6M877 1155l6 6 2 1 4 0M525 1147l6 0 4-2 2 0 18-10 8-7 8-10M575 1112l10-15 8-10 7-7 4-2 4 0 2 1 4-1 8-6 4-1 12 4 12-1 2 1 2 3 16 41 4 8 2 2 6 3 14 2 20 10 12 3 12 0 12-7 24-23 18-25 6-6 10-5 14 0 8 2 7 3 6 6 16 23 12 12 20 15 10 5 2 0M547 1144l10-6 12-13M577 1114l10-15 8-10 9-8 8 0 12-6 6 1 6 3 12 0 2-1 2 1 2 3 16 42 6 10 4 2 14 2 4 2 2 0 18 9 12 3 8 0 8-3 8-6 12-12 2-1 6-6 8-10 10-15 8-9 8-5 8-2 4 0 8 2 11 5 8 9 16 23 14 13 12 9 6 3M561 1141l8-9M583 1112l17-23 6-4 4 0 12-4 4 0 10 5 12 0 2-1 2 1 2 3 16 42 6 10 4 2 14 2 4 2 2 0 18 9 14 3 6 0 12-6 20-18 8-9 16-23 8-8 4-3 10-5 4 0 4 1 13 7 10 11 16 23 16 14M543 1162l12-7 4-4M565 1145l16-22M587 1114l15-21 4-3 16-3 4 1 2 2 10 5 14-1 18 45 4 8 2 2 6 3 14 2 18 9 2 0 4 2 8 2 12 0 12-7 24-23 20-28 12-12 8-5 6 0 4 2 4 4 5 3 8 8 18 26 6 6M525 1176l4 0 8-2 8-4 2-2 12-7 12-14 33-50 2-2 8-2 8 1 4 2 6 5 6 3 14-1 18 45 4 8 2 2 6 3 14 2 18 9 14 4 12 0 12-7 24-23 10-14M798 1116l10-12 8-7 6 0 2 1 8 9 7 6 2 3M851 1129l10 15 12 12 20 15 10 5 2 0M525 1185l10-2 22-12 12-13 20-29 11-20 6-9 6-2 4 0 4 2 2 0 10 9 6 3 8 0 2-1 4 1 2 3 14 37 4 9 4 6 4 2 4 0 6 2 8 1 20 10 8 2 12 1 12-6 4-3 20-19 20-28M800 1121l10-13 8-7 2 0 4 2 8 11 3 2 4 5M845 1129l12 18 10 12 18 15 6 4 14 7M525 1192l10-2 14-7 2-2 6-3 8-8 26-38 13-25 6-5 6 0 4 2 4 3 4 5 6 5 4 2 8 0 2-1 4 1 2 3 14 37 4 9 4 6 10 3 4 0 8 2 20 10 14 3 8-1 10-5 6-5 22-22 34-49 4-4 4-1 4 2 8 12 9 11 16 24 8 10 20 17 6 4 14 7M529 1196l10-3 14-8 14-13 22-32 15-30 2-3 6-3 2 0 6 3 12 13 6 3 14 0 2 3 16 42 4 8 2 2 4 2 16 3 18 9 2 0 4 2 8 1M740 1195l2 0 10-6 24-23 22-31 16-25 4-3 2 0 4 3 8 13 3 3 28 40 20 18 12 8 6 3 2 0M549 1144l18-13M581 1113l6-9 19-18 8-2 16-8 8 0 6 3 6 6 6 8 12 26 8 14 4 6 4 4 12 5 12 3 4 0 2 1 22 0 4-1 10-5 6-5 20-19 20-25 6-5 6-2 18 0 2 1 4 0 7 3 8 8 14 18 6 6 16 13 14 9M559 1142l14-13M585 1112l4-6 17-17 4-2 4 0 12-6 4-1 10 1 2 1 10 10 4 6 14 29 12 19 10 5 18 5 28 0 8-3 18-15 16-16 12-16 10-10 12-4 8 0 8 2 9 4 6 6 14 18 12 12 14 11M565 1144l10-11 8-12M589 1113l15-18 6-4 8-1 8-3 10 0 4 1 6 4 6 7 6 9 8 18 8 15 6 9 4 4 8 4 14 4 4 0 2 1 26 0 8-3 8-6 12-12 2-1 10-10 22-27 12-7 10-1 15 7 8 8 14 18 14 13M527 1172l12-3 8-4 18-12 14-17 12-18 7-8 8-12 4-3 24 0 10 4 6 6 6 8 14 29 10 17 6 5 2 0 6 3 14 4 6 0 2 1 20 0 4-1 8-4 10-8 14-14 2-1 10-12M798 1115l2-3 6-5 12-7 2 0 6 3 6 5 3 1 6 6M855 1132l10 12M525 1181l8-1 4-2 2 0 8-4 18-12 14-17 16-24 3-3 8-14 4-4 6 0 6 2 4 0 12 3 6 3 6 6 6 8 14 29 10 17 6 5 2 0 8 4 12 3 6 0 2 1 20 0 4-1 8-4 10-8 18-17 16-20M800 1121l14-14 4-2 2 0 4 2 15 14M845 1128l12 16 10 11 22 17 16 9M525 1189l4 0 8-2 14-7 12-8 12-13 23-34 6-13 4-6 4-2 4 1 10 5 12 3 8 5 12 16 10 22 12 20 4 4 14 6 14 3 26 0 8-3 8-6 24-23 34-43 2-2 4-2 2 0 4 2 8 10 5 4 22 29 10 10 18 14 18 10M531 1195l6-1 14-7 12-8 8-8 27-40 4-10 6-11 2-2 4 0 12 8 4 2 8 2 6 3 4 4 10 14 8 18 10 18 4 6 4 4 14 6 14 3M738 1196l6-2 10-7 24-23 28-36 8-12 4-3 2 0 4 3 35 46 10 10 18 14 18 10M543 1196l22-14 8-9 18-27 7-12 8-18 4-5 4 0 4 2 8 7 6 3 10 3 8 8 6 8 14 29 8 14 4 5 12 6M748 1196l12-10 20-20 20-26 14-21 4-3 2 0 4 3 8 12 31 40 26 21 8 4M539 1164l4-1 16-8 14-10 8-12 10-20 4-6 3-3 8-12 6-5 6 0 4 2 2 0 12 7 4 4 8 11 20 39 10 16 6 5 18 9 4 1 12 1 8-2 16-8 12-8 10-10 16-22 6-7 2-1M798 1115l6-5 12-6 6 0 10 5 9 6M861 1134l6 8M529 1170l16-4 12-6 16-11 10-16 12-23 5-5 8-12 6-3 8 2 12 6 8 8 10 16 8 17 12 22 6 9 8 6 14 7 8 2 8 1 12-3 12-6 12-8 10-9 22-29M800 1117l8-6 8-3 10 1 13 8M855 1131l10 12M871 1150l10 11 14 7 4 1M525 1176l10-1 10-4 2 0 22-13 6-6 4-6 16-30 3-3 8-12 6-5 8 1 10 4 14 13 6 10 22 43 8 11 18 10 10 3 12 0 10-3 22-13 8-7 22-29 8-8M802 1121l12-7 10 0 11 6 2 2M847 1130l10 9 16 20 6 6 4 3 10 5 12 3M525 1183l10-1 10-4 2 0 8-4 2-2 12-7 6-6 4-6 14-27 11-15 6-7 2-1 4 0 4 1 14 7 8 8 8 12 22 43 6 9 8 6 12 6 2 0M728 1196l18-10 10-7 10-11 18-24 18-16 12-7 10 0 11 6 14 11 8 8 16 20 6 6 4 3 10 5 12 3M525 1190l8 0 10-3 18-9 10-7 10-14 10-20 15-21 6-5 6 0 14 6 8 7 8 11 12 24 16 29 6 6 4 2M742 1196l12-8 10-10 18-24 10-10 12-10 12-6 6 0 10 5 9 6 12 10 18 22 14 13 12 5 8 1M537 1196l4-2 2 0 18-9 10-7 6-7 14-27 15-21 6-5 6 0 14 6 6 5 6 7 4 6 26 50 4 5M752 1196l2-1 10-10 18-24 10-10 14-11 10-5 6 0 10 5 9 6 18 17 12 15 12 12 14 6M551 1196l8-4 14-10 10-16 12-23 3-2 10-15 4-2 6 0 4 1 10 5 10 9 6 9 12 24 14 25M758 1197l30-37 16-13 6-4 6-2 6 0 13 6 10 9 6 4 10 11 10 13 10 10 4 2M557 1196l12-7 6-6 20-36 13-17 2-2 4-1 2 1 4 0 14 7 8 8 8 12 8 17 14 26M762 1197l22-29 12-11 12-9 6-3 10 0 15 9 4 4 6 4 8 8 16 20 6 6M565 1145l14-8 6-5 10-6 11-4 10 0 10 5 2 0 10 4 34 0 2 1 12 0 12 6 10 8 12 7 2 0 10 4 6 0 8-2 16-8 2-2 22-10 2-2 8-4M804 1126l4-2 8-2 6 0 15 4M843 1129l8 4 2 2 8 4 4 1M551 1156l10-3 12-6 16-11 15-7 4-1 10 1 14 7 4 1 10 0 2 1 36 0 4 1 8 4 16 12 10 5 10 3 8 0 4-1 22-11 6-4 2 0 34-17 4-1 14 0 4 2 5 1 30 15M525 1173l8-2 4-2 6-1 4-2 8-2 6-3 2 0 8-4 22-15 13-5 10 0 8 4 2 0 8 4 4 1 36 0 2 1 10 0 12 6 16 12 6 3 2 0 10 4 6 0 8-2 14-7 2-2 16-8 2 0 6-4 16-8 14-4 6 0 15 4 22 12 2 0 12 6 2 0 28 13M525 1181l14-3 4-2 8-2 6-3 2 0 16-8 8-6 12-7 7-3 10-2 8 2 14 7 4 0 2 1 44 0 4 1 12 7 10 8 14 7 2 0 4 2 12 0 6-3 2 0 6-3 2-2 48-24 8-2 10 0 11 3 34 17 2 0 30 14 4 1M525 1188l8-2 4-2 6-1 20-8 2 0 6-3 22-15 13-5 10 0 8 4 2 0 8 4 4 1 36 0 2 1 10 0 4 2 2 0 22 16 6 3 2 0 10 4 6 0 8-2 14-7 2-2 18-9 2 0 4-3 16-8 14-4 6 0 15 4 16 8 6 4 2 0 12 6 2 0 12 6 2 0 16 8M531 1169l20-5 4-2 8-2 6-3 2 0 8-4 16-11 9-4 2 0 4-2 12-1 2-1 22 0 10 3 6 3 12 3 20 9 2 0 18 14 4 2 4 0 8 2 8 0 8-2 46-24 2-2 12-6 2 0 4-2 14 0 4 2 5 1 8 4 2 2 28 14 2 0 16 7M525 1176l20-4 4-2 6-1 12-5 2 0 14-7 8-6 17-8 10-2 8 0 2-1 16 0 32 10 24 11 12 10 6 3 10 2 12 0 4-1 66-34 4-1 10 0 11 4 30 16 2 0 10 5 2 0 10 5 2 0 10 5 4 1M525 1185l22-5 4-2 6-1 6-3 8-2 8-4 16-11 11-5 10-2 20-1 2-1 12 2 12 5 6 1 12 5 2 0 10 5 4 1 18 14 4 2 4 0 8 2 8 0 8-2 60-32 2 0 4-2 14 0 4 2 5 1 8 4 2 2 28 14 2 0 10 5 2 0 18 8M525 1193l14-2 4-2 10-2 12-5 2 0 18-9 8-6 15-7 20-2 2-1 12 0 2 1 4 0 12 5 12 3 6 3 10 3 12 6 12 10 8 4 4 0 2 1 16 0 14-6 2-2 50-26 8-2 6 0 13 4 34 18 2 0 22 10 2 0 8 4 2 0M543 1196l8-3 6-1 12-5 2 0 8-4 16-11 11-5 10-2 20-1 2-1 12 2 4 2 20 6 18 8 2 0 8 5 12 10M750 1196l56-30 12-3 8 1 4 2 5 1 8 4 2 2 28 14 2 0 20 9M525 1183l6 0 2-1 10-1 4-2 6-1 12-5 2 0 14-7 19-18 4-3 6-2 12 1 24 6 4 0 6 2 4 0 12 3 4 2 6 1 26 13 2 0 4 2 14 2 2 1 10 0 14-3 14-6 2 0 10-5 2 0 12-7 10-8 10-5 4-1 6 1 13 6 16 12 16 8 2 0 16 8 2 0 16 7M525 1189l14-1 12-3 4-2 8-2 8-4 2 0 8-5 14-14 7-5 8-4 16 2 14 4 4 0 10 3 4 0 20 5 6 3 2 0 24 12 2 0 4 2 4 0 8 2 14 0 10-2 12-5 2 0 10-5 2 0 12-6 16-12 8-4 10 0 11 5 16 12 26 13 2 0 12 6 2 0 8 4 4 1M543 1195l16-4 20-9 21-19 4-3 6-2 8 0 28 7 4 0 26 6 4 2 2 0 26 13 2 0 4 2 14 2 2 1 10 0 14-3 14-6 2 0 10-5 2 0 12-7 10-8 10-5 4-1 6 1 13 6 16 12 14 7 2 0 18 9 2 0 8 4 2 0M569 1195l2 0 8-4 23-21 6-3 12 0 18 5 14 2 28 7 32 15M756 1196l16-7 2 0 18-9 16-12 8-3 10 1 13 7 10 8 30 15M581 1195l2-1 12-12 9-7 6-2 8 0 6 2 4 0 14 4 4 0 10 3 4 0 16 4 4 2 2 0 16 8M772 1196l16-7 16-12 10-5 4-1 6 1 13 6 16 12 12 6M573 1196l22-37 3-1 4-4 10-4 10 5 6 6 22 37M579 1196l14-24 11-9 4-2 6 0 6 3 8 7 16 27M780 1197l22-38 6-6 8-5 6 0 6 3 9 7 22 38M786 1197l16-28 8-7 8-4 6 1 8 6 3 1 4 5 14 25M579 1198l8-13 8-16 5-6 6-5 6-2 6 3 8 8 16 30M585 1199l10-20 9-9 6-3 4 0 2 1 8 7 4 6 8 16M788 1196l8-14 6-13 4-6 6-6 6-3 4 0 6 4 7 7 18 34M794 1196l12-23 8-7 4-2 2 0 6 3 9 8 12 23M587 1197l4-7 4-10 7-11 4-4 4-2 4 0 6 5 4 6 10 22M593 1196l7-14 4-5 4-3 4-1 4 2 6 6 8 17M794 1199l14-30 6-7 4-2 2 0 4 2 6 6 5 8 4 10 6 11M800 1198l8-19 10-9 2 0 4 2 6 6 5 8 4 10M595 1196l7-17 4-6 6-4 2 1 6 7 8 22M598 1201l4-12 6-8 2-1 4 1 4 4 4 7 2 6M802 1198l8-22 4-6 4-3 4 1 6 7 9 21M806 1197l4-11 8-9 4 1 6 7 4 10M600 1201l4-16 6-9 4 1 4 6 4 14M604 1196l4-8 2-2 2 0 2 1 2 3 4 9M808 1198l4-16 4-7 2-2 2 0 4 4 2 4 6 21M810 1200l4-11 2-3 4-3 6 8 2 6M525 889l8-2 18-9 4-4 14-28 6-9 2-1 4 0 4 2 4 7 9 21 8 24 4 9 2 2 6 2 12 0 6 2 4 0 4-3 6-9 12-22 6-9 4-4 2-1 16 0 2 1 4 0 4 2 2 0 8 4 2 2 8 3 4 0 2 1 10 0 4-2 2 0 10-7 4-4 18-31M798 826l12 26 4 6 4 4 2 0 6-6 6-17 7-12M861 827l6 8 6 12 6 15 4 6 2 2 4 1 16 1M525 893l8-2 18-9 6-7 10-21 6-10 4-4 4 0 6 5 2 4 9 21 8 25 4 9 4 3 16 0 10 2 4-3 10-16 8-15 6-9 4-4 4-1 14 0 14 4 2 2 10 5 4 1 4 0 2 1 10 0 4-1 10-6 6-6 16-28 6-6M796 827l8 15 6 15 4 6 4 3 4-1 4-5 6-17 9-15M859 829l10 14 12 27 6 5 18 1M525 899l6-1 6-3 2 0 12-6 6-7 12-25 4-6 4-4 4 0 6 5 2 4 9 21 12 35 2 2 12 0 2-1 4 0 10 2 4-3 14-24 12-18 4-2 12-1 14 3 18 9 10 1 2 1 8-1 10-5 8-7 16-28 6-6 10-6 2 0 4 3 10 18 6 15 4 6 4 4 2 0 2-1 4-6 6-17 11-18 4-4M851 828l8 7 8 11 16 33 4 2 18 1M525 907l16-5 10-5 6-7 14-28 4-5 4-2 6 3 4 7 9 21 12 35 2 2 8 0 4-2 12 0 4 1 4-3 16-27 10-14 8-3 10 0 10 2 20 10 4 0 2 1 14 0 10-5 8-7 18-30 12-9 6 0 2 2 12 23 6 14 6 7 4-1 4-6 6-17 13-21 4-2 6 3 12 15 16 33 4 2 18 0M525 914l8-1 16-7 2 0 6-7 14-28 4-5 4-2 6 3 4 7 9 21 8 26 4 10 2 2 4 0 10-4 14 0 6-5 14-24 10-14 4-2 18 0 8 2 20 10 6 0 2 1 8 0 4-1 12-7 4-4 18-30 12-9 6 0 2 2 12 23 4 11 6 9 2 1 4-1 4-5 6-18 13-21 4-2 6 3 12 15 16 32 4 2 18 0M525 922l14-3 8-4 4-1 6-7 12-24 4-6 4-4 4 0 6 5 2 4 9 22 8 26 4 10 2 2 4 0 12-6 14 0 28-42 4-2 8 0 2-1 2 1 6 0 8 2 18 9 10 2 8 0 4-1 12-7 4-4 16-27 8-8 8-4 4 1 6 8 14 31 4 6 2 1 4-1 4-5 6-18 11-19 4-4 4 0 8 7 8 10 16 32 2 1 20 0M525 928l12-2 16-7 4-5 12-24 4-6 4-4 4 0 6 5 2 4 9 22 12 37 2 2 2 0 12-7 4-1 10 0 2-1 4-4 18-29 8-9 4-1 14 0 8 2 18 9 8 2 14 0 12-6 6-5 16-27 8-8 8-4 4 1 6 8 6 12 6 16 4 7 4 4 2 0 6-7 6-18 11-19 4-4 4 0 10 9 6 8 6 11 6 14 6 8 14 0 2-1 4 0M525 932l2-1 10-1 12-5 2 0 6-7 16-30 6-4 6 3 2 2 11 26 12 38 2 2 2 0 12-8 4-1 10 0 2-1 22-33 8-9 4 0 2-1 10 0 2 1 4 0 4 1 20 10 4 0 2 1 14 0 4-2 2 0 2-2 6-3 4-4 16-27 6-6 8-5 6 0 2 2 12 23 6 15 6 8 2 0 6-7 6-19 13-21 4-2 2 0 4 3 12 14 14 29 4 4 14 0 2-1 4 0M525 874l6 1 2-1 4 0 4-2 10-10 4-6 8-9 14-20M585 827l4 6 6 13 3 8 10 38 2 5 2 1 12-17 4 1 10 12 4-1 18-55 2-4 6-5M672 827l6 12 6 18 4 7 12 13 8 7 10 4 16 3 4-1 4-3 14-16 12-20 10-10 4-2 4 2 4 4 4 6 6 16 10 21 6 9 2 2 2 0 6-10 6-16 15-34 2-3 4-1 6 5 16 24 16 15 10 8 4 2M525 878l4 0 2 1 2-1 4 0 6-3 22-26 10-15 6-5 6 5 4 7 7 17 8 32 4 12 2 1 2-2 6-11 4-5 4 1 4 4 4 6 4 2 2-1 2-5 6-21 10-29 2-4 4-4 4-2 2 0 2 2 10 27 4 7 16 17 4 3 12 5 10 2 6 0 4-2 14-15 10-17 8-10 8-7 4 0 4 3 4 5 4 8 6 16 10 20 6 8 4-3 6-12 15-37 4-8 2-3 2-1 4 1 6 6 10 16 12 13 14 12 8 5M525 884l10 1 4-1 4-3 6-6 18-22 6-10 8-7 6 5 6 11 5 13 10 40 2 4 2 2 2-2 6-12 2-3 4-3 6 5 4 6 4 2 4-6 6-21 10-29 4-6 4-3 4-1 4 7 8 23 6 9 16 16 12 6 8 2 10 0 4-2 4-3 12-14 8-14 6-8 8-8 2-1 4 0 4 3 6 8 14 34 8 13 2 2 2 0 6-10 19-47 4-6 2-1 2 0 4 2 16 23 14 14 14 11 4 2M525 891l2 1 10 0 6-3 8-8 14-17 10-15 4-4 4 0 6 8 6 13 3 8 10 40 2 5 2 1 4-5 6-13 4-3 4 2 6 8 4 2 2-2 2-4 16-50 6-7 4-2 2 0 4 7 8 22 6 10 16 16 16 7 14 1 8-5 10-11 14-22 8-9 6-3 4 2 4 4 4 6 6 16 12 25 4 6 2 2 2 0 4-6 4-9 4-12 13-30 4-7 2-1 4 1 6 6 12 18 12 12 20 15M525 899l2 1 12 0 6-4 20-23 10-15 4-4 4 0 6 8 6 13 3 8 10 41 2 5 2 1 2-2 8-17 2-3 2-1 4 2 8 9 2 1 2-2 18-54 6-7 4-2 2 0 6 12 6 18 4 7 14 15 8 6 8 3 14 3 6-1 14-13 4-5 10-17 8-9 2-2 6-3 4 2 4 4 4 6 6 16 12 25 4 7 4 1 2-2 4-8 19-47 4-7 2-1 4 1 6 6 10 15 8 9 20 16 6 3M525 906l4 2 8 0 4-1 4-3 20-23 8-12 8-7 4 2 8 14 5 14 10 41 2 5 2 1 2-2 6-14 4-7 4-1 10 10 2 1 2-2 18-53 6-7 4-2 2 0 6 12 8 22 20 21 12 6 8 2 6 0 2 1 4-1 16-15 14-22 10-10 2-1 4 0 4 3 6 8 12 30 6 12 6 9 4-3 4-8 6-17 13-31 2-4 4-4 6 3 2 2 14 20 4 4 8 7 20 14M525 912l4 2 10 0 4-2 10-10 12-14 12-17 4-2 4 2 8 14 5 14 10 41 2 6 2 1 12-25 2-1 4 2 8 8 4-1 18-53 6-7 4-2 2 0 2 3 10 27 4 7 16 17 12 7 12 3 8 0 4-2 4-3 12-13 12-19 10-10 2-1 4 0 6 5 4 6 8 21 12 25 4 5 2 0 6-11 6-17 13-31 2-4 4-4 6 3 4 4 8 12 12 13 10 8 14 9M525 916l4 2 10 0 4-2 6-5 14-16 12-17 4-4 4 0 6 8 9 21 8 35 4 12 2 2 4-7 6-15 4-5 4 2 6 6 4 2 2-1 18-53 2-3 6-5 4 0 2 2 10 27 6 10 16 16 10 5 12 3 8 0 6-3 12-12 12-19 6-7 4-4 6-3 4 2 4 4 4 6 6 16 12 26 4 7 2 2 2 0 6-11 17-44 4-8 2-3 2-1 4 1 8 8 12 17 16 13 12 7 2 2M525 851l14-16 8-7M593 829l5 6 8 14 4 5 2 1 8 0 6-5 4-7 14-16M684 827l2 2 6 13 6 8 12 5 24 6 2 0 10-6 14-14 14-12M867 828l12 9 26 14M525 856l14-14 16-14M585 827l13 18 12 19 12 0 10-14 18-21M676 828l8 8 12 22 12 6 14 3 8 3 8 0 2-1 18-17 8-6 10-10 8-6 4-1 8 0 18 8 10 0 11-4 10-5M855 829l2 0 6 4 14 11 28 12M525 862l12-10 14-10 10-10 4-3 2 0M571 829l4 1 12 11 8 12 3 3 10 17 4 3 8 0 4-2 8-12 18-22 6-6 4-2 8 1 16 15 4 6 8 16 10 5 14 3 4 2 8 2 4 0 8-4 16-16 10-8 8-8 4-3 8-3 12 3 10 5 10 1 4-1 17-8 10-1 10 5 14 10 2 0 12 5 14 3M525 868l10-8 16-10 8-8 8-5 8 2 12 11 23 35 12 0 10-14 12-13 4-6 8-8 6-3 2 0 6 3 10 9 6 7 8 16 4 5 10 4 14 3 8 3 8 0 4-2 16-16 6-4 12-12 12-7 10 1 10 5 12 3 8-2 19-9 6 0 12 6 12 8 10 3 4 0 6 2 6 0 2 1M525 835l6-8M589 828l9 4 2 2 12 7 8 20 4 6 6-1 14-8 16-14 8-10 6-5M682 828l4 1 26 14 2 0 4 2 4 0 8 2 6 0 4-2 16-16 2-1M778 829l16 1 2 1 8 0 2 1 18 0 13-4M897 829l8 6M525 840l10-12M569 828l18 8 2 2 15 7 6 4 4 5 6 16 4 6 4 0 14-7 14-12 14-16 6-4 8 1 6 3 2 0 4 3 20 10 10 2 10 0 6-3 12-13 6-3 20 1 2 1 16 1 2 1 22 1 10-3 3 0 22-11M885 828l10 5 10 7M525 847l10-11 8-5 4 0 20 8 2 0 24 12 2 2 11 5 4 3 4 5 6 16 4 6 6-1 10-5 18-15 14-16 4-2 4 0 8 2 26 14 14 3 8 0 4-2 14-14 6-3 22 1 2 1 8 0 10 2 24 0 9-3 26-13 8-2 8 0 8 2 4 2 2 0 14 8M525 852l8-8 10-6 2 0 18 8 2 0 35 18 12 8 2 3 8 21 2 1 4 0 14-7 10-8 20-21 4-2 10 1 30 15 8 2 10 1 4-1 4-3 10-11 6-4 18 0 2 1 8 0 2 1 8 0 2 1 8 0 2 1 16 0 11-3 26-14 2 0 4-2 6 0 2-1 2 1 6 0 8 2 14 6M604 825l4 12 4 6 4 1 14 0 6 2 4 0 4-3 10-16M602 829l6 18 4 6 2 1 6 0 2-1 12 0 2 1 4 0 4-3 14-23M525 828l12 3 16-1 2-2M595 824l3 6 12 36 4 2 6-1 8-3 4 0 2 1 6 0 2-1 10-14 14-23M714 829l12 3 12 0 8-4M525 840l14 3 12 0 6-4 8-12M591 826l7 17 12 37 4 2 4-1 6-4 4-1 12 0 2-1 12-17 8-14 10-12 4-1 14 0 8 2 18 9 8 2 14 0 12-6 4-3 6-8M808 825l6 12 4 4 2 0 2-1 4-6 4-12M883 828l2 1 10 0M525 848l16 4 10 0 6-4 14-21M587 827l11 26 10 33 4 6 4 0 6-5 6-3 12 0 2-1 24-36 4-5 2-1 4-1 14 0 14 4 12 7 10 2 12 0 12-6 4-3 10-15M804 824l8 20 6 7 4-1 4-6 6-18M875 827l4 6 6 5 8 0 10-5 2-3M604 825l4 16 4 6 12-18 4 1 10 12 4-1 6-19M704 829l10 6 16 4 6 0 4-2 8-8M806 828l4 8 6 9 2 2 2 0 2-2 6-12 2-6M602 827l6 24 2 5 2 1 4-5 6-12 2-2 4 0 10 12 4-1 8-25M694 827l4 5 10 9 12 5 4 0 6 2 8-1 4-3 14-16M800 825l10 21 8 11 2 0 2-2 6-12 4-12 3-6M598 825l10 40 2 5 2 1 4-5 6-13 2-3 2-1 2 1 8 9 4 2 2-1 12-37M684 826l4 7 8 9 12 11 12 5 10 2 6 0 4-2 16-17 8-14M796 827l8 20 8 16 6 8 2 0 2-2 4-8 6-17 7-16M883 829l10 4 8 2 4 0M525 831l10 5 2 0 2-1 4 0 14-6M593 825l5 13 10 41 2 5 2 1 2-2 6-14 4-7 2-1 4 2 6 7 4 2 2-2 2-4 12-38M680 826l6 16 6 8 12 12 10 6 16 4 6 0 8-5 10-11 12-19 8-9M788 827l6 8 6 16 14 29 4 5 2 0 4-6 21-53M865 828l8 8 10 5 16 5 6 0M525 839l2 2 6 3 8 0 8-2 14-7 8-9M589 826l4 8 5 14 10 42 2 5 2 1 4-6 6-16 2-3 4-1 8 8 4 2 2-2 18-52M676 825l10 26 12 14 10 9 12 5 10 2 6 0 8-5 10-11 14-21 10-10 2-1 4 0 6 5 4 6 12 30 8 16 4 5 2 0 4-6 19-49 6-11M855 828l18 17 16 7 16 3"/></g>
<rect x="262.60" y="419.60" width="189.80" height="172.90" fill="none" stroke="#262626" stroke-width="1.2"/>
<line x1="262.60" y1="419.60" x2="265.60" y2="419.60" stroke="#262626" stroke-width="1.2"/>
<text x="258.00" y="424.90" font-size="15" text-anchor="end">2</text>
<line x1="262.60" y1="462.83" x2="265.60" y2="462.83" stroke="#262626" stroke-width="1.2"/>
<path d="M251.25,460.03 L254.45,457.53 L254.45,468.13" fill="none" stroke="#111" stroke-width="1.45" stroke-linejoin="miter"/>
<line x1="262.60" y1="506.05" x2="265.60" y2="506.05" stroke="#262626" stroke-width="1.2"/>
<text x="258.00" y="511.35" font-size="15" text-anchor="end">0</text>
<line x1="262.60" y1="549.27" x2="265.60" y2="549.27" stroke="#262626" stroke-width="1.2"/>
<path d="M251.25,546.47 L254.45,543.97 L254.45,554.57" fill="none" stroke="#111" stroke-width="1.45" stroke-linejoin="miter"/>
<text x="249.66" y="554.57" font-size="15" text-anchor="end">−</text>
<line x1="262.60" y1="592.50" x2="265.60" y2="592.50" stroke="#262626" stroke-width="1.2"/>
<text x="258.00" y="597.80" font-size="15" text-anchor="end">−2</text>
<text x="262.60" y="608.90" font-size="15" text-anchor="middle">Y</text>
<line x1="258.00" y1="596.60" x2="267.20" y2="596.60" stroke="#222" stroke-width="0.9"/>
<text x="305.49" y="608.90" font-size="15" text-anchor="middle">Γ</text>
<line x1="300.89" y1="596.60" x2="310.09" y2="596.60" stroke="#222" stroke-width="0.9"/>
<text x="319.92" y="608.90" font-size="15" text-anchor="middle">X</text>
<line x1="315.32" y1="596.60" x2="324.52" y2="596.60" stroke="#222" stroke-width="0.9"/>
<text x="360.16" y="608.90" font-size="15" text-anchor="middle">K</text>
<line x1="355.56" y1="596.60" x2="364.76" y2="596.60" stroke="#222" stroke-width="0.9"/>
<text x="367.37" y="608.90" font-size="15" text-anchor="middle">M</text>
<line x1="362.77" y1="596.60" x2="371.97" y2="596.60" stroke="#222" stroke-width="0.9"/>
<text x="409.88" y="608.90" font-size="15" text-anchor="middle">Γ</text>
<line x1="405.28" y1="596.60" x2="414.48" y2="596.60" stroke="#222" stroke-width="0.9"/>
<text x="452.40" y="608.90" font-size="15" text-anchor="middle">Y</text>
<line x1="447.80" y1="596.60" x2="457.00" y2="596.60" stroke="#222" stroke-width="0.9"/>
<text x="329.70" y="497.40" font-size="15" stroke="#111" stroke-width="0.3">N=8</text>
<text x="238.40" y="420.00" font-size="18.5" font-weight="bold">h</text>
<clipPath id="clipi"><rect x="485.40" y="419.60" width="188.20" height="173.00"/></clipPath>
<line x1="527.93" y1="419.60" x2="527.93" y2="592.60" stroke="#d9d9d9" stroke-width="1.7"/>
<line x1="542.24" y1="419.60" x2="542.24" y2="592.60" stroke="#d9d9d9" stroke-width="1.7"/>
<line x1="582.13" y1="419.60" x2="582.13" y2="592.60" stroke="#d9d9d9" stroke-width="1.7"/>
<line x1="589.29" y1="419.60" x2="589.29" y2="592.60" stroke="#d9d9d9" stroke-width="1.7"/>
<line x1="631.44" y1="419.60" x2="631.44" y2="592.60" stroke="#d9d9d9" stroke-width="1.7"/>
<line x1="485.40" y1="506.10" x2="673.60" y2="506.10" stroke="#b0b0b0" stroke-width="0.9" stroke-dasharray="1.1,1.9"/>
<g clip-path="url(#clipi)"><path transform="scale(0.5)" fill="none" stroke="#ff0000" stroke-width="1.5" stroke-linejoin="round" d="M971 1097l12-6 10-7 20-20 12-15 10-18 6-8 12-3 8 0 6 3 8 0 10 2 18 10 6 7 8 22 12 21 6 6 6 4 6 3 6 1 8 3 20 0 4-2 10-8 8-8 14-20 16-26 8-9 16-8 12 0 16 7 10 11 20 32 22 20 10 7M971 1101l18-10 14-12 22-25 10-17 6-7 16-4 4 1 20-1 4 1 12 6 6 4 4 4 10 25 12 21 6 6 4 2 6 5 2 0 14 6 20 0 6-4 16-15 32-46 6-6 14-7 4-1 12 1 4 2 2 0 12 7 6 7 18 28 20 19 14 11M971 1107l2 0 4-2 2-2 12-7 6-5 16-16 12-14 12-17 4-4 22-4 10-5 2 0 4-2 4 0 8 3 14 10 4 6 8 21 12 21 6 6 12 9 4 1 8 5 4 1 16 0 6-3 16-15 16-20 10-15 12-14 10-5 8-2 14 0 10 3 6 3 12 13 12 18 14 14 22 19M971 1116l8-4 18-13 42-44 8-3 6 0 8-4 14-12 6-3 4 0 8 4 8 6 6 6 14 31 10 16 16 14 16 9 16 0 6-3 30-32 14-18 8-8 4-3 14-4 18 0 2 1 4 0 4 1 8 5 6 6 14 18 36 34M971 1125l14-8 14-11 30-30 4-3 10-5 10-1 6-3 16-22 6-5 4 0 8 4 12 10 4 6 10 23 12 20 14 14 12 10 6 3 16 0 4-2 6-6 6-8 16-16 2-1 22-23 8-4 4 0 8-2 20 0 2 1 6 0 8 4 4 3 28 28 2 1 22 23M971 1134l6-3 16-11 34-32 8-3 12-3 4 0 6-2 4-5 6-13 10-17 6-5 6 2 8 6 10 10 12 26 12 20 28 29 4 2 16 0 4-2 18-22 20-16 12-11 10-4 10 0 2-1 28 0 4 1 8 4 20 16 32 33M971 1142l6-3 16-11 30-28 6-3 14 0 14-3 4-7 6-16 10-21 2-3 4-3 2 0 6 3 14 13 4 6 8 18 16 26 22 26 4 4 4 2 16 0 4-2 12-17 8-8 10-6 14-11 12-6 34 0 2-1 12 0 4 2 2 0 20 12 20 19 14 17M971 1148l8-4 14-10 30-27 4-2 4 0 4 2 6 1 2-1 10-1 4-2 2-3 8-23 10-24 4-6 2-1 2 0 10 6 12 13 10 21 16 26 22 28 8 7 16 0 4-2 12-18 6-7 4-3 32-17 10 0 2 1 18 1 12-3 8 0 8 2 16 7 18 16 12 14 6 9M979 1148l12-8 16-15 10-8M1023 1112l2-2 4 0 6 3M1039 1114l2 1 6-2 6 0 4-2 2-3 8-26 8-21 4-8 4-5 6 2 6 5 12 13 8 17 18 30 24 32 6 4 18 0 4-4 10-16 6-7 4-3 4-2 2 0 24-12 12 0 8 2 14 0 12-3 10 0 4 2 10 2 12 7 18 18 12 17M971 1109l4-1 18-9 8-6 14-14 4-6 8-9 8-4 2-2 8-3 12-1 12-7 8 0 2-1 4 0 2 1 10 0 12 3 2 2 6 13 4 5 4 2 4 0 8 4 10 9 8 3 14 15 8 6 6 0 8-4 8-6 32-36 8-7 8-3 6 0 2 1 28-1 12 7 26 27 28 22M971 1111l4-1 18-9 8-6 12-11 8-11 6-6 6-3 2-2 4-2 8-2 10 0 8-6 4-2 4 0 2-1 18 0 14 3 4 6 4 9 4 5 4 2 4 0 2 1 14 13 4 3 2 0 6 3 8 9 8 6 6 3 4 0 6-3 8-6 10-10 8-10 14-15 10-9 6-2 22 1 10-2 8 1 6 3 6 5 22 23 30 23M971 1114l10-3 8-4 14-10 10-9 8-11 6-6 12-6 20-2 6-6 4-2 8-2 16 0 14 3 2 2 4 8 6 9 10 4 16 18 10 4 12 10 10 5 6-1 12-8 38-40 4-3 6-2 8 0 10 2 10-1 2-1 10 0 10 6 24 24 30 22M971 1118l8-2 14-7 12-9 12-12 4-6 4-4 14-7 18 0 10-9 12-4 16 0 12 3 10 15 2 2 8 4 4 4 10 16 6 6 2 1 4 0 8 4 2 2 10 5 4 1 6-1 12-8 38-39 8-4 10 0 8 2 6 0 8-2 10 0 10 5 24 23 12 8 14 11 4 2M971 1123l4-1 8-4 2 0 12-7 14-11 4-4 4-6 8-8 2 0 10-4 18 1 2-1 10-10 8-4 4-1 12 0 14 3 10 13 12 10 8 16 10 14 10 1 18 6 6 0 8-4 8-6 32-33 12-7 4 0 14 3 6 0 12-3 6 0 10 5 22 20 32 22M971 1127l6-1 20-10 12-9 8-8 6-8 4-3 10-3 8 0 2 1 10 1 2-1 10-11 6-4 8-3 20 2 6 3 8 10 10 9 6 11 6 15 6 9 4 3 10 0 2-1 10 2 10 0 10-5 8-6 12-14 16-15 12-7 10 0 10 3 6 0 12-3 8 0 10 5 12 11 14 11 26 16M971 1132l16-7 2 0 16-10 6-5 14-15 10-4 6 0 10 3 6 0 4-3 8-10 10-7 4-1 8 0 2 1 6 0 8 2 6 5 16 18 10 28 6 10 4 3 6-1 8-3 18 0 8-4 10-7 6-7 22-21 12-7 6 0 14 4 8 0 14-4 6 1 8 4 22 18 28 17 2 2M971 1135l10-4 2 0 14-7 14-10 14-15 4-2 4-1 8 0 8 3 8 1 6-6 6-8 10-8 4-1 10 0 14 3 6 4 6 6 10 13 10 30 6 11 4 3 4 0 6-4 6-2 16-1 8-4 10-7 6-7 20-19 4-3 10-5 4 0 16 5 6 0 14-4 8 0 10 5 18 15 32 19M971 1137l10-3 18-9 10-7 14-15 8-4 8 0 12 4 6 0 2-1 10-13 8-7 8-3 4 1 8 0 8 2 8 4 8 8 8 12 10 32 6 11 4 3 2 0 14-8 16-2 10-5 6-4 14-15 14-12 12-7 8 0 12 4 10 0 14-4 8 1 8 4 22 17 10 5 2 2 16 9M971 1110l2 2 8 4 4 1 8 0 2-1 14-13 14-23 6-6 4-3 16-8 4 0 2-1 4 2 8 7 6 0 2-1 10-1 12 13 12 3 20 27 6 6 6 3 4-1 18-10 18 0 4 1 12 6 2 0 4-2 4-4 10-16 18-19 6-4 14-3 14 0 2 1 4 0 4 1 8 4 18 17 8 9 8 11 6 5 6 0 8-2 6-5M971 1117l2 2 8 4 4 1 8 0 4-2 12-12 14-23 6-6 6-4 12-6 4-1 6 0 10 8 6 0 10-2 4 2 10 11 12 3 20 27 10 9 4 0 20-11 18 0 10 5 2 0 4 2 4 0 6-6 10-16 16-17 10-6 14-3 10 0 2 1 4 0 8 2 6 3 14 13 12 13 6 9 8 7 8 0 4-1 4-2 4-4M971 1128l4 3 8 3 10 0 4-2 4-3 10-11 8-14 8-11 10-7 14-6 6 0 2 1 2 3 6 5 10-1 2-1 6 0 2 1 8 10 6 3 4 0 4 2 4 4 6 10 12 15 4 4 4 2 8-1 2-2 10-5 2-2 22 0 12 6 6 0 4-3 14-21 18-18 6-3 10-2 6 0 2-1 10 1 14 4 4 3 22 22 10 14 6 4 10 0 10-6M971 1139l2 2 8 4 6 1M997 1144l12-12 6-9M1021 1112l8-9 6-4 12-6 4-1 6 0 10 8 6 0 10-2 4 2 10 11 12 3 20 27 8 8 2 1 4 0 20-11 18 0 4 2 2 0 4 3 2 0 4 2 4 0 6-6 10-16 18-19 10-5 4 0 8-2 12 0 12 3 10 6 22 23 6 9 6 6M1331 1146l8-1 4-2 4-4M971 1149l2 2M1009 1142l8-12M1031 1112l6-4 14-6 6 0 2 1 2 3 6 5 10-2 8 0 4 3 6 8 6 3 4 0 4 2 4 4 6 10 12 15 4 4 4 2 4 0 14-7 2-2 6-2 14 0 4 1 12 6 6 0 4-3 14-21 18-18 6-3 10-2 6 0 2-1 10 1 14 4 4 3 26 27M1345 1151l2-2M985 1163l6 1 8-4 12-13 14-23M1041 1113l8-3 8-1 10 9 4 0 8-2 6 0 2 1 8 10 6 3 8 2 4 4 6 10 12 15 4 4 4 2 6 0 14-8 2-2 22 0 12 6 4 1 6-4 12-18 8-9M1243 1119l10-3 18 0 10 3M1299 1133l8 8M1317 1153l4 6 4 4 4 1 4-1M971 1148l12-3 18-10 8-7 8-11M1021 1112l10-15 14-17 4-2 4 1 6-1 6-5 6-2 10 4 14-1 2 1 2 4 6 18 10 24 6 9 24 6 18 9 8 2 6 0 2 1 10-3 14-11 16-16 14-20 10-12 8-4 4-1 10 0 10 2 6 3 10 11 14 20 10 10 20 15 12 6M989 1146l2-2 12-7 12-13M1023 1112l20-27 6-5 4 1 6-1 8-5 6 0 10 4 4-1 8 0 2 1 2 4 16 42 6 9 6 2 10 1 4 2 2 0 18 9 12 3 10 0 10-5 4-3 22-21 16-23 10-11 8-4 4-1 8 0 8 2 8 4 8 9 16 23 14 13 20 14M1003 1143l10-11M1027 1112l18-25 4-3 10-1 8-4 6 1 8 4 12 0 2-1 4 6 14 37 6 12 6 3 16 3 20 10 14 3 6 0 10-4 8-6 22-22 16-23 6-7 4-3 10-5 6-1 4 1 12 6 8 8 20 28 18 15M1011 1142l12-17M1031 1114l14-21 6-5 4 0 10-3 4 0 14 7 4-1 8 0 2 1 2 4 16 42 6 9 6 2 14 2 20 10 12 3 10 0 10-5 4-3 20-19 8-10 12-18 8-9 12-9 8-1 12 8 10 10 18 26 8 7M971 1172l4 0 10-3 18-11 12-13 18-26M1037 1113l10-17 6-4 14-1 16 9 4-1 8 0 2 1 2 4 16 42 6 9 6 2 10 1 4 2 2 0 18 9 12 3 10 0 10-5 26-24 8-11M1235 1120l6-8 16-16 6-2 6 3 18 19M1297 1131l10 13M1321 1156l10 8 12 7M971 1180l4 0 10-3 18-11 12-13 20-29 14-25 6-3 8 0 4 1 10 8 4 2 4 1 2-1 8 0 2 1 18 46 6 9 6 2 10 1 4 2 2 0 18 9 12 3 10 0 10-5 4-3 22-21 14-20M1243 1118l14-17 4-2 4 0 6 5 12 15M1291 1130l14 20 8 8 12 10 12 8 10 4M971 1187l6 0 4-2 2 0 10-5 14-10 14-18 14-21 14-27 6-4 6 0 6 3 10 9 6 3 4 0 2-1 6 0 2 1 18 46 6 9 10 3 4 0 8 2 20 10 8 2 12 0 4-1 10-7 22-21 20-28M1245 1122l10-14 4-4 2-1 4 0 6 6 10 14M1285 1129l16 23 14 15 20 15 10 5 2 0M971 1193l8-1 10-4 2-2 12-7 8-8 26-38 10-22 4-6 4-2 4 0 8 4 12 12 2 1 14 0 2 1 18 46 6 9 6 2 14 2 20 10 12 3 10 0 10-5 20-18 6-6 6-8 14-21 8-10 10-16 4-3 4 0 4 4 12 19 24 34 8 8 18 14 6 4 10 4M977 1196l4-1 16-8 6-4 8-8 24-35 14-30 2-3 4-2 4 0 6 3 12 13 6 3 8 0 4-1 2 2 16 41 6 12 6 3 16 3 18 9 12 3M1185 1196l6-3 8-6 22-22 24-34 10-17 4-5 2-1 4 0 2 2 28 43 12 16 20 17 18 10M993 1145l14-9 6-5M1027 1113l10-14 14-13 2-1 4 0 10-5 4-3 4-1 10 1 10 9 8 12 12 26 12 18 10 5 14 4 4 0 2 1 24 0 10-4 10-8 24-24 12-16 6-6 10-4 14 0 2 1 6 0 8 4 26 31 16 13 14 9M1003 1142l6-4 8-8M1029 1113l14-17 10-9 4 0 4-2 2 0 2-2 8-3 10 0 6 3 10 12 6 11 8 18 8 14 6 8 8 4 18 5 8 0 2 1 16 0 8-2 10-7 26-25 12-16 10-10 4-2 8-2 10 0 8 2 6 3 6 6 14 18 12 12 16 12M1011 1142l6-6 8-11M1033 1113l18-21 4-2 10-2 8-3 8 0 8 4 8 9 4 6 10 22 12 21 6 6 16 6 10 2 28 0 10-5 20-18 8-8 18-23 6-6 10-5 10-1 4 1 10 5 4 3 20 25 8 8 8 6M981 1167l8-3 20-13 12-13 28-40 2-2 8-3 20-1 10 4 12 15 12 26 12 20 2 2 8 4 18 5 8 0 2 1 16 0 8-2 10-7 10-10 2-1 16-17M1231 1125l8-11 8-8 12-7 6 0 6 3 10 7 8 9M1301 1134l6 6M971 1177l16-4 22-14 12-13 30-45 4-3 20 1 8 2 6 3 12 15 12 26 12 20 2 2 8 4 18 5 8 0 2 1 16 0 8-2 10-7 10-10 2-1 14-14 10-13M1243 1118l10-10 4-3 4-2 2 0 10 6 10 10M1293 1132l8 10 12 12 14 11 20 12M971 1185l16-4 12-7 14-10 6-7 22-33 10-18 4-4 4 0 8 3 14 3 8 4 12 15 12 26 12 20 2 2 8 4 18 5 6 0 2 1 18 0 10-3 18-15 16-16 18-23M1245 1123l12-13 6-3 4 2 14 15M1285 1129l16 21 12 12 14 11 20 12M971 1192l8-1 14-6 2-2 12-7 8-7 24-35 12-24 4-4 4 0 16 8 2 0 10 4 12 13 14 29 12 20 2 2 16 7 8 2 6 0 2 1 22 0 10-4 12-10 20-20 32-41 6-6 2 0 4 2 32 42 10 11 22 17 16 9M981 1196l4-2 2 0 12-7 10-7 8-8 18-26 8-15 6-14 6-8 2 0 8 4 2 2 22 10 12 15 12 26 12 20 2 2 8 4 14 4M1185 1196l2 0 10-7 26-25 26-34 8-12 6-4 6 5 10 15 22 29 18 17 24 16M989 1196l8-4 12-8 8-8 20-30 14-30 4-5 2 0 6 3 4 4 6 4 4 2 8 2 8 7 8 11 14 29 8 14 6 6 8 3M1191 1197l8-6 22-21 26-34 10-16 6-4 4 3 16 24 20 26 14 13 20 14M985 1164l4-1 16-8 14-10 6-9 14-27 14-20 4-2 8 1 10 4 12 11 6 9 24 47 4 6 4 4 6 4 12 6 2 0 4 2 4 0 2 1 8 0 4-1 14-6 2-2 12-7 12-11 16-22 8-9M1243 1114l6-5 10-5 6 0 12 6 6 5M1303 1134l6 8M977 1169l10-2 20-10 10-7 8-11 14-27 14-20 4-2 4 0 10 4 2 0 6 4 6 6 8 11 10 21 14 26 4 6 4 4 18 10 10 3 10 0 8-2 10-5 2-2 12-7 12-11 16-22 4-4M1243 1117l8-6 6-3 8-1 12 6 6 5M1299 1133l8 9M1315 1152l10 10 14 6M971 1174l6 0 12-3 16-8 12-8 8-11 14-27 12-18 4-4 8 0 4 2 2 0 10 6 8 8 6 9 26 50 6 7 16 9 14 4 6 0 12-3 16-9 10-7 6-6 18-24 8-9M1245 1120l4-3 10-5 6 0 6 2 10 7M1293 1131l6 6 14 18 10 10 4 3 4 1 8 4 8 1M971 1180l6 0 12-3 16-8 12-8 8-11 14-27 12-18 4-4 8 0 12 5 12 11 6 9 14 28 14 25 4 4 6 3 2 2 8 4 14 4M1161 1196l12-3 16-9 10-7 6-6 22-29 16-14M1247 1125l2-2 10-5 6 0 6 2 22 17 6 6 14 18 10 10 4 3 4 1 8 4 8 1M971 1187l10-1 10-3 10-5 2-2 12-7 8-9 14-27 14-21 4-4 4-1 8 2 10 5 12 12 24 46 10 16 4 3 10 5M1179 1196l8-4 14-10 8-9 16-22 10-10 12-10 6-4 6-2 8 0 6 3 12 9 16 15 14 18 8 8 14 7 10 2M971 1194l16-3 20-10 10-7 8-11 16-30 12-17 4-2 4 0 4 1 12 6 4 3 8 9 6 10 10 21 12 22 4 6 4 4M1191 1196l6-4 10-10 24-31 20-16 10-4 6 1 8 4 14 11 12 12 18 22 6 5 10 5 12 3M989 1196l18-9 12-9 10-16 12-23 10-14 4-4 2-1 4 0 4 1 12 6 4 3 8 9 6 10 10 21 16 28M1199 1196l8-8 24-31 20-16 10-4 6 1 8 4 8 6 18 17 10 13 10 11 12 7M999 1196l8-4 12-9 6-9 14-27 10-15 4-5 4-2 4 0 14 5 12 11 6 9 10 21 14 26M1203 1197l8-9 12-17 10-11 18-14 10-4 4 0 12 6 10 9 6 4 10 11 10 13 12 12M1005 1196l14-10 6-9 14-27 14-20 4-2 4 0 10 4 2 0 6 4 6 6 8 11 10 21 12 22M1207 1196l24-31 20-16 10-4 4 0 10 5 20 16 18 22 8 8M1011 1144l10-5 14-10 12-6 4-1 10 0 10 5 2 0 10 4 42 0 2 1 4 0 10 5 16 12 10 5 10 3 4 0 8-2 18-9 2-2 24-11 4-3M1247 1126l6-3 4 0 2-1 8 0 8 2 4 2M1287 1130l20 10M1005 1152l16-8 14-10 14-7 4 0 2-1 6 1 4 2 2 0 12 6 4 0 2 1 42 0 4 1 12 6 14 11 8 4 10 3 10 0 4-1 16-8 2-2 40-20 10-3 10 0 8 2 32 16M981 1167l4-2 20-6 14-7 14-10 16-8 4 0 2-1 12 3 12 6 6 0 2 1 42 0 4 2 2 0 2 2 6 3 14 11 6 3 2 0 10 4 10 0 4-2 2 0 12-6 2-2 42-21 10-3 10 0 8 2 32 16 2 0 14 7 4 1M971 1177l12-3 4-2 6-1 6-3 10-3 16-9 14-10 14-5 10 1 14 7 4 1 48 1 4 1 6 3 14 11 6 3 2 2 2 0 12 5 8 0 10-3 6-3 2-2 48-24 2 0 4-2 6 0 2-1 10 2 6 3 2 0 24 13 2 0 10 5 2 0 28 13M971 1184l12-3 4-2 14-4 6-3 2 0 8-4 22-15 6-3 8-2 10 1 14 7 4 1 24 0 2 1 22 0 4 1 12 7 10 8 14 7 2 0 4 2 8 0 10-4 2 0 4-3 52-26 12-2 16 4 24 13 2 0 12 6 2 0 28 13M971 1189l8-2 4-2 6-1 20-8 2 0 12-7 14-10 10-5 4-1 8 0 4 1 12 6 2 0 4 2 38 0 2 1 10 0 10 5 14 11 12 6 10 3 10-1 24-12 2-2 4-2 2 0 32-16 8-2 6 0 12 3 36 18 2 0 14 7 2 0 16 8M979 1168l10-2 4-2 6-1 4-2 8-2 18-9 10-7 12-6 8-2 16-1 2-1 10 0 8 2 6 3 12 3 6 3 8 2 18 9 12 10 6 3 12 1 2 1 4 0 8-2 20-10 2-2 10-5 2 0 2-2 24-13 12-3 4 0 8 2 38 20 2 0 20 9M971 1174l4 0 20-5 4-2 14-4 16-8 8-6 16-8 4 0 8-2 8 0 2-1 12 0 32 10 6 3 2 0 18 9 12 10 4 2 8 2 16 0 4-1 62-33 8-2 8 0 4 1 38 20 2 0 10 5 2 0 10 5 2 0 10 5 2 0M971 1181l4 0 20-5 4-2 14-4 16-8 8-6 16-8 10-1 2-1 8 0 2-1 12 0 8 2 28 10 2 0 12 6 4 1 18 14 12 3 14 0 4-2 2 0 60-32 8-2 8 0 4 1 36 19 2 0 12 6 2 0 10 5 2 0 10 5 2 0M971 1189l16-3 4-2 6-1 4-2 8-2 6-3 2 0 8-4 16-11 8-4 2 0 4-2 6 0 10-2 18 0 32 11 2 0 20 9 12 10 10 5 6 0 2 1 10 0 10-3 60-32 4-1 10 0 10 3 26 15 2 0 12 6 2 0 10 5 2 0 16 7M973 1196l6-2 8-1 4-2 6-1 4-2 8-2 6-3 2 0 8-4 16-11 8-4 2 0 4-2 6 0 10-2 18 0 8 2 6 3 2 0 16 6 2 0 20 9 12 10 8 4 10 2M1183 1196l10-3 6-3 2-2 28-14 2-2 22-11 4-1 12 0 4 2 2 0 10 5 2 2 30 15 2 0 10 5 2 0 16 7M993 1196l4-2 14-4 6-3 2 0 12-7 8-6 12-6 10-2 6 0 2-1 10 0 2-1 10 1 4 2 26 8 6 3 2 0 14 7 14 11M1195 1196l18-9 2-2 4-1 8-4 2-2 18-10 2 0 6-3 4 0 2-1 12 2 40 21 2 0 20 9M971 1183l4-1 8 0 12-3 4-2 8-2 6-3 2 0 10-5 16-16 6-5 6-3 10 0 2 1 4 0 18 5 4 0 10 3 4 0 12 3 4 2 8 2 24 12 2 0 4 2 14 2 2 1 6 0 2-1 6 0 8-2 12-5 2 0 12-6 2 0 8-4 14-11 12-6 10 1 12 7 10 8 34 17 2 0 20 9M971 1187l10 0 2-1 4 0 8-3 6-1 6-3 10-3 10-6 16-16 10-6 12 0 18 5 14 2 24 6 4 2 2 0 26 13 10 3 4 0 2 1 18 0 2-1 4 0 4-2 8-2 20-9 2 0 10-6 10-8 12-6 10 1 8 4 16 12 30 15 2 0 10 5 2 0 8 4 2 0M971 1194l10 0 6-2 4 0 4-2 6-1 14-6 2 0 10-6 16-16 10-6 12 0 18 5 14 2 24 6 4 2 2 0 24 12 2 0 10 4 4 0 2 1 18 0 2-1 4 0 4-2 8-2 20-9 2 0 10-6 16-12 2 0 4-2 8 0 10 5 16 12 28 14 2 0 12 6 2 0 8 4 2 0M1001 1196l2 0 16-7 2 0 8-6 16-16 4-3 6-2 12 1 18 5 4 0 10 3 4 0 16 4 4 2 2 0 22 11 2 0 8 4 8 2 6 0 2 1 12 0 10-2 4-2 8-2 10-5 2 0 16-8 10-8 12-7 10 0 12 6 16 12 36 17M1019 1196l10-6 16-16 4-3 6-2 12 1 18 5 14 2 20 5 32 14M1205 1196l2 0 10-5 2 0 16-8 14-11 8-4 4 0 2-1 4 1 12 6 16 12 18 9 4 1M1027 1196l20-19 6-3 8 0 20 5 14 2 28 7 18 8M1217 1196l16-7 16-12 8-4 4-1 4 0 10 4 22 16 8 4 2 0M1017 1197l22-38 8-7 6-3 6 0 6 3 8 7 22 38M1021 1197l20-33 12-8 6 0 12 8 20 33M1025 1198l14-24 6-6 6-4 4-1 6 1 6 4 6 6 14 24M1223 1197l18-33 6-9 6-5 8-4 4 0 6 3 8 7 6 9 18 33M1227 1197l18-32 10-9 6-3 4 0 6 3 8 7 20 35M1231 1197l16-27 4-4 8-5 8 0 12 9 16 28M1025 1196l18-33 4-4 6-4 6 0 6 4 4 4 18 33M1029 1196l14-26 10-8 4 0 6 3 6 5 14 27M1033 1197l6-13 4-6 6-6 6-3 2 0 6 3 6 6 4 6 6 13M1229 1199l8-14 8-17 6-9 6-5 4-2 4 0 4 2 8 8 18 34M1233 1199l16-30 8-8 4-2 6 1 10 9 14 27M1239 1196l10-20 6-6 6-3 4 0 4 2 6 5 4 6 8 16M1031 1198l6-11 8-18 8-8 6 0 8 8 6 14 8 15M1035 1199l10-23 6-6 4-2 2 0 4 2 4 4 4 6 8 19M1039 1197l6-13 4-5 6-4 2 0 6 4 4 5 6 13M1237 1198l14-30 2-3 8-7 4 0 6 5 4 6 6 14 8 15M1241 1198l10-23 6-7 6-3 4 2 6 6 12 25M1245 1196l6-14 8-8 2-1 4 0 8 7 8 17M1039 1198l8-22 2-3 6-5 4 1 6 7 8 22M1041 1201l6-18 4-5 4-3 4 1 6 8 6 17M1043 1202l4-11 4-6 4-3 2 0 4 3 4 6 2 5M1245 1197l8-22 4-6 4-4 2 0 4 2 4 5 10 26M1247 1200l6-18 4-6 6-4 6 5 4 6 6 18M1249 1201l6-15 6-6 4 0 4 4 4 7 2 6M1045 1197l4-15 4-6 2-2 2 0 6 8 4 16M1047 1196l2-7 6-8 2 0 2 2 4 7 2 6M1049 1197l6-9 2 0 2 2 4 7M1251 1197l6-20 2-3 4-3 2 1 4 6 6 21M1253 1197l2-8 4-8 4-3 2 1 4 6 4 14M1255 1196l6-10 2 0 4 3 4 9M971 890l4-2 2 0 20-10 4-4 4-7 14-28 4-3 4 0 6 5 8 20 12 36 2 3 2 2 4 1 12 0 6 2 6 0 2-1 4-5 12-22 12-18 6-2 12 0 10 2 20 10 4 0 2 1 12 0 8-4 6-4 4-4 6-9 8-16 4-6M1241 825l14 30 6 7 4-1 6-8 4-13 6-12M1303 827l8 11 8 19 6 11 4 3 18 1M971 893l10-4 2 0 12-6 4-3 4-6 12-25 4-6 6-4 6 3 2 3 6 14 14 42 2 3 2 2 4 1 8 0 4-1 6 2 6 0 4-3 8-13 6-12 10-15 4-4 6 0 2-1 12 1 10 3 4 3 14 6 6 0 2 1 10-1 10-6 6-5 14-25 4-6 4-4M1241 829l14 30 6 7 2 0 4-3 4-6 6-18 6-11M1301 828l10 14 10 23 4 7 2 2 18 1 2 1M971 898l10-3 16-8 4-4 4-7 10-21 4-6 4-4 2 0 6 3 4 7 16 47 4 9 4 2 6 0 2-1 18 1 4-3 16-28 10-14 4-2 16 0 8 2 18 9 10 2 10 0 8-4 6-4 4-4 18-30 10-9M1237 828l10 18 8 19 6 7 4-1 6-8 6-18 4-8 6-9M1295 827l6 6 10 14 8 19 6 11 2 2 4 0 2 1 14 0M971 904l6-1 6-3 2 0 12-6 6-7 12-25 4-6 6-4 6 3 2 3 6 14 14 43 2 4 2 1 8 0 6-2 14 1 4-3 14-24 10-15 4-4 8 0 4-1 2 1 10 1 20 10 10 1 2 1 10-1 12-7 6-6 16-28 6-6 6-4 6 0 4 4 16 34 6 8 4-1 4-5 6-17 4-9 6-10 4-4 4-1 8 7 10 14 8 19 6 11 4 2 12 0 2 1 4 0M971 911l10-2 16-7 8-11 10-21 4-6 6-4 6 3 2 3 6 14 14 44 2 3 2 2 4 0 12-4 12 1 2-1 10-15 6-11 12-17 6-2 12 0 10 2 20 10 4 0 2 1 12 0 12-6 6-5 18-30 8-7 6-3 4 0 4 4 10 20 6 15 6 7 4-1 4-5 6-17 10-19 4-4 4-1 8 7 10 14 12 26 4 5 20 1M971 918l16-4 12-6 6-9 10-21 4-6 6-4 6 3 2 3 6 14 12 39 4 9 2 2 2 0 4-1 10-5 12 1 4-4 22-35 6-6 6 0 2-1 12 1 4 1 20 10 10 1 2 1 10-1 8-4 8-6 18-30 8-7 6-3 4 0 4 4 10 20 6 15 6 8 4-1 4-5 2-4 4-14 8-16 6-7 4-1 8 7 10 14 8 18 6 11 6 2 16 0M971 924l4 0 8-2 16-7 6-9 8-17 6-10 4-3 4 0 6 5 8 20 10 34 4 9 4 2 10-6 4-1 12 0 2-1 18-29 8-11 4-3 4 0 2-1 14 1 8 2 14 8 8 2 16 0 8-4 8-6 18-30 8-7 6-3 4 0 2 2 4 6 8 16 8 19 6 5 2-1 6-10 4-13 8-17 2-3 6-5 6 3 10 12 4 6 10 22 6 8 20 0M971 929l10-1 16-6 6-7 12-24 4-6 6-4 6 3 2 3 6 14 14 46 2 4 4 1 14-8 6 0 8-2 10-14 8-14 6-8 6-6 18 0 2 1 4 0 20 10 10 2 8 0 4-1 12-6 6-6 16-27 6-6 8-4 4 0 4 4 10 20 8 19 2 3 4 2 2-1 6-10 4-14 8-16 6-7 4-1 8 7 8 10 14 29 4 4 20 0M971 932l6 0 12-3 10-5 6-9 10-20 4-6 4-4 2 0 6 3 4 7 8 22 10 34 2 4 4 1 4-2 4-4 6-3 10 0 4-2 24-36 6-5 4-1 12 0 2 1 4 0 4 1 20 10 4 0 2 1 12 0 10-4 8-6 6-9 8-15 6-8 8-6 6-2 4 2 4 6 6 12 6 16 4 8 6 5 2-1 6-10 4-14 6-13 6-9 4-2 4 1 12 13 4 6 14 28 4 2 18-1M971 874l2 1 6 0 4-1 8-5 20-25 12-17M1031 828l2 2 6 12 12 45 4 11 2 0 2-2 6-11 4-4 2 0 10 12 4 2 4-8 4-15 12-36 8-8M1117 828l12 31 4 6 16 17 12 6 12 3 6 0 6-3 12-13 12-20 10-12 4-3 4 0 4 2 6 8 8 21 8 16 6 10 2 2 2 0 4-5 4-8 8-23 8-19 4-7 2-2 2 0 6 5 16 24 18 17 12 9M971 877l2 1 8 0 4-1 4-3 6-6 4-6 12-14 10-15 4-4 4 0 4 5 6 12 12 45 4 11 2 0 2-2 6-11 2-3 2-1 4 1 6 8 6 4 4-8 14-46 4-7 4-4 4-2 2 1 2 3 8 23 4 8 20 21 8 4 12 3 10 0 2-1 16-17 6-11 12-16 4-4 4-2 2 0 6 5 4 6 10 25 6 12 6 10 2 2 2 0 6-9 16-42 6-11 2-2 2 0 8 7 12 19 14 14 18 14M971 882l2 1 10 0 4-2 10-10 4-6 8-9 10-15 6-6 4 0 6 8 4 8 12 46 4 11 2 1 8-14 4-5 4 1 6 8 6 4 2-3 16-51 4-7 4-4 4-2 2 1 2 4 10 27 4 6 14 15 4 3 10 5 14 3 4 0 6-3 12-13 18-27 6-6 4-2 2 0 6 5 4 6 16 37 6 10 2 2 2 0 6-9 18-47 4-7 4-1 6 4 16 24 14 13 16 12M971 888l4 2 6 0 6-2 10-10 4-6 12-14 8-12 4-4 4 0 4 5 6 12 12 46 4 11 2 1 4-6 6-13 4-2 4 3 6 8 4 2 4-8 12-40 4-10 6-6 4-2 2 1 4 8 8 23 6 8 16 16 14 6 4 1 12 0 6-4 10-11 18-27 6-6 4-2 2 0 6 5 4 6 10 25 8 16 6 9 2 0 4-5 4-9 14-38 4-8 4-5 4 1 6 6 12 18 14 14 10 8 8 5M971 895l4 2 8 0 6-3 20-23 12-17 4-4 4 0 4 5 6 12 14 54 2 4 2 0 2-2 8-17 2-2 4 1 8 9 4 1 2-2 14-45 4-10 6-6 4-2 2 1 2 4 10 27 4 6 16 17 14 7 10 2 6 0 6-3 14-15 16-24 6-6 4-2 2 0 6 5 4 6 10 25 10 20 2 3 4 3 2-2 4-8 16-43 4-8 4-5 4 1 6 6 10 15 10 11 8 7 16 11M971 902l4 2 8 0 6-3 10-10 10-12 12-17 4-4 4 0 4 5 6 12 14 55 2 4 2 0 2-2 8-18 4-3 2 1 10 10 2 0 4-8 14-44 4-7 6-5 2 0 2 1 6 13 4 13 4 8 4 5 16 16 14 6 4 0 2 1 10 0 4-2 14-15 10-17 6-7 6-6 4-2 2 0 6 5 4 6 16 38 8 13 2 0 4-5 4-9 14-39 4-8 4-5 4 1 6 6 12 17 12 12 20 14M971 909l8 2 4 0 6-3 10-10 6-8 6-6 10-15 6-4 6 5 6 12 14 56 2 4 2 0 12-24 4 0 10 10 2 0 4-8 4-14 12-34 6-6 2-1 4 0 12 31 6 9 14 14 4 3 10 4 8 2 10 0 2-1 4-3 12-13 12-19 6-7 6-5 4 0 4 2 6 8 14 34 6 12 2 3 4 3 2-2 4-8 10-29 8-19 6-9 4 1 6 6 12 17 8 8 18 14 6 3M971 914l6 2 10-1 8-7 14-16 12-17 4-4 4 0 4 5 6 12 14 56 2 4 2 0 2-2 6-16 4-6 2-1 4 2 6 6 4 2 4-8 14-44 2-4 4-4 4-3 2 0 2 1 2 4 10 27 4 6 18 18 10 5 14 3 6-1 4-2 12-12 16-24 8-8 4-2 2 0 6 5 4 6 14 34 6 12 2 3 4 3 2-2 4-8 16-44 4-8 4-5 2 0 6 4 18 24 16 13 12 7M971 917l6 2 8 0 4-2 10-10 12-14 12-17 4-2 4 3 8 14 14 57 2 4 2 0 2-2 6-16 4-7 2-1 4 2 8 8 2 0 4-8 4-14 12-34 4-4 6-3 2 1 2 4 10 27 4 6 16 17 14 7 10 2 6 0 8-4 12-13 12-19 10-10 4-2 2 0 6 5 4 6 16 38 6 11 4 3 2-2 4-8 8-24 10-25 4-7 2-1 2 0 4 2 4 4 8 12 12 13 16 12 8 4M971 850l20-21M1039 828l12 21 4 5 10 0 2-1 10-14 10-11M1129 827l8 16 6 7 10 4 14 3 8 3 6 0 8-5 28-27M1311 828l8 7 28 15M971 854l22-22 4-3M1033 827l6 8 14 24 2 2 10 0 2-1 10-14 16-19M1123 827l6 7 8 16 6 7 10 4 14 3 8 3 6 0 8-5 16-16 2-1 10-10 8-6M1245 828l14 6 10-1 10-5M1303 829l16 12 28 13M971 859l6-6 18-14 10-10M1025 828l8 8 18 29 4 5 12 0 12-17 22-25M1113 828l14 13 6 9 6 13 2 2 8 4 20 5 4 2 8 0 6-3 16-16 8-6 10-10 10-6 10 1 16 7 4 0 2 1 8-2 16-8 6-1 10 4 14 11 6 3 2 0 14 6 8 2M971 864l14-11 12-8 8-8 8-5 4 0 4 2 12 11 14 22 4 8 4 5 10 0 2-1 10-14 10-11 10-13 2-2 6-3 4 0 6 3 6 5 8 9 8 16 6 7 10 4 14 3 8 3 6 0 4-2 32-30 6-5 10-5 10 2 16 7 8 0 18-9 4-1 8 0 6 3 12 9 6 3 22 6 4 0M971 868l14-10 12-7 12-11 6-2 8 4 10 10 20 33 2 2 10 0 2-1 10-14 10-11 10-13 2-2 6-3 4 0 6 3 8 7 6 7 8 16 6 7 10 4 14 3 8 3 6 0 4-2 34-32 8-6 2 0 4-2 10 2 16 7 6 0 4-1 16-8 8-2 4 1 10 5 6 5 6 3 10 3 18 2M971 835l6-9M1037 829l12 6 8 6 8 20 2 4 2 1 6-1 16-10 8-7 8-8 8-10 2-1M1129 828l32 16 4 0 8 2 8 0 2-1 16-16 2-1M1229 829l16 1 2 1 22 0 8-3M1339 828l8 7M971 838l8-10M1023 829l2 0 12 6 2 2 16 9 4 6 8 20 2 1 8-2 10-6 12-10 8-8 8-10 6-3 8 1 32 16 4 0 8 2 8 0 2-1 16-16 4-2 24 1 2 1 16 1 2 1 22 0 10-3 12-6M1333 828l14 10M971 844l8-10 4-4 4-2M999 829l14 4 32 16 2 2 6 3 6 7 6 17 2 3 2 1 4 0 12-6 8-6 16-16 2-3 8-7 8 0 4 1 26 14 2 0 4 2 12 1 2 1 2 0 6-3 6-7 10-9 20 0 2 1 8 0 10 2 26 1 8-2 28-14 8-2 6 0 12 3 10 5 8 6M971 849l12-12 6-3 4 0 16 7 2 0 26 13 2 2 16 9 4 6 8 20 2 1 6-1 12-7 12-10 8-8 8-10 6-3 8 1 32 16 4 0 8 2 8 0 2-1 16-16 4-2 12 0 2 1 8 0 2 1 8 0 2 1 8 0 2 1 22 0 10-4 2 0 4-3 20-10 4-1 14 0 8 2 16 8M971 853l10-10 8-4 2 0 24 11 2 0 22 12 2 2 14 8 4 6 8 20 2 1 8-2 10-6 12-10 8-8 8-10 6-3 8 1 32 16 4 0 8 2 8 0 2-1 16-16 4-2 24 1 2 1 16 1 2 1 22 0 4-1 34-17 4-1 14 0 12 3 10 5M1049 826l4 12 2 3 6 3 14 0 6 2 4 0 2-1 12-20M1047 827l4 13 4 9 4 2 10 0 2-1 4 0 6 2 4 0 2-1 14-23M1043 826l10 31 2 4 2 1 6 0 6-2 12 0 4 1 4-4 4-6 14-24M971 834l6 2 22 0 4-4 4-6M1039 826l14 43 2 4 4 2 4-1 8-4 14 0 2-1 4-5 14-24 10-13M1145 828l18 9 4 0 2 1 12 0 12-6 6-5M1255 826l6 8 4-1 4-5M971 843l10 3 18 0 4-4 10-15M1035 826l8 22 10 33 2 4 2 1 2 0 14-7 12 0 2-1 24-37 6-6 8 0 4-1 2 1 10 1 20 10 10 2 8 0 4-1 10-5 4-3 4-4 4-7M1251 827l4 10 6 8 2 0 4-3 4-7 2-7M1321 827l2 3 4 3 10-1 8-4M971 849l4 2 10 2 14 0 6-6 12-19M1033 829l6 14 14 46 2 4 4 1 12-8 4-1 10 0 2-1 20-31 6-8 4-3 4 0 2-1 14 1 8 2 14 8 8 2 10 1 2-1 4 0 10-5 4-3 4-4 8-14M1247 825l10 23 2 3 4 2 2-1 6-10 4-14M1317 828l4 6 6 5 8 0 4-1 4-2 4-4M1049 827l4 15 2 4 2 0 2-2 6-11 2-3 2-1 4 1 6 8 4 4 2 0 2-3 4-12M1147 827l4 4 8 4 10 3 6 0 2 1 6-2 10-10M1249 827l4 8 8 12 2 0 4-5 6-14M1047 826l4 17 4 11 2 0 2-2 6-12 4-5 2 0 12 13 2 0 4-8 4-14M1141 828l8 8 8 5 14 4 10 0 2-1 16-17M1245 825l10 21 4 6 4 3 2-2 6-12 6-17M1043 821l8 33 4 11 2 0 2-2 6-13 4-5 4 1 10 11 2 0 4-8 6-21M1131 826l8 10 10 10 14 7 10 2 6 0 6-3 14-15 6-10M1241 825l4 11 8 17 6 10 4 3 2-2 6-12 8-24M1337 829l10 2M977 828l4 2 2-1 4 0M1041 825l12 49 2 4 2 0 2-2 8-18 4-3 2 1 8 9 4 1 2-2 12-38M1125 823l4 11 4 6 14 15 4 3 10 5 14 3 4 0 6-3 10-10 18-26M1237 827l16 38 8 13 2 0 4-5 4-9 14-39M1313 827l4 4 6 3 2 0 8 4 14 3M971 834l2 2 6 3 6 0 8-2 16-8 2-2M1037 825l4 10 12 50 2 4 2 0 2-2 6-15 4-7 2 0 4 2 6 7 4 1 4-8 14-44M1123 826l4 13 4 8 4 5 16 16 8 4 12 3 10 0 4-2 14-15 12-19 10-10 2-1M1229 828l8 9 12 30 8 16 4 6 2 0 4-5 6-15 6-19 10-24M1303 827l12 12 14 7 10 3 8 1M971 840l2 2 8 4 12-2 16-8 8-9M1035 828l4 8 2 7 12 50 2 4 2 0 2-2 6-16 4-7 4 0 2 1 6 7 4 1 4-8 12-38 4-9M1121 828l8 22 6 9 18 17 4 2 14 4 10 0 6-4 12-13 12-19 10-10 4-2 2 0 6 5 4 6 16 38 6 11 4 3 2-2 4-8 12-35 6-14 4-8 2-1 2 0 6 3 14 14 18 8 14 2"/></g>
<rect x="485.40" y="419.60" width="188.20" height="173.00" fill="none" stroke="#262626" stroke-width="1.2"/>
<line x1="485.40" y1="419.60" x2="488.40" y2="419.60" stroke="#262626" stroke-width="1.2"/>
<text x="480.80" y="424.90" font-size="15" text-anchor="end">2</text>
<line x1="485.40" y1="462.85" x2="488.40" y2="462.85" stroke="#262626" stroke-width="1.2"/>
<path d="M474.05,460.05 L477.25,457.55 L477.25,468.15" fill="none" stroke="#111" stroke-width="1.45" stroke-linejoin="miter"/>
<line x1="485.40" y1="506.10" x2="488.40" y2="506.10" stroke="#262626" stroke-width="1.2"/>
<text x="480.80" y="511.40" font-size="15" text-anchor="end">0</text>
<line x1="485.40" y1="549.35" x2="488.40" y2="549.35" stroke="#262626" stroke-width="1.2"/>
<path d="M474.05,546.55 L477.25,544.05 L477.25,554.65" fill="none" stroke="#111" stroke-width="1.45" stroke-linejoin="miter"/>
<text x="472.46" y="554.65" font-size="15" text-anchor="end">−</text>
<line x1="485.40" y1="592.60" x2="488.40" y2="592.60" stroke="#262626" stroke-width="1.2"/>
<text x="480.80" y="597.90" font-size="15" text-anchor="end">−2</text>
<text x="485.40" y="609.00" font-size="15" text-anchor="middle">Y</text>
<line x1="480.80" y1="596.70" x2="490.00" y2="596.70" stroke="#222" stroke-width="0.9"/>
<text x="527.93" y="609.00" font-size="15" text-anchor="middle">Γ</text>
<line x1="523.33" y1="596.70" x2="532.53" y2="596.70" stroke="#222" stroke-width="0.9"/>
<text x="542.24" y="609.00" font-size="15" text-anchor="middle">X</text>
<line x1="537.64" y1="596.70" x2="546.84" y2="596.70" stroke="#222" stroke-width="0.9"/>
<text x="582.13" y="609.00" font-size="15" text-anchor="middle">K</text>
<line x1="577.53" y1="596.70" x2="586.73" y2="596.70" stroke="#222" stroke-width="0.9"/>
<text x="589.29" y="609.00" font-size="15" text-anchor="middle">M</text>
<line x1="584.69" y1="596.70" x2="593.89" y2="596.70" stroke="#222" stroke-width="0.9"/>
<text x="631.44" y="609.00" font-size="15" text-anchor="middle">Γ</text>
<line x1="626.84" y1="596.70" x2="636.04" y2="596.70" stroke="#222" stroke-width="0.9"/>
<text x="673.60" y="609.00" font-size="15" text-anchor="middle">Y</text>
<line x1="669.00" y1="596.70" x2="678.20" y2="596.70" stroke="#222" stroke-width="0.9"/>
<text x="550.70" y="497.60" font-size="15" stroke="#111" stroke-width="0.3">N=9</text>
<text x="465.40" y="421.00" font-size="18.5" font-weight="bold">i</text>
<text transform="translate(15.0,95.6) rotate(-90)" font-size="17.3" text-anchor="middle">Energy (eV)</text>
<text transform="translate(13.4,300.3) rotate(-90)" font-size="17.3" text-anchor="middle">Energy (eV)</text>
<text transform="translate(13.2,505.3) rotate(-90)" font-size="17.3" text-anchor="middle">Energy (eV)</text>
<line x1="42.6" y1="755.65" x2="423.6" y2="755.65" stroke="#ff4040" stroke-width="1.1" stroke-dasharray="3.3,1.6"/>
<line x1="42.6" y1="789.62" x2="423.6" y2="789.62" stroke="#4040ff" stroke-width="1.1" stroke-dasharray="1.1,1.1"/>
<rect x="50.00" y="788.59" width="7.8" height="14.41" fill="#2b2bff"/>
<rect x="61.70" y="797.74" width="7.6" height="5.26" fill="#ff3333"/>
<rect x="87.70" y="778.52" width="7.8" height="24.48" fill="#2b2bff"/>
<rect x="99.40" y="789.96" width="7.6" height="13.04" fill="#ff3333"/>
<rect x="125.40" y="773.49" width="7.8" height="29.51" fill="#2b2bff"/>
<rect x="137.10" y="763.20" width="7.6" height="39.80" fill="#ff3333"/>
<rect x="163.10" y="772.12" width="7.8" height="30.88" fill="#2b2bff"/>
<rect x="174.80" y="754.50" width="7.6" height="48.50" fill="#ff3333"/>
<rect x="200.80" y="773.26" width="7.8" height="29.74" fill="#2b2bff"/>
<rect x="212.50" y="691.14" width="7.6" height="111.86" fill="#ff3333"/>
<rect x="238.50" y="778.52" width="7.8" height="24.48" fill="#2b2bff"/>
<rect x="250.20" y="738.95" width="7.6" height="64.05" fill="#ff3333"/>
<rect x="276.20" y="782.18" width="7.8" height="20.82" fill="#2b2bff"/>
<rect x="287.90" y="756.79" width="7.6" height="46.21" fill="#ff3333"/>
<rect x="313.90" y="784.24" width="7.8" height="18.76" fill="#2b2bff"/>
<rect x="325.60" y="763.65" width="7.6" height="39.35" fill="#ff3333"/>
<rect x="351.60" y="785.39" width="7.8" height="17.61" fill="#2b2bff"/>
<rect x="363.30" y="769.37" width="7.6" height="33.63" fill="#ff3333"/>
<rect x="389.30" y="790.19" width="7.8" height="12.81" fill="#2b2bff"/>
<rect x="401.00" y="794.08" width="7.6" height="8.92" fill="#ff3333"/>
<text transform="translate(53.90,787.99) rotate(-13)" font-size="11.3" text-anchor="middle" fill="#222">0.63</text>
<text transform="translate(65.50,797.14) rotate(-13)" font-size="11.3" text-anchor="middle" fill="#222">0.23</text>
<polygon points="63.50,688.39 64.94,692.61 69.40,692.68 65.83,695.35 67.14,699.61 63.50,697.04 59.86,699.61 61.17,695.35 57.60,692.68 62.06,692.61" fill="#ffd700"/>
<text transform="translate(91.60,777.92) rotate(-13)" font-size="11.3" text-anchor="middle" fill="#222">1.07</text>
<text transform="translate(103.20,789.36) rotate(-13)" font-size="11.3" text-anchor="middle" fill="#222">0.57</text>
<polygon points="101.20,708.11 102.64,712.33 107.10,712.39 103.53,715.07 104.84,719.33 101.20,716.76 97.56,719.33 98.87,715.07 95.30,712.39 99.76,712.33" fill="#ffd700"/>
<text transform="translate(129.30,772.89) rotate(-13)" font-size="11.3" text-anchor="middle" fill="#222">1.29</text>
<text transform="translate(140.90,762.60) rotate(-13)" font-size="11.3" text-anchor="middle" fill="#222">1.74</text>
<polygon points="138.90,720.20 140.34,724.41 144.80,724.48 141.23,727.15 142.54,731.41 138.90,728.85 135.26,731.41 136.57,727.15 133.00,724.48 137.46,724.41" fill="#ffd700"/>
<text transform="translate(167.00,771.52) rotate(-13)" font-size="11.3" text-anchor="middle" fill="#222">1.35</text>
<text transform="translate(178.60,753.90) rotate(-13)" font-size="11.3" text-anchor="middle" fill="#222">2.12</text>
<polygon points="176.60,715.13 178.04,719.35 182.50,719.41 178.93,722.08 180.24,726.34 176.60,723.78 172.96,726.34 174.27,722.08 170.70,719.41 175.16,719.35" fill="#ffd700"/>
<text transform="translate(204.70,772.66) rotate(-13)" font-size="11.3" text-anchor="middle" fill="#222">1.3</text>
<text transform="translate(216.30,690.54) rotate(-13)" font-size="11.3" text-anchor="middle" fill="#222">4.89</text>
<polygon points="214.30,665.00 215.74,669.22 220.20,669.29 216.63,671.96 217.94,676.22 214.30,673.65 210.66,676.22 211.97,671.96 208.40,669.29 212.86,669.22" fill="#ffd700"/>
<text transform="translate(242.40,777.92) rotate(-13)" font-size="11.3" text-anchor="middle" fill="#222">1.07</text>
<text transform="translate(254.00,738.35) rotate(-13)" font-size="11.3" text-anchor="middle" fill="#222">2.8</text>
<polygon points="252.00,691.19 253.44,695.41 257.90,695.47 254.33,698.15 255.64,702.41 252.00,699.84 248.36,702.41 249.67,698.15 246.10,695.47 250.56,695.41" fill="#ffd700"/>
<text transform="translate(280.10,781.58) rotate(-13)" font-size="11.3" text-anchor="middle" fill="#222">0.91</text>
<text transform="translate(291.70,756.19) rotate(-13)" font-size="11.3" text-anchor="middle" fill="#222">2.02</text>
<polygon points="289.70,700.27 291.14,704.49 295.60,704.56 292.03,707.23 293.34,711.49 289.70,708.92 286.06,711.49 287.37,707.23 283.80,704.56 288.26,704.49" fill="#ffd700"/>
<text transform="translate(317.80,783.64) rotate(-13)" font-size="11.3" text-anchor="middle" fill="#222">0.82</text>
<text transform="translate(329.40,763.05) rotate(-13)" font-size="11.3" text-anchor="middle" fill="#222">1.72</text>
<polygon points="327.40,703.07 328.84,707.29 333.30,707.35 329.73,710.03 331.04,714.28 327.40,711.72 323.76,714.28 325.07,710.03 321.50,707.35 325.96,707.29" fill="#ffd700"/>
<text transform="translate(355.50,784.79) rotate(-13)" font-size="11.3" text-anchor="middle" fill="#222">0.77</text>
<text transform="translate(367.10,768.77) rotate(-13)" font-size="11.3" text-anchor="middle" fill="#222">1.47</text>
<polygon points="365.10,707.38 366.54,711.60 371.00,711.66 367.43,714.34 368.74,718.60 365.10,716.03 361.46,718.60 362.77,714.34 359.20,711.66 363.66,711.60" fill="#ffd700"/>
<text transform="translate(393.20,789.59) rotate(-13)" font-size="11.3" text-anchor="middle" fill="#222">0.56</text>
<text transform="translate(404.80,793.48) rotate(-13)" font-size="11.3" text-anchor="middle" fill="#222">0.39</text>
<polygon points="402.80,718.20 404.24,722.42 408.70,722.49 405.13,725.16 406.44,729.42 402.80,726.85 399.16,729.42 400.47,725.16 396.90,722.49 401.36,722.42" fill="#ffd700"/>
<rect x="42.6" y="620.0" width="381.00" height="183.00" fill="none" stroke="#262626" stroke-width="1.1"/>
<line x1="59.60" y1="803.0" x2="59.60" y2="800.5" stroke="#222" stroke-width="0.9"/>
<text x="59.60" y="817.20" font-size="13.5" text-anchor="middle">1</text>
<line x1="97.30" y1="803.0" x2="97.30" y2="800.5" stroke="#222" stroke-width="0.9"/>
<text x="97.30" y="817.20" font-size="13.5" text-anchor="middle">2</text>
<line x1="135.00" y1="803.0" x2="135.00" y2="800.5" stroke="#222" stroke-width="0.9"/>
<text x="135.00" y="817.20" font-size="13.5" text-anchor="middle">3</text>
<line x1="172.70" y1="803.0" x2="172.70" y2="800.5" stroke="#222" stroke-width="0.9"/>
<text x="172.70" y="817.20" font-size="13.5" text-anchor="middle">4</text>
<line x1="210.40" y1="803.0" x2="210.40" y2="800.5" stroke="#222" stroke-width="0.9"/>
<text x="210.40" y="817.20" font-size="13.5" text-anchor="middle">5</text>
<line x1="248.10" y1="803.0" x2="248.10" y2="800.5" stroke="#222" stroke-width="0.9"/>
<text x="248.10" y="817.20" font-size="13.5" text-anchor="middle">6</text>
<line x1="285.80" y1="803.0" x2="285.80" y2="800.5" stroke="#222" stroke-width="0.9"/>
<text x="285.80" y="817.20" font-size="13.5" text-anchor="middle">7</text>
<line x1="323.50" y1="803.0" x2="323.50" y2="800.5" stroke="#222" stroke-width="0.9"/>
<text x="323.50" y="817.20" font-size="13.5" text-anchor="middle">8</text>
<line x1="361.20" y1="803.0" x2="361.20" y2="800.5" stroke="#222" stroke-width="0.9"/>
<text x="361.20" y="817.20" font-size="13.5" text-anchor="middle">9</text>
<line x1="398.90" y1="803.0" x2="398.90" y2="800.5" stroke="#222" stroke-width="0.9"/>
<text x="398.90" y="817.20" font-size="13.5" text-anchor="middle">Bulk</text>
<line x1="42.6" y1="803.00" x2="45.1" y2="803.00" stroke="#222" stroke-width="0.9"/>
<text x="39.10" y="807.80" font-size="13.5" text-anchor="end">0</text>
<line x1="42.6" y1="757.25" x2="45.1" y2="757.25" stroke="#222" stroke-width="0.9"/>
<text x="39.10" y="762.05" font-size="13.5" text-anchor="end">2</text>
<line x1="42.6" y1="711.50" x2="45.1" y2="711.50" stroke="#222" stroke-width="0.9"/>
<text x="39.10" y="716.30" font-size="13.5" text-anchor="end">4</text>
<line x1="42.6" y1="665.75" x2="45.1" y2="665.75" stroke="#222" stroke-width="0.9"/>
<text x="39.10" y="670.55" font-size="13.5" text-anchor="end">6</text>
<line x1="42.6" y1="620.00" x2="45.1" y2="620.00" stroke="#222" stroke-width="0.9"/>
<text x="39.10" y="624.80" font-size="13.5" text-anchor="end">8</text>
<line x1="421.1" y1="757.25" x2="423.6" y2="757.25" stroke="#222" stroke-width="0.9"/>
<text x="425.20" y="762.05" font-size="13.5">0</text>
<line x1="421.1" y1="711.50" x2="423.6" y2="711.50" stroke="#222" stroke-width="0.9"/>
<text x="425.20" y="716.30" font-size="13.5">2</text>
<line x1="421.1" y1="665.75" x2="423.6" y2="665.75" stroke="#222" stroke-width="0.9"/>
<text x="425.20" y="670.55" font-size="13.5">4</text>
<line x1="421.1" y1="620.00" x2="423.6" y2="620.00" stroke="#222" stroke-width="0.9"/>
<text x="425.20" y="624.80" font-size="13.5">6</text>
<text x="233.2" y="831.3" font-size="16.5" text-anchor="middle" textLength="132" lengthAdjust="spacingAndGlyphs">Number of layers</text>
<text transform="translate(26.3,715.3) rotate(-90) scale(1.14,1)" font-size="16" text-anchor="middle">Hole effective mass (m<tspan font-size="11.5" dy="3.5">0</tspan><tspan dy="-3.5">)</tspan></text>
<text transform="translate(447.6,710.3) rotate(-90)" font-size="16" text-anchor="middle">Ratio between m<tspan font-size="11" dy="3.5" font-style="italic">x</tspan><tspan dy="-3.5"> and m</tspan><tspan font-size="11" dy="3.5">y</tspan></text>
<rect x="47.9" y="626.4" width="234.9" height="39.4" rx="2" fill="#fff" fill-opacity="0.8" stroke="#d6d6d6" stroke-width="1"/>
<line x1="53.2" y1="635.1" x2="77.1" y2="635.1" stroke="#ff4040" stroke-width="1.1" stroke-dasharray="3.3,1.6"/>
<line x1="53.2" y1="652.7" x2="77.1" y2="652.7" stroke="#4040ff" stroke-width="1.1" stroke-dasharray="1.1,1.1"/>
<text x="87" y="641.3" font-size="12.4">m<tspan font-size="9" dy="2.5" font-style="italic">x</tspan><tspan dy="-2.5"> (Exp.)</tspan></text>
<text x="87" y="658.6" font-size="12.4">m<tspan font-size="9" dy="2.5" font-style="italic">y</tspan><tspan dy="-2.5"> (Exp.)</tspan></text>
<rect x="161.2" y="632.2" width="23.9" height="7.3" fill="#ff3333"/>
<rect x="161.2" y="648.9" width="23.9" height="8.7" fill="#2b2bff"/>
<text x="195.3" y="641.3" font-size="12.4">m<tspan font-size="9" dy="2.5" font-style="italic">x</tspan><tspan dy="-2.5"> (PBE+SOC)</tspan></text>
<text x="195.3" y="658.6" font-size="12.4">m<tspan font-size="9" dy="2.5" font-style="italic">y</tspan><tspan dy="-2.5"> (PBE+SOC)</tspan></text>
<rect x="346.6" y="626.2" width="71.6" height="20.4" rx="2" fill="#fff" stroke="#d6d6d6" stroke-width="1"/>
<polygon points="363.00,629.60 364.44,633.82 368.90,633.88 365.33,636.56 366.64,640.82 363.00,638.25 359.36,640.82 360.67,636.56 357.10,633.88 361.56,633.82" fill="#ffd700"/>
<text x="385.6" y="640.6" font-size="12.4">Ratio</text>
<text x="5.2" y="625.5" font-size="18.5" font-weight="bold">j</text>
<path d="M523.5,647.8 524.8,656.6 526.2,664.4 527.6,671.3 529.0,677.5 530.4,683.1 531.7,688.2 533.1,692.8 534.5,697.0 535.9,700.9 537.2,704.5 538.6,707.9 540.0,711.0 541.4,713.9 542.8,716.6 544.1,719.1 545.5,721.5 546.9,723.8 548.3,725.9 549.7,727.9 551.0,729.8 552.4,731.6 553.8,733.3 555.2,734.9 556.5,736.5 557.9,738.0 559.3,739.4 560.7,740.8 562.1,742.1 563.4,743.3 564.8,744.5 566.2,745.7 567.6,746.8 569.0,747.8 570.3,748.8 571.7,749.8 573.1,750.8 574.5,751.7 575.8,752.6 577.2,753.5 578.6,754.3 580.0,755.1 581.4,755.9 582.7,756.6 584.1,757.4 585.5,758.1 586.9,758.8 588.3,759.5 589.6,760.1 591.0,760.7 592.4,761.4 593.8,762.0 595.1,762.6 596.5,763.1 597.9,763.7 599.3,764.2 600.7,764.7 602.0,765.3 603.4,765.8 604.8,766.3 606.2,766.7 607.6,767.2 608.9,767.7 610.3,768.1 611.7,768.5 613.1,769.0 614.4,769.4 615.8,769.8 617.2,770.2 618.6,770.6 620.0,771.0 621.3,771.4 622.7,771.7 624.1,772.1 625.5,772.4 626.9,772.8 628.2,773.1 629.6,773.5 631.0,773.8 632.4,774.1 633.7,774.4 635.1,774.7 636.5,775.1 637.9,775.4 639.3,775.6 640.6,775.9 642.0,776.2 643.4,776.5 644.8,776.8 646.2,777.0 647.5,777.3 648.9,777.6 650.3,777.8 651.7,778.1 653.0,778.3 654.4,778.6 655.8,778.8 657.2,779.1 658.6,779.3 659.9,779.5" fill="none" stroke="#2020ff" stroke-width="1.3"/>
<circle cx="523.46" cy="655.70" r="4.8" fill="#ff0000"/>
<circle cx="540.52" cy="698.64" r="4.8" fill="#ff0000"/>
<circle cx="557.58" cy="737.06" r="4.8" fill="#ff0000"/>
<circle cx="574.64" cy="752.88" r="4.8" fill="#ff0000"/>
<circle cx="591.70" cy="761.92" r="4.8" fill="#ff0000"/>
<circle cx="608.76" cy="770.96" r="4.8" fill="#ff0000"/>
<circle cx="625.82" cy="780.00" r="4.8" fill="#ff0000"/>
<circle cx="642.88" cy="782.26" r="4.8" fill="#ff0000"/>
<circle cx="659.94" cy="789.04" r="4.8" fill="#ff0000"/>
<rect x="506.4" y="621.8" width="170.60" height="180.80" fill="none" stroke="#444" stroke-width="1.1"/>
<line x1="506.4" y1="802.60" x2="508.9" y2="802.60" stroke="#333" stroke-width="0.9"/>
<text x="480.76" y="808.30" font-size="16">0.7</text>
<line x1="506.4" y1="757.40" x2="508.9" y2="757.40" stroke="#333" stroke-width="0.9"/>
<text x="480.76" y="763.10" font-size="16">0.9</text>
<line x1="506.4" y1="712.20" x2="508.9" y2="712.20" stroke="#333" stroke-width="0.9"/>
<path d="M482.45,709.26 L485.86,706.59 L485.86,717.90" fill="none" stroke="#111" stroke-width="1.55"/><text x="489.66" y="717.90" font-size="16">.</text><path d="M495.80,709.26 L499.21,706.59 L499.21,717.90" fill="none" stroke="#111" stroke-width="1.55"/>
<line x1="506.4" y1="667.00" x2="508.9" y2="667.00" stroke="#333" stroke-width="0.9"/>
<path d="M482.45,664.06 L485.86,661.39 L485.86,672.70" fill="none" stroke="#111" stroke-width="1.55"/><text x="489.66" y="672.70" font-size="16">.3</text>
<line x1="506.4" y1="621.80" x2="508.9" y2="621.80" stroke="#333" stroke-width="0.9"/>
<path d="M482.45,618.86 L485.86,616.19 L485.86,627.50" fill="none" stroke="#111" stroke-width="1.55"/><text x="489.66" y="627.50" font-size="16">.5</text>
<line x1="506.40" y1="802.6" x2="506.40" y2="800.1" stroke="#333" stroke-width="0.9"/>
<text x="501.95" y="817.20" font-size="16">0</text>
<line x1="540.52" y1="802.6" x2="540.52" y2="800.1" stroke="#333" stroke-width="0.9"/>
<text x="536.07" y="817.20" font-size="16">2</text>
<line x1="574.64" y1="802.6" x2="574.64" y2="800.1" stroke="#333" stroke-width="0.9"/>
<text x="570.19" y="817.20" font-size="16">4</text>
<line x1="608.76" y1="802.6" x2="608.76" y2="800.1" stroke="#333" stroke-width="0.9"/>
<text x="604.31" y="817.20" font-size="16">6</text>
<line x1="642.88" y1="802.6" x2="642.88" y2="800.1" stroke="#333" stroke-width="0.9"/>
<text x="638.43" y="817.20" font-size="16">8</text>
<line x1="677.00" y1="802.6" x2="677.00" y2="800.1" stroke="#333" stroke-width="0.9"/>
<path d="M669.80,808.56 L673.21,805.89 L673.21,817.20" fill="none" stroke="#111" stroke-width="1.55"/><text x="677.00" y="817.20" font-size="16">0</text>
<text x="591.5" y="831.6" font-size="15.9" text-anchor="middle">Number of layers</text>
<text transform="translate(476.1,712.4) rotate(-90)" font-size="16.3" text-anchor="middle">Band gap (eV)</text>
<rect x="547.4" y="628.5" width="122.8" height="41.9" rx="2" fill="#fff" stroke="#d6d6d6" stroke-width="1"/>
<circle cx="566" cy="638.6" r="4.8" fill="#ff0000"/>
<text x="589.3" y="642.9" font-size="13.1">PBE+SOC</text>
<line x1="552.3" y1="657.7" x2="579.8" y2="657.7" stroke="#2020ff" stroke-width="1.3"/>
<text x="589.6" y="661.8" font-size="13" font-style="italic">A/N</text>
<text x="612.4" y="657.6" font-size="10" font-style="italic">α</text>
<text x="623.6" y="662.2" font-size="16">+</text>
<text x="636.3" y="661.8" font-size="13" font-style="italic">E</text>
<text x="645.2" y="664.6" font-size="10.6" font-style="italic">bulk</text>
<text x="466.2" y="625.5" font-size="18.5" font-weight="bold">k</text>
</svg></body></html>
